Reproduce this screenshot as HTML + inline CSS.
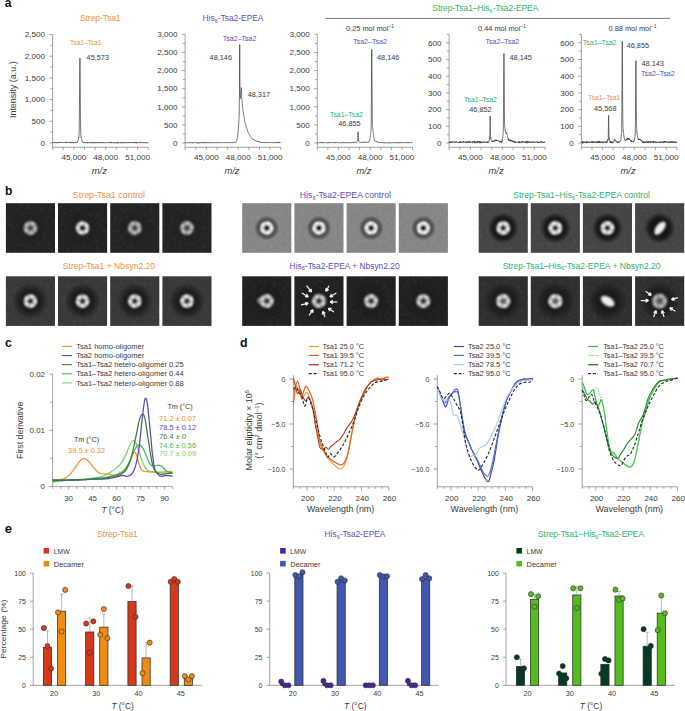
<!DOCTYPE html>
<html><head><meta charset="utf-8"><style>
html,body{margin:0;padding:0;background:#fff;}
svg{display:block;font-family:"Liberation Sans",sans-serif;}
</style></head><body>
<svg width="685" height="711" viewBox="0 0 685 711">
<rect width="685" height="711" fill="#fff"/>
<defs><filter id="bl" x="-60%" y="-60%" width="220%" height="220%"><feGaussianBlur stdDeviation="0.85"/></filter><filter id="bl2" x="-60%" y="-60%" width="220%" height="220%"><feGaussianBlur stdDeviation="1.1"/></filter><filter id="grain" x="0" y="0" width="100%" height="100%" filterUnits="objectBoundingBox"><feTurbulence type="fractalNoise" baseFrequency="0.3" numOctaves="2" seed="4"/><feColorMatrix type="matrix" values="0 0 0 0 1  0 0 0 0 1  0 0 0 0 1  2.2 0 0 0 -1.05"/></filter><filter id="grainD" x="0" y="0" width="100%" height="100%" filterUnits="objectBoundingBox"><feTurbulence type="fractalNoise" baseFrequency="0.3" numOctaves="2" seed="9"/><feColorMatrix type="matrix" values="0 0 0 0 0  0 0 0 0 0  0 0 0 0 0  2.2 0 0 0 -1.05"/></filter><radialGradient id="h1" cx="0.5" cy="0.5" r="0.5"><stop offset="0" stop-color="#141414" stop-opacity="0.45"/><stop offset="0.1" stop-color="#141414" stop-opacity="0.45"/><stop offset="0.85" stop-color="#141414" stop-opacity="0"/><stop offset="1" stop-color="#141414" stop-opacity="0"/></radialGradient><radialGradient id="h1b" cx="0.5" cy="0.5" r="0.5"><stop offset="0" stop-color="#161616" stop-opacity="0.95"/><stop offset="0.4" stop-color="#161616" stop-opacity="0.95"/><stop offset="0.6" stop-color="#161616" stop-opacity="0.6649999999999999"/><stop offset="0.9" stop-color="#161616" stop-opacity="0"/><stop offset="1" stop-color="#161616" stop-opacity="0"/></radialGradient><radialGradient id="h2t" cx="0.5" cy="0.5" r="0.5"><stop offset="0" stop-color="#1c1c1c" stop-opacity="0.92"/><stop offset="0.33999999999999997" stop-color="#1c1c1c" stop-opacity="0.92"/><stop offset="0.45" stop-color="#1c1c1c" stop-opacity="0.5060000000000001"/><stop offset="0.625" stop-color="#1c1c1c" stop-opacity="0"/><stop offset="1" stop-color="#1c1c1c" stop-opacity="0"/></radialGradient><radialGradient id="h2b" cx="0.5" cy="0.5" r="0.5"><stop offset="0" stop-color="#111111" stop-opacity="0.45"/><stop offset="0.2" stop-color="#111111" stop-opacity="0.45"/><stop offset="1.0" stop-color="#111111" stop-opacity="0"/><stop offset="1" stop-color="#111111" stop-opacity="0"/></radialGradient><radialGradient id="h3t" cx="0.5" cy="0.5" r="0.5"><stop offset="0" stop-color="#141414" stop-opacity="1"/><stop offset="0.425" stop-color="#141414" stop-opacity="1"/><stop offset="0.55" stop-color="#141414" stop-opacity="0.8"/><stop offset="0.775" stop-color="#141414" stop-opacity="0"/><stop offset="1" stop-color="#141414" stop-opacity="0"/></radialGradient><radialGradient id="h3b" cx="0.5" cy="0.5" r="0.5"><stop offset="0" stop-color="#161616" stop-opacity="0.85"/><stop offset="0.45" stop-color="#161616" stop-opacity="0.85"/><stop offset="0.7" stop-color="#161616" stop-opacity="0.51"/><stop offset="0.95" stop-color="#161616" stop-opacity="0"/><stop offset="1" stop-color="#161616" stop-opacity="0"/></radialGradient><radialGradient id="blob" cx="0.5" cy="0.5" r="0.5"><stop offset="0" stop-color="#f4f4f4" stop-opacity="1"/><stop offset="0.6" stop-color="#ececec" stop-opacity="1"/><stop offset="1" stop-color="#e8e8e8" stop-opacity="0"/></radialGradient></defs>
<text x="4.80" y="6.70" font-size="13" fill="#111" textLength="6.70" lengthAdjust="spacingAndGlyphs" font-weight="bold" >a</text>
<line x1="52.60" y1="34.50" x2="52.60" y2="147.30" stroke="#7d7d7d" stroke-width="0.7" />
<line x1="49.40" y1="143.00" x2="52.60" y2="143.00" stroke="#7d7d7d" stroke-width="0.7" />
<text x="45.10" y="145.70" font-size="7.8" fill="#3a3a3a" text-anchor="end" textLength="4.51" lengthAdjust="spacingAndGlyphs" >0</text>
<line x1="50.40" y1="132.15" x2="52.60" y2="132.15" stroke="#7d7d7d" stroke-width="0.7" />
<line x1="49.40" y1="121.30" x2="52.60" y2="121.30" stroke="#7d7d7d" stroke-width="0.7" />
<text x="45.10" y="124.00" font-size="7.8" fill="#3a3a3a" text-anchor="end" textLength="13.53" lengthAdjust="spacingAndGlyphs" >500</text>
<line x1="50.40" y1="110.45" x2="52.60" y2="110.45" stroke="#7d7d7d" stroke-width="0.7" />
<line x1="49.40" y1="99.60" x2="52.60" y2="99.60" stroke="#7d7d7d" stroke-width="0.7" />
<text x="45.10" y="102.30" font-size="7.8" fill="#3a3a3a" text-anchor="end" textLength="20.30" lengthAdjust="spacingAndGlyphs" >1,000</text>
<line x1="50.40" y1="88.75" x2="52.60" y2="88.75" stroke="#7d7d7d" stroke-width="0.7" />
<line x1="49.40" y1="77.90" x2="52.60" y2="77.90" stroke="#7d7d7d" stroke-width="0.7" />
<text x="45.10" y="80.60" font-size="7.8" fill="#3a3a3a" text-anchor="end" textLength="20.30" lengthAdjust="spacingAndGlyphs" >1,500</text>
<line x1="50.40" y1="67.05" x2="52.60" y2="67.05" stroke="#7d7d7d" stroke-width="0.7" />
<line x1="49.40" y1="56.20" x2="52.60" y2="56.20" stroke="#7d7d7d" stroke-width="0.7" />
<text x="45.10" y="58.90" font-size="7.8" fill="#3a3a3a" text-anchor="end" textLength="20.30" lengthAdjust="spacingAndGlyphs" >2,000</text>
<line x1="50.40" y1="45.35" x2="52.60" y2="45.35" stroke="#7d7d7d" stroke-width="0.7" />
<line x1="49.40" y1="34.50" x2="52.60" y2="34.50" stroke="#7d7d7d" stroke-width="0.7" />
<text x="45.10" y="37.20" font-size="7.8" fill="#3a3a3a" text-anchor="end" textLength="20.30" lengthAdjust="spacingAndGlyphs" >2,500</text>
<line x1="52.60" y1="147.30" x2="148.18" y2="147.30" stroke="#7d7d7d" stroke-width="0.7" />
<line x1="52.60" y1="147.30" x2="52.60" y2="149.90" stroke="#7d7d7d" stroke-width="0.7" />
<line x1="63.22" y1="147.30" x2="63.22" y2="149.90" stroke="#7d7d7d" stroke-width="0.7" />
<line x1="73.84" y1="147.30" x2="73.84" y2="149.90" stroke="#7d7d7d" stroke-width="0.7" />
<line x1="84.46" y1="147.30" x2="84.46" y2="149.90" stroke="#7d7d7d" stroke-width="0.7" />
<line x1="95.08" y1="147.30" x2="95.08" y2="149.90" stroke="#7d7d7d" stroke-width="0.7" />
<line x1="105.70" y1="147.30" x2="105.70" y2="149.90" stroke="#7d7d7d" stroke-width="0.7" />
<line x1="116.32" y1="147.30" x2="116.32" y2="149.90" stroke="#7d7d7d" stroke-width="0.7" />
<line x1="126.94" y1="147.30" x2="126.94" y2="149.90" stroke="#7d7d7d" stroke-width="0.7" />
<line x1="137.56" y1="147.30" x2="137.56" y2="149.90" stroke="#7d7d7d" stroke-width="0.7" />
<line x1="148.18" y1="147.30" x2="148.18" y2="149.90" stroke="#7d7d7d" stroke-width="0.7" />
<text x="73.84" y="160.40" font-size="7.8" fill="#3a3a3a" text-anchor="middle" textLength="24.81" lengthAdjust="spacingAndGlyphs" >45,000</text>
<text x="105.70" y="160.40" font-size="7.8" fill="#3a3a3a" text-anchor="middle" textLength="24.81" lengthAdjust="spacingAndGlyphs" >48,000</text>
<text x="137.56" y="160.40" font-size="7.8" fill="#3a3a3a" text-anchor="middle" textLength="24.81" lengthAdjust="spacingAndGlyphs" >51,000</text>
<text x="99.39" y="174.00" font-size="8.5" fill="#3a3a3a" text-anchor="middle" textLength="15.00" lengthAdjust="spacingAndGlyphs" font-style="italic" >m/z</text>
<path d="M52.60,143.01 L52.76,142.66 L52.92,142.52 L53.08,142.85 L53.24,143.03 L53.40,142.75 L53.56,142.64 L53.72,142.50 L53.87,143.00 L54.03,143.02 L54.19,142.59 L54.35,142.64 L54.51,142.41 L54.67,142.53 L54.83,142.76 L54.99,142.80 L55.15,142.18 L55.31,142.80 L55.47,142.91 L55.63,142.99 L55.79,142.72 L55.95,142.71 L56.10,142.81 L56.26,142.75 L56.42,142.68 L56.58,142.59 L56.74,142.50 L56.90,142.69 L57.06,143.12 L57.22,142.58 L57.38,143.04 L57.54,142.77 L57.70,143.05 L57.86,142.73 L58.02,142.90 L58.18,142.68 L58.33,142.01 L58.49,142.73 L58.65,142.54 L58.81,143.01 L58.97,142.78 L59.13,142.57 L59.29,142.73 L59.45,142.63 L59.61,142.68 L59.77,142.92 L59.93,142.57 L60.09,142.87 L60.25,142.28 L60.41,142.79 L60.56,142.53 L60.72,142.67 L60.88,142.46 L61.04,142.79 L61.20,142.43 L61.36,142.67 L61.52,142.36 L61.68,142.49 L61.84,142.58 L62.00,142.78 L62.16,142.43 L62.32,142.49 L62.48,142.22 L62.64,142.65 L62.80,142.44 L62.95,142.44 L63.11,142.47 L63.27,142.48 L63.43,142.48 L63.59,142.63 L63.75,142.71 L63.91,142.57 L64.07,142.35 L64.23,142.14 L64.39,142.24 L64.55,142.22 L64.71,142.27 L64.87,142.28 L65.03,142.38 L65.18,142.25 L65.34,142.03 L65.50,142.48 L65.66,142.55 L65.82,141.97 L65.98,142.34 L66.14,142.18 L66.30,142.20 L66.46,142.64 L66.62,141.87 L66.78,142.01 L66.94,142.36 L67.10,142.24 L67.26,142.38 L67.41,142.60 L67.57,142.44 L67.73,142.34 L67.89,142.19 L68.05,142.28 L68.21,142.43 L68.37,142.16 L68.53,142.63 L68.69,142.30 L68.85,142.24 L69.01,142.55 L69.17,142.89 L69.33,142.71 L69.49,142.47 L69.65,142.42 L69.80,142.21 L69.96,142.77 L70.12,142.56 L70.28,142.43 L70.44,142.62 L70.60,143.11 L70.76,142.43 L70.92,142.11 L71.08,142.40 L71.24,142.83 L71.40,142.73 L71.56,142.60 L71.72,142.11 L71.88,142.53 L72.03,142.64 L72.19,142.33 L72.35,142.70 L72.51,142.28 L72.67,142.84 L72.83,142.80 L72.99,142.54 L73.15,142.39 L73.31,142.56 L73.47,142.64 L73.63,143.11 L73.79,142.87 L73.95,142.85 L74.11,142.84 L74.26,142.60 L74.42,142.80 L74.58,142.56 L74.74,142.71 L74.90,142.80 L75.06,142.70 L75.22,142.64 L75.38,142.54 L75.54,142.83 L75.70,142.78 L75.86,143.02 L76.02,142.36 L76.18,142.38 L76.34,142.71 L76.50,142.74 L76.65,142.86 L76.81,142.49 L76.97,142.39 L77.13,141.84 L77.29,142.09 L77.45,142.10 L77.61,142.20 L77.77,141.03 L77.93,140.89 L78.09,140.81 L78.25,139.88 L78.41,139.66 L78.57,137.89 L78.73,137.65 L78.77,137.53 L78.81,137.44 L78.85,137.58 L78.90,136.81 L78.94,136.71 L78.98,135.74 L79.02,135.71 L79.07,134.64 L79.11,133.16 L79.15,131.76 L79.19,130.74 L79.23,128.76 L79.28,125.71 L79.32,122.66 L79.36,119.43 L79.40,115.14 L79.45,110.33 L79.49,105.09 L79.53,99.17 L79.57,92.63 L79.62,86.49 L79.66,80.00 L79.70,74.57 L79.74,69.24 L79.79,64.88 L79.83,61.15 L79.87,59.07 L79.91,58.13 L79.96,57.91 L80.00,59.41 L80.04,62.47 L80.08,66.38 L80.13,71.55 L80.17,77.37 L80.21,83.24 L80.25,89.56 L80.30,95.90 L80.34,101.98 L80.38,107.49 L80.42,112.23 L80.47,116.69 L80.51,120.72 L80.55,123.62 L80.59,126.65 L80.64,128.82 L80.68,130.50 L80.72,132.39 L80.76,133.78 L80.81,134.08 L80.85,135.09 L80.89,135.20 L80.93,135.86 L80.98,136.07 L81.02,136.43 L81.06,137.32 L81.10,136.95 L81.15,137.48 L81.19,137.71 L81.23,137.84 L81.39,138.30 L81.55,138.95 L81.71,139.55 L81.87,140.69 L82.03,140.95 L82.19,141.75 L82.35,141.61 L82.51,141.74 L82.67,142.26 L82.82,142.22 L82.98,142.36 L83.14,142.29 L83.30,142.76 L83.46,142.81 L83.62,142.83 L83.78,142.31 L83.94,142.47 L84.10,142.75 L84.26,142.68 L84.42,142.71 L84.58,142.69 L84.74,142.78 L84.90,142.81 L85.05,143.01 L85.21,142.88 L85.37,142.38 L85.53,142.62 L85.69,142.73 L85.85,142.79 L86.01,142.73 L86.17,142.66 L86.33,142.88 L86.49,142.70 L86.65,142.69 L86.81,142.90 L86.97,142.91 L87.13,142.96 L87.28,142.97 L87.44,142.55 L87.60,143.25 L87.76,142.80 L87.92,142.87 L88.08,142.87 L88.24,142.72 L88.40,142.49 L88.56,142.72 L88.72,142.77 L88.88,142.87 L89.04,142.77 L89.20,142.54 L89.36,142.83 L89.52,142.99 L89.67,143.01 L89.83,142.98 L89.99,143.04 L90.15,142.50 L90.31,142.66 L90.47,142.79 L90.63,142.42 L90.79,142.88 L90.95,142.58 L91.11,142.57 L91.27,143.08 L91.43,143.08 L91.59,142.94 L91.75,142.54 L91.90,142.46 L92.06,143.01 L92.22,142.51 L92.38,142.82 L92.54,142.82 L92.70,142.86 L92.86,142.81 L93.02,143.13 L93.18,142.96 L93.34,143.01 L93.50,142.63 L93.66,142.29 L93.82,142.15 L93.98,142.81 L94.13,143.11 L94.29,142.83 L94.45,142.94 L94.61,142.31 L94.77,142.62 L94.93,142.90 L95.09,142.54 L95.25,142.62 L95.41,143.09 L95.57,142.85 L95.73,142.79 L95.89,142.74 L96.05,142.71 L96.21,142.81 L96.37,142.70 L96.52,142.87 L96.68,142.93 L96.84,142.41 L97.00,142.66 L97.16,142.64 L97.32,143.09 L97.48,142.78 L97.64,142.56 L97.80,143.02 L97.96,142.50 L98.12,142.82 L98.28,142.65 L98.44,142.77 L98.60,142.69 L98.75,142.48 L98.91,142.83 L99.07,142.40 L99.23,142.91 L99.39,142.94 L99.55,142.59 L99.71,142.97 L99.87,142.82 L100.03,142.54 L100.19,142.48 L100.35,143.12 L100.51,142.63 L100.67,142.33 L100.83,142.48 L100.98,142.79 L101.14,142.87 L101.30,142.80 L101.46,142.99 L101.62,142.80 L101.78,142.78 L101.94,142.77 L102.10,142.48 L102.26,142.79 L102.42,143.06 L102.58,142.51 L102.74,142.97 L102.90,142.84 L103.06,142.77 L103.21,142.81 L103.37,142.96 L103.53,142.79 L103.69,142.27 L103.85,142.87 L104.01,142.77 L104.17,142.50 L104.33,142.58 L104.49,142.57 L104.65,142.55 L104.81,143.17 L104.97,142.93 L105.13,142.71 L105.29,142.63 L105.45,142.46 L105.60,142.64 L105.76,142.79 L105.92,142.73 L106.08,142.79 L106.24,142.69 L106.40,142.59 L106.56,142.81 L106.72,142.92 L106.88,142.93 L107.04,142.50 L107.20,142.46 L107.36,142.52 L107.52,142.55 L107.68,142.56 L107.83,142.74 L107.99,142.60 L108.15,142.97 L108.31,142.78 L108.47,142.90 L108.63,142.58 L108.79,142.87 L108.95,142.76 L109.11,142.65 L109.27,142.45 L109.43,142.91 L109.59,142.94 L109.75,142.56 L109.91,142.98 L110.06,142.64 L110.22,142.86 L110.38,142.76 L110.54,143.13 L110.70,142.58 L110.86,142.85 L111.02,142.93 L111.18,142.29 L111.34,142.59 L111.50,141.98 L111.66,142.65 L111.82,142.82 L111.98,142.72 L112.14,142.39 L112.30,142.75 L112.45,142.64 L112.61,142.63 L112.77,142.94 L112.93,142.71 L113.09,142.85 L113.25,143.01 L113.41,142.55 L113.57,142.60 L113.73,142.72 L113.89,142.94 L114.05,143.17 L114.21,142.63 L114.37,142.76 L114.53,143.10 L114.68,142.75 L114.84,143.07 L115.00,142.75 L115.16,142.71 L115.32,142.66 L115.48,142.69 L115.64,142.70 L115.80,142.99 L115.96,142.82 L116.12,142.85 L116.28,142.79 L116.44,142.68 L116.60,142.61 L116.76,142.38 L116.91,143.30 L117.07,142.65 L117.23,142.78 L117.39,142.25 L117.55,142.54 L117.71,143.10 L117.87,142.65 L118.03,142.85 L118.19,142.52 L118.35,142.97 L118.51,142.76 L118.67,142.77 L118.83,142.76 L118.99,142.87 L119.14,143.14 L119.30,142.64 L119.46,142.52 L119.62,142.75 L119.78,142.96 L119.94,142.70 L120.10,142.62 L120.26,142.78 L120.42,142.74 L120.58,142.43 L120.74,142.98 L120.90,142.86 L121.06,143.15 L121.22,142.89 L121.38,142.90 L121.53,142.95 L121.69,142.89 L121.85,142.35 L122.01,142.78 L122.17,142.76 L122.33,142.26 L122.49,142.75 L122.65,143.12 L122.81,142.65 L122.97,142.94 L123.13,142.38 L123.29,143.01 L123.45,142.87 L123.61,143.09 L123.76,142.72 L123.92,142.96 L124.08,142.75 L124.24,142.82 L124.40,142.87 L124.56,142.53 L124.72,142.54 L124.88,142.73 L125.04,142.93 L125.20,142.97 L125.36,142.68 L125.52,142.22 L125.68,142.84 L125.84,142.91 L125.99,142.89 L126.15,142.98 L126.31,142.95 L126.47,142.78 L126.63,142.43 L126.79,142.74 L126.95,142.85 L127.11,143.09 L127.27,142.69 L127.43,142.75 L127.59,143.01 L127.75,142.98 L127.91,142.75 L128.07,142.52 L128.23,142.60 L128.38,142.69 L128.54,142.81 L128.70,142.67 L128.86,142.74 L129.02,142.27 L129.18,142.99 L129.34,142.82 L129.50,142.46 L129.66,142.80 L129.82,142.43 L129.98,142.75 L130.14,142.71 L130.30,142.82 L130.46,143.04 L130.61,142.95 L130.77,142.26 L130.93,142.60 L131.09,142.61 L131.25,142.53 L131.41,142.62 L131.57,142.52 L131.73,142.80 L131.89,142.79 L132.05,142.53 L132.21,142.82 L132.37,143.03 L132.53,142.79 L132.69,142.86 L132.84,142.61 L133.00,142.90 L133.16,142.97 L133.32,142.81 L133.48,142.40 L133.64,142.75 L133.80,142.70 L133.96,142.74 L134.12,142.68 L134.28,142.54 L134.44,142.44 L134.60,143.10 L134.76,142.44 L134.92,142.74 L135.07,142.81 L135.23,142.22 L135.39,142.78 L135.55,142.32 L135.71,142.53 L135.87,142.96 L136.03,142.63 L136.19,142.58 L136.35,142.77 L136.51,143.24 L136.67,142.81 L136.83,142.78 L136.99,142.98 L137.15,142.34 L137.31,142.79 L137.46,142.82 L137.62,142.80 L137.78,142.91 L137.94,142.91 L138.10,142.72 L138.26,142.67 L138.42,142.85 L138.58,142.76 L138.74,143.04 L138.90,142.63 L139.06,142.90 L139.22,142.69 L139.38,142.94 L139.54,142.85 L139.69,142.69 L139.85,143.00 L140.01,142.20 L140.17,142.75 L140.33,142.76 L140.49,142.90 L140.65,142.39 L140.81,142.44 L140.97,142.67 L141.13,143.04 L141.29,142.85 L141.45,142.61 L141.61,142.85 L141.77,143.00 L141.92,143.00 L142.08,142.91 L142.24,142.74 L142.40,142.88 L142.56,142.74 L142.72,142.13 L142.88,142.35 L143.04,142.96 L143.20,142.67 L143.36,142.72 L143.52,142.77 L143.68,142.51 L143.84,142.81 L144.00,142.81 L144.16,142.82 L144.31,142.76 L144.47,142.46 L144.63,142.57 L144.79,143.03 L144.95,142.84 L145.11,142.91 L145.27,142.56 L145.43,142.69 L145.59,142.55 L145.75,142.75 L145.91,143.15 L146.07,142.64 L146.23,142.69 L146.39,142.63 L146.54,143.02 L146.70,142.72 L146.86,142.89 L147.02,142.89 L147.18,142.66 L147.34,142.66 L147.50,142.93 L147.66,143.11 L147.82,143.28 L147.98,142.86 L148.14,142.50" fill="none" stroke="#333333" stroke-width="0.68" stroke-linejoin="round" />
<line x1="185.10" y1="34.40" x2="185.10" y2="147.30" stroke="#7d7d7d" stroke-width="0.7" />
<line x1="181.90" y1="143.00" x2="185.10" y2="143.00" stroke="#7d7d7d" stroke-width="0.7" />
<text x="177.60" y="145.70" font-size="7.8" fill="#3a3a3a" text-anchor="end" textLength="4.51" lengthAdjust="spacingAndGlyphs" >0</text>
<line x1="182.90" y1="133.95" x2="185.10" y2="133.95" stroke="#7d7d7d" stroke-width="0.7" />
<line x1="181.90" y1="124.90" x2="185.10" y2="124.90" stroke="#7d7d7d" stroke-width="0.7" />
<text x="177.60" y="127.60" font-size="7.8" fill="#3a3a3a" text-anchor="end" textLength="13.53" lengthAdjust="spacingAndGlyphs" >500</text>
<line x1="182.90" y1="115.85" x2="185.10" y2="115.85" stroke="#7d7d7d" stroke-width="0.7" />
<line x1="181.90" y1="106.80" x2="185.10" y2="106.80" stroke="#7d7d7d" stroke-width="0.7" />
<text x="177.60" y="109.50" font-size="7.8" fill="#3a3a3a" text-anchor="end" textLength="20.30" lengthAdjust="spacingAndGlyphs" >1,000</text>
<line x1="182.90" y1="97.75" x2="185.10" y2="97.75" stroke="#7d7d7d" stroke-width="0.7" />
<line x1="181.90" y1="88.70" x2="185.10" y2="88.70" stroke="#7d7d7d" stroke-width="0.7" />
<text x="177.60" y="91.40" font-size="7.8" fill="#3a3a3a" text-anchor="end" textLength="20.30" lengthAdjust="spacingAndGlyphs" >1,500</text>
<line x1="182.90" y1="79.65" x2="185.10" y2="79.65" stroke="#7d7d7d" stroke-width="0.7" />
<line x1="181.90" y1="70.60" x2="185.10" y2="70.60" stroke="#7d7d7d" stroke-width="0.7" />
<text x="177.60" y="73.30" font-size="7.8" fill="#3a3a3a" text-anchor="end" textLength="20.30" lengthAdjust="spacingAndGlyphs" >2,000</text>
<line x1="182.90" y1="61.55" x2="185.10" y2="61.55" stroke="#7d7d7d" stroke-width="0.7" />
<line x1="181.90" y1="52.50" x2="185.10" y2="52.50" stroke="#7d7d7d" stroke-width="0.7" />
<text x="177.60" y="55.20" font-size="7.8" fill="#3a3a3a" text-anchor="end" textLength="20.30" lengthAdjust="spacingAndGlyphs" >2,500</text>
<line x1="182.90" y1="43.45" x2="185.10" y2="43.45" stroke="#7d7d7d" stroke-width="0.7" />
<line x1="181.90" y1="34.40" x2="185.10" y2="34.40" stroke="#7d7d7d" stroke-width="0.7" />
<text x="177.60" y="37.10" font-size="7.8" fill="#3a3a3a" text-anchor="end" textLength="20.30" lengthAdjust="spacingAndGlyphs" >3,000</text>
<line x1="185.10" y1="147.30" x2="280.77" y2="147.30" stroke="#7d7d7d" stroke-width="0.7" />
<line x1="185.10" y1="147.30" x2="185.10" y2="149.90" stroke="#7d7d7d" stroke-width="0.7" />
<line x1="195.73" y1="147.30" x2="195.73" y2="149.90" stroke="#7d7d7d" stroke-width="0.7" />
<line x1="206.36" y1="147.30" x2="206.36" y2="149.90" stroke="#7d7d7d" stroke-width="0.7" />
<line x1="216.99" y1="147.30" x2="216.99" y2="149.90" stroke="#7d7d7d" stroke-width="0.7" />
<line x1="227.62" y1="147.30" x2="227.62" y2="149.90" stroke="#7d7d7d" stroke-width="0.7" />
<line x1="238.25" y1="147.30" x2="238.25" y2="149.90" stroke="#7d7d7d" stroke-width="0.7" />
<line x1="248.88" y1="147.30" x2="248.88" y2="149.90" stroke="#7d7d7d" stroke-width="0.7" />
<line x1="259.51" y1="147.30" x2="259.51" y2="149.90" stroke="#7d7d7d" stroke-width="0.7" />
<line x1="270.14" y1="147.30" x2="270.14" y2="149.90" stroke="#7d7d7d" stroke-width="0.7" />
<line x1="280.77" y1="147.30" x2="280.77" y2="149.90" stroke="#7d7d7d" stroke-width="0.7" />
<text x="206.36" y="160.40" font-size="7.8" fill="#3a3a3a" text-anchor="middle" textLength="24.81" lengthAdjust="spacingAndGlyphs" >45,000</text>
<text x="238.25" y="160.40" font-size="7.8" fill="#3a3a3a" text-anchor="middle" textLength="24.81" lengthAdjust="spacingAndGlyphs" >48,000</text>
<text x="270.14" y="160.40" font-size="7.8" fill="#3a3a3a" text-anchor="middle" textLength="24.81" lengthAdjust="spacingAndGlyphs" >51,000</text>
<text x="231.94" y="174.00" font-size="8.5" fill="#3a3a3a" text-anchor="middle" textLength="15.00" lengthAdjust="spacingAndGlyphs" font-style="italic" >m/z</text>
<path d="M185.10,143.10 L185.26,142.86 L185.42,142.93 L185.58,142.96 L185.74,142.75 L185.90,142.88 L186.06,142.93 L186.22,142.63 L186.38,142.96 L186.54,143.07 L186.69,143.08 L186.85,142.96 L187.01,142.79 L187.17,142.76 L187.33,142.72 L187.49,142.61 L187.65,142.63 L187.81,142.78 L187.97,142.68 L188.13,142.78 L188.29,142.96 L188.45,142.75 L188.61,142.86 L188.77,142.90 L188.93,142.58 L189.09,142.76 L189.25,142.94 L189.41,142.88 L189.56,142.53 L189.72,142.90 L189.88,142.76 L190.04,142.77 L190.20,142.79 L190.36,142.78 L190.52,142.93 L190.68,142.93 L190.84,142.89 L191.00,142.91 L191.16,142.74 L191.32,142.63 L191.48,142.99 L191.64,142.78 L191.80,143.00 L191.96,142.96 L192.12,142.89 L192.28,142.84 L192.43,142.92 L192.59,143.24 L192.75,142.65 L192.91,142.89 L193.07,142.95 L193.23,142.75 L193.39,142.94 L193.55,143.06 L193.71,142.78 L193.87,142.79 L194.03,142.97 L194.19,142.73 L194.35,142.79 L194.51,143.02 L194.67,142.59 L194.83,142.81 L194.99,143.01 L195.15,142.78 L195.30,142.83 L195.46,142.70 L195.62,143.04 L195.78,142.69 L195.94,142.71 L196.10,142.74 L196.26,142.75 L196.42,142.65 L196.58,142.74 L196.74,142.82 L196.90,142.96 L197.06,142.68 L197.22,142.69 L197.38,142.79 L197.54,142.82 L197.70,142.73 L197.86,143.21 L198.02,142.79 L198.17,143.20 L198.33,142.80 L198.49,142.68 L198.65,142.56 L198.81,142.90 L198.97,142.77 L199.13,142.84 L199.29,143.16 L199.45,142.72 L199.61,142.83 L199.77,142.82 L199.93,142.97 L200.09,142.83 L200.25,142.82 L200.41,142.64 L200.57,142.78 L200.73,142.31 L200.89,142.89 L201.04,142.86 L201.20,142.83 L201.36,142.94 L201.52,142.60 L201.68,142.73 L201.84,143.01 L202.00,142.81 L202.16,142.65 L202.32,143.03 L202.48,142.80 L202.64,142.85 L202.80,142.48 L202.96,142.76 L203.12,142.88 L203.28,142.90 L203.44,142.54 L203.60,142.88 L203.76,142.48 L203.92,143.04 L204.07,142.84 L204.23,142.85 L204.39,142.92 L204.55,142.84 L204.71,142.71 L204.87,142.91 L205.03,143.02 L205.19,142.61 L205.35,142.59 L205.51,142.91 L205.67,142.76 L205.83,143.19 L205.99,142.65 L206.15,143.00 L206.31,142.89 L206.47,142.49 L206.63,142.99 L206.79,142.80 L206.94,142.96 L207.10,143.07 L207.26,142.97 L207.42,142.76 L207.58,142.99 L207.74,142.89 L207.90,142.69 L208.06,142.82 L208.22,142.99 L208.38,142.58 L208.54,142.78 L208.70,142.59 L208.86,142.95 L209.02,142.55 L209.18,142.99 L209.34,143.05 L209.50,142.86 L209.66,142.85 L209.81,142.75 L209.97,142.87 L210.13,142.70 L210.29,142.60 L210.45,142.89 L210.61,142.99 L210.77,142.85 L210.93,142.67 L211.09,142.67 L211.25,142.84 L211.41,142.93 L211.57,142.79 L211.73,142.64 L211.89,142.89 L212.05,142.59 L212.21,142.75 L212.37,142.74 L212.53,142.88 L212.68,142.58 L212.84,142.78 L213.00,143.00 L213.16,142.66 L213.32,142.84 L213.48,142.62 L213.64,142.75 L213.80,142.87 L213.96,142.75 L214.12,142.85 L214.28,142.90 L214.44,142.77 L214.60,142.65 L214.76,142.76 L214.92,142.79 L215.08,142.86 L215.24,142.69 L215.40,142.73 L215.55,142.63 L215.71,142.72 L215.87,142.46 L216.03,143.00 L216.19,142.78 L216.35,142.69 L216.51,142.64 L216.67,142.99 L216.83,142.95 L216.99,142.77 L217.15,142.61 L217.31,142.60 L217.47,142.99 L217.63,142.75 L217.79,142.59 L217.95,142.76 L218.11,142.91 L218.27,142.87 L218.43,142.96 L218.58,142.59 L218.74,142.80 L218.90,142.82 L219.06,142.89 L219.22,142.78 L219.38,142.89 L219.54,142.90 L219.70,142.76 L219.86,142.79 L220.02,142.69 L220.18,142.73 L220.34,142.58 L220.50,142.76 L220.66,142.72 L220.82,142.72 L220.98,142.87 L221.14,142.58 L221.30,142.83 L221.45,142.98 L221.61,142.57 L221.77,142.65 L221.93,142.83 L222.09,142.61 L222.25,142.61 L222.41,142.64 L222.57,142.92 L222.73,142.72 L222.89,142.90 L223.05,142.83 L223.21,142.83 L223.37,142.87 L223.53,142.67 L223.69,142.86 L223.85,142.65 L224.01,142.72 L224.17,142.83 L224.32,142.72 L224.48,142.64 L224.64,142.57 L224.80,142.78 L224.96,142.48 L225.12,142.65 L225.28,142.55 L225.44,142.93 L225.60,142.89 L225.76,142.56 L225.92,142.77 L226.08,142.67 L226.24,142.56 L226.40,142.94 L226.56,142.67 L226.72,142.45 L226.88,142.61 L227.04,142.72 L227.19,142.65 L227.35,142.73 L227.51,142.62 L227.67,142.54 L227.83,142.76 L227.99,142.64 L228.15,142.68 L228.31,142.62 L228.47,142.60 L228.63,142.88 L228.79,142.55 L228.95,142.60 L229.11,142.88 L229.27,142.76 L229.43,142.93 L229.59,142.76 L229.75,142.67 L229.91,142.89 L230.06,142.83 L230.22,142.85 L230.38,142.82 L230.54,142.83 L230.70,142.87 L230.86,142.63 L231.02,142.75 L231.18,142.84 L231.34,142.57 L231.50,142.80 L231.66,142.58 L231.82,142.89 L231.98,142.51 L232.14,142.78 L232.30,142.85 L232.46,142.65 L232.62,142.90 L232.78,142.87 L232.94,142.67 L233.09,142.78 L233.25,142.65 L233.41,142.69 L233.57,142.67 L233.73,142.69 L233.89,142.60 L234.05,142.67 L234.21,142.40 L234.37,142.31 L234.53,142.63 L234.69,142.49 L234.85,141.90 L235.01,142.08 L235.17,142.07 L235.33,142.30 L235.49,142.42 L235.65,142.32 L235.81,142.62 L235.96,142.22 L236.12,141.94 L236.28,141.81 L236.44,141.49 L236.60,141.12 L236.76,140.17 L236.92,139.21 L237.08,138.65 L237.24,137.68 L237.40,136.31 L237.56,135.67 L237.72,134.62 L237.88,133.90 L238.04,133.03 L238.20,130.82 L238.36,128.91 L238.52,126.47 L238.68,123.84 L238.83,121.54 L238.88,121.14 L238.92,120.24 L238.96,119.52 L239.00,119.21 L239.05,118.43 L239.09,117.59 L239.13,115.10 L239.17,112.82 L239.22,109.68 L239.26,106.68 L239.30,103.92 L239.34,101.03 L239.39,98.07 L239.43,93.61 L239.47,85.27 L239.51,76.42 L239.56,67.86 L239.60,59.29 L239.64,50.62 L239.69,44.50 L239.73,46.27 L239.77,53.49 L239.81,60.82 L239.86,68.24 L239.90,75.82 L239.94,83.19 L239.98,86.42 L240.03,87.99 L240.07,89.74 L240.11,91.37 L240.15,93.05 L240.20,94.56 L240.24,96.24 L240.28,97.68 L240.32,97.97 L240.37,97.94 L240.41,98.00 L240.45,98.07 L240.49,98.30 L240.54,97.90 L240.58,97.66 L240.62,97.01 L240.66,96.54 L240.71,96.24 L240.75,95.84 L240.79,95.09 L240.83,94.96 L240.88,94.26 L240.92,93.92 L240.96,93.39 L241.00,92.83 L241.05,92.32 L241.09,91.72 L241.13,90.92 L241.17,90.42 L241.22,90.11 L241.26,89.48 L241.30,88.88 L241.34,88.53 L241.39,87.66 L241.43,88.65 L241.47,89.73 L241.51,91.11 L241.56,92.30 L241.60,93.44 L241.64,94.54 L241.68,95.46 L241.73,96.81 L241.77,97.63 L241.81,98.30 L241.85,98.86 L241.90,99.17 L241.94,99.73 L241.98,100.40 L242.02,100.63 L242.07,100.95 L242.11,101.63 L242.15,102.25 L242.19,102.67 L242.24,103.21 L242.28,103.55 L242.32,104.14 L242.36,104.50 L242.41,104.93 L242.45,105.25 L242.49,106.09 L242.53,106.70 L242.58,106.64 L242.62,107.30 L242.66,107.89 L242.70,108.25 L242.75,108.94 L242.79,109.33 L242.83,109.50 L242.87,109.91 L242.92,110.11 L242.96,110.33 L243.00,110.64 L243.04,110.95 L243.09,111.10 L243.13,111.25 L243.17,111.52 L243.21,112.10 L243.26,112.12 L243.30,112.77 L243.34,112.96 L243.38,112.97 L243.43,113.21 L243.47,113.35 L243.63,114.79 L243.79,115.37 L243.95,116.59 L244.11,117.57 L244.27,118.42 L244.43,119.27 L244.59,120.60 L244.74,121.70 L244.90,122.21 L245.06,122.64 L245.22,122.96 L245.38,123.59 L245.54,124.19 L245.70,124.73 L245.86,125.23 L246.02,125.53 L246.18,126.42 L246.34,126.79 L246.50,127.32 L246.66,127.54 L246.82,128.19 L246.98,128.81 L247.14,129.11 L247.30,129.45 L247.46,130.09 L247.62,130.93 L247.77,131.28 L247.93,131.60 L248.09,132.53 L248.25,132.87 L248.41,133.01 L248.57,133.13 L248.73,133.57 L248.89,133.69 L249.05,133.99 L249.21,134.17 L249.37,134.65 L249.53,135.05 L249.69,135.30 L249.85,135.22 L250.01,135.35 L250.17,135.68 L250.33,136.24 L250.49,136.51 L250.64,136.56 L250.80,136.90 L250.96,137.29 L251.12,137.36 L251.28,137.65 L251.44,137.81 L251.60,137.99 L251.76,138.27 L251.92,138.53 L252.08,138.65 L252.24,138.82 L252.40,138.95 L252.56,139.02 L252.72,138.88 L252.88,139.17 L253.04,139.10 L253.20,139.06 L253.36,139.12 L253.51,139.77 L253.67,139.52 L253.83,139.48 L253.99,139.77 L254.15,139.89 L254.31,140.07 L254.47,140.04 L254.63,140.03 L254.79,140.38 L254.95,140.19 L255.11,140.39 L255.27,140.35 L255.43,140.59 L255.59,140.50 L255.75,140.57 L255.91,140.78 L256.07,140.86 L256.23,140.70 L256.38,140.83 L256.54,141.12 L256.70,141.02 L256.86,141.33 L257.02,141.32 L257.18,141.75 L257.34,141.49 L257.50,141.37 L257.66,141.57 L257.82,141.45 L257.98,141.67 L258.14,141.57 L258.30,141.67 L258.46,141.83 L258.62,141.42 L258.78,141.89 L258.94,142.00 L259.10,141.82 L259.25,141.81 L259.41,141.87 L259.57,141.97 L259.73,141.92 L259.89,141.89 L260.05,141.98 L260.21,142.31 L260.37,141.89 L260.53,142.18 L260.69,142.51 L260.85,142.14 L261.01,142.31 L261.17,142.29 L261.33,142.08 L261.49,142.48 L261.65,142.53 L261.81,142.62 L261.97,142.49 L262.12,142.43 L262.28,142.47 L262.44,142.51 L262.60,142.84 L262.76,142.50 L262.92,142.38 L263.08,142.61 L263.24,142.62 L263.40,142.69 L263.56,142.51 L263.72,142.77 L263.88,142.27 L264.04,142.58 L264.20,142.64 L264.36,142.73 L264.52,142.47 L264.68,142.41 L264.84,142.64 L265.00,142.53 L265.15,142.52 L265.31,142.42 L265.47,142.47 L265.63,142.38 L265.79,142.77 L265.95,142.19 L266.11,142.64 L266.27,142.73 L266.43,142.70 L266.59,142.52 L266.75,142.46 L266.91,142.22 L267.07,142.40 L267.23,142.69 L267.39,142.63 L267.55,142.65 L267.71,142.67 L267.87,142.61 L268.02,142.67 L268.18,142.42 L268.34,142.54 L268.50,142.50 L268.66,142.61 L268.82,142.76 L268.98,142.53 L269.14,142.65 L269.30,142.31 L269.46,142.42 L269.62,142.78 L269.78,142.75 L269.94,142.68 L270.10,142.64 L270.26,142.44 L270.42,142.63 L270.58,142.54 L270.74,142.66 L270.89,142.64 L271.05,142.44 L271.21,142.61 L271.37,142.33 L271.53,142.63 L271.69,142.56 L271.85,142.56 L272.01,142.53 L272.17,142.35 L272.33,142.72 L272.49,142.70 L272.65,142.77 L272.81,142.37 L272.97,142.56 L273.13,142.57 L273.29,142.57 L273.45,142.90 L273.61,142.53 L273.76,142.62 L273.92,142.60 L274.08,142.63 L274.24,142.66 L274.40,142.66 L274.56,142.73 L274.72,142.68 L274.88,142.56 L275.04,142.96 L275.20,142.53 L275.36,142.56 L275.52,142.81 L275.68,142.58 L275.84,142.62 L276.00,142.74 L276.16,142.42 L276.32,142.64 L276.48,142.69 L276.63,142.86 L276.79,142.35 L276.95,142.64 L277.11,142.63 L277.27,142.71 L277.43,142.38 L277.59,142.70 L277.75,142.45 L277.91,142.53 L278.07,142.54 L278.23,142.59 L278.39,142.52 L278.55,142.70 L278.71,142.99 L278.87,143.08 L279.03,142.53 L279.19,142.99 L279.35,142.50 L279.51,142.25 L279.66,142.97 L279.82,142.61 L279.98,142.63 L280.14,142.80 L280.30,142.99 L280.46,142.72 L280.62,142.46" fill="none" stroke="#333333" stroke-width="0.68" stroke-linejoin="round" />
<line x1="317.30" y1="34.40" x2="317.30" y2="147.30" stroke="#7d7d7d" stroke-width="0.7" />
<line x1="314.10" y1="143.00" x2="317.30" y2="143.00" stroke="#7d7d7d" stroke-width="0.7" />
<text x="309.80" y="145.70" font-size="7.8" fill="#3a3a3a" text-anchor="end" textLength="4.51" lengthAdjust="spacingAndGlyphs" >0</text>
<line x1="315.10" y1="133.95" x2="317.30" y2="133.95" stroke="#7d7d7d" stroke-width="0.7" />
<line x1="314.10" y1="124.90" x2="317.30" y2="124.90" stroke="#7d7d7d" stroke-width="0.7" />
<text x="309.80" y="127.60" font-size="7.8" fill="#3a3a3a" text-anchor="end" textLength="13.53" lengthAdjust="spacingAndGlyphs" >500</text>
<line x1="315.10" y1="115.85" x2="317.30" y2="115.85" stroke="#7d7d7d" stroke-width="0.7" />
<line x1="314.10" y1="106.80" x2="317.30" y2="106.80" stroke="#7d7d7d" stroke-width="0.7" />
<text x="309.80" y="109.50" font-size="7.8" fill="#3a3a3a" text-anchor="end" textLength="20.30" lengthAdjust="spacingAndGlyphs" >1,000</text>
<line x1="315.10" y1="97.75" x2="317.30" y2="97.75" stroke="#7d7d7d" stroke-width="0.7" />
<line x1="314.10" y1="88.70" x2="317.30" y2="88.70" stroke="#7d7d7d" stroke-width="0.7" />
<text x="309.80" y="91.40" font-size="7.8" fill="#3a3a3a" text-anchor="end" textLength="20.30" lengthAdjust="spacingAndGlyphs" >1,500</text>
<line x1="315.10" y1="79.65" x2="317.30" y2="79.65" stroke="#7d7d7d" stroke-width="0.7" />
<line x1="314.10" y1="70.60" x2="317.30" y2="70.60" stroke="#7d7d7d" stroke-width="0.7" />
<text x="309.80" y="73.30" font-size="7.8" fill="#3a3a3a" text-anchor="end" textLength="20.30" lengthAdjust="spacingAndGlyphs" >2,000</text>
<line x1="315.10" y1="61.55" x2="317.30" y2="61.55" stroke="#7d7d7d" stroke-width="0.7" />
<line x1="314.10" y1="52.50" x2="317.30" y2="52.50" stroke="#7d7d7d" stroke-width="0.7" />
<text x="309.80" y="55.20" font-size="7.8" fill="#3a3a3a" text-anchor="end" textLength="20.30" lengthAdjust="spacingAndGlyphs" >2,500</text>
<line x1="315.10" y1="43.45" x2="317.30" y2="43.45" stroke="#7d7d7d" stroke-width="0.7" />
<line x1="314.10" y1="34.40" x2="317.30" y2="34.40" stroke="#7d7d7d" stroke-width="0.7" />
<text x="309.80" y="37.10" font-size="7.8" fill="#3a3a3a" text-anchor="end" textLength="20.30" lengthAdjust="spacingAndGlyphs" >3,000</text>
<line x1="317.30" y1="147.30" x2="412.52" y2="147.30" stroke="#7d7d7d" stroke-width="0.7" />
<line x1="317.30" y1="147.30" x2="317.30" y2="149.90" stroke="#7d7d7d" stroke-width="0.7" />
<line x1="327.88" y1="147.30" x2="327.88" y2="149.90" stroke="#7d7d7d" stroke-width="0.7" />
<line x1="338.46" y1="147.30" x2="338.46" y2="149.90" stroke="#7d7d7d" stroke-width="0.7" />
<line x1="349.04" y1="147.30" x2="349.04" y2="149.90" stroke="#7d7d7d" stroke-width="0.7" />
<line x1="359.62" y1="147.30" x2="359.62" y2="149.90" stroke="#7d7d7d" stroke-width="0.7" />
<line x1="370.20" y1="147.30" x2="370.20" y2="149.90" stroke="#7d7d7d" stroke-width="0.7" />
<line x1="380.78" y1="147.30" x2="380.78" y2="149.90" stroke="#7d7d7d" stroke-width="0.7" />
<line x1="391.36" y1="147.30" x2="391.36" y2="149.90" stroke="#7d7d7d" stroke-width="0.7" />
<line x1="401.94" y1="147.30" x2="401.94" y2="149.90" stroke="#7d7d7d" stroke-width="0.7" />
<line x1="412.52" y1="147.30" x2="412.52" y2="149.90" stroke="#7d7d7d" stroke-width="0.7" />
<text x="338.46" y="160.40" font-size="7.8" fill="#3a3a3a" text-anchor="middle" textLength="24.81" lengthAdjust="spacingAndGlyphs" >45,000</text>
<text x="370.20" y="160.40" font-size="7.8" fill="#3a3a3a" text-anchor="middle" textLength="24.81" lengthAdjust="spacingAndGlyphs" >48,000</text>
<text x="401.94" y="160.40" font-size="7.8" fill="#3a3a3a" text-anchor="middle" textLength="24.81" lengthAdjust="spacingAndGlyphs" >51,000</text>
<text x="363.91" y="174.00" font-size="8.5" fill="#3a3a3a" text-anchor="middle" textLength="15.00" lengthAdjust="spacingAndGlyphs" font-style="italic" >m/z</text>
<path d="M317.30,142.80 L317.46,142.56 L317.62,142.90 L317.78,143.04 L317.93,142.74 L318.09,142.69 L318.25,142.72 L318.41,142.70 L318.57,142.79 L318.73,142.86 L318.89,142.88 L319.05,142.80 L319.20,142.83 L319.36,142.63 L319.52,142.68 L319.68,142.95 L319.84,142.67 L320.00,142.77 L320.16,142.61 L320.32,142.55 L320.47,142.69 L320.63,143.03 L320.79,142.67 L320.95,143.00 L321.11,142.54 L321.27,142.86 L321.43,142.79 L321.58,142.50 L321.74,143.02 L321.90,142.76 L322.06,142.92 L322.22,142.84 L322.38,142.88 L322.54,142.67 L322.70,142.81 L322.85,142.72 L323.01,142.67 L323.17,143.02 L323.33,142.56 L323.49,142.80 L323.65,143.01 L323.81,142.86 L323.97,142.64 L324.12,142.62 L324.28,142.87 L324.44,142.75 L324.60,142.73 L324.76,142.61 L324.92,142.79 L325.08,142.62 L325.24,142.90 L325.39,142.87 L325.55,142.67 L325.71,142.66 L325.87,142.77 L326.03,142.68 L326.19,142.74 L326.35,142.65 L326.50,142.59 L326.66,142.69 L326.82,142.64 L326.98,142.82 L327.14,142.85 L327.30,143.11 L327.46,142.71 L327.62,142.76 L327.77,142.69 L327.93,143.04 L328.09,142.84 L328.25,142.85 L328.41,143.03 L328.57,142.63 L328.73,142.59 L328.89,142.95 L329.04,142.70 L329.20,142.51 L329.36,142.95 L329.52,142.62 L329.68,142.53 L329.84,142.49 L330.00,142.97 L330.15,142.92 L330.31,142.73 L330.47,142.59 L330.63,142.95 L330.79,142.88 L330.95,142.93 L331.11,142.60 L331.27,142.85 L331.42,142.68 L331.58,142.67 L331.74,142.59 L331.90,142.70 L332.06,142.72 L332.22,142.59 L332.38,142.70 L332.54,142.95 L332.69,142.85 L332.85,142.63 L333.01,142.75 L333.17,142.82 L333.33,142.73 L333.49,142.27 L333.65,142.77 L333.80,142.69 L333.96,142.70 L334.12,142.81 L334.28,142.59 L334.44,142.64 L334.60,142.71 L334.76,142.97 L334.92,142.58 L335.07,142.65 L335.23,142.76 L335.39,143.12 L335.55,142.68 L335.71,142.77 L335.87,142.51 L336.03,142.43 L336.19,142.38 L336.34,142.07 L336.50,142.24 L336.66,142.17 L336.82,142.62 L336.98,142.62 L337.14,142.47 L337.30,142.67 L337.45,142.86 L337.61,142.89 L337.77,142.85 L337.93,142.78 L338.09,142.66 L338.25,142.74 L338.41,142.65 L338.57,142.64 L338.72,142.75 L338.88,142.57 L339.04,142.66 L339.20,142.79 L339.36,142.79 L339.52,142.77 L339.68,142.88 L339.84,142.97 L339.99,142.76 L340.15,142.84 L340.31,142.68 L340.47,142.85 L340.63,142.75 L340.79,142.74 L340.95,142.84 L341.11,142.74 L341.26,142.87 L341.42,142.83 L341.58,142.65 L341.74,142.71 L341.90,142.77 L342.06,142.88 L342.22,142.66 L342.37,142.47 L342.53,143.09 L342.69,142.61 L342.85,142.73 L343.01,142.60 L343.17,142.59 L343.33,142.92 L343.49,142.51 L343.64,142.85 L343.80,142.80 L343.96,142.67 L344.12,142.78 L344.28,142.73 L344.44,142.84 L344.60,142.92 L344.76,142.76 L344.91,142.93 L345.07,142.57 L345.23,142.73 L345.39,142.56 L345.55,142.95 L345.71,143.08 L345.87,143.11 L346.02,142.82 L346.18,142.96 L346.34,142.71 L346.50,142.98 L346.66,142.97 L346.82,142.73 L346.98,142.83 L347.14,142.67 L347.29,142.65 L347.45,142.71 L347.61,142.95 L347.77,142.90 L347.93,142.43 L348.09,142.80 L348.25,142.72 L348.41,142.75 L348.56,142.77 L348.72,142.79 L348.88,142.85 L349.04,142.84 L349.20,143.07 L349.36,142.52 L349.52,142.78 L349.67,142.96 L349.83,142.69 L349.99,142.67 L350.15,142.98 L350.31,142.84 L350.47,142.54 L350.63,142.68 L350.79,142.70 L350.94,142.61 L351.10,142.78 L351.26,142.80 L351.42,142.52 L351.58,142.79 L351.74,142.77 L351.90,142.66 L352.06,142.75 L352.21,142.94 L352.37,142.47 L352.53,142.76 L352.69,142.48 L352.85,142.67 L353.01,142.88 L353.17,142.52 L353.32,142.77 L353.48,142.87 L353.64,142.74 L353.80,143.04 L353.96,142.63 L354.12,142.74 L354.28,142.57 L354.44,142.52 L354.59,142.12 L354.75,142.02 L354.91,141.83 L355.07,141.76 L355.23,142.06 L355.39,142.24 L355.55,142.36 L355.71,142.63 L355.86,142.66 L356.02,142.48 L356.18,142.70 L356.34,142.81 L356.50,142.48 L356.66,142.26 L356.82,141.90 L356.98,141.99 L357.13,141.74 L357.29,141.27 L357.45,140.94 L357.49,140.76 L357.54,140.72 L357.58,140.42 L357.62,140.27 L357.66,139.67 L357.71,139.28 L357.75,138.57 L357.79,137.89 L357.83,137.03 L357.87,135.70 L357.92,134.54 L357.96,133.27 L358.00,132.38 L358.04,131.93 L358.09,131.71 L358.13,132.04 L358.17,132.48 L358.21,133.33 L358.26,134.49 L358.30,135.73 L358.34,136.48 L358.38,137.79 L358.42,138.22 L358.47,138.93 L358.51,139.35 L358.55,140.06 L358.59,140.09 L358.64,140.57 L358.68,140.56 L358.72,140.84 L358.76,140.82 L358.81,140.88 L358.85,140.75 L359.01,141.05 L359.17,141.56 L359.32,141.80 L359.48,142.10 L359.64,142.28 L359.80,142.48 L359.96,142.32 L360.12,142.24 L360.28,142.46 L360.43,142.30 L360.59,142.52 L360.75,142.50 L360.91,142.42 L361.07,142.20 L361.23,142.40 L361.39,142.20 L361.55,142.35 L361.70,142.45 L361.86,142.58 L362.02,142.34 L362.18,142.41 L362.34,142.13 L362.50,142.19 L362.66,142.49 L362.82,142.12 L362.97,142.16 L363.13,142.66 L363.29,142.38 L363.45,142.19 L363.61,142.46 L363.77,142.33 L363.93,142.15 L364.08,142.18 L364.24,142.16 L364.40,142.13 L364.56,142.35 L364.72,141.88 L364.88,142.15 L365.04,141.92 L365.20,142.27 L365.35,142.15 L365.51,142.19 L365.67,142.27 L365.83,142.20 L365.99,142.21 L366.15,142.14 L366.31,142.21 L366.47,142.25 L366.62,142.19 L366.78,142.05 L366.94,142.25 L367.10,142.18 L367.26,142.24 L367.42,142.55 L367.58,142.38 L367.73,142.38 L367.89,142.43 L368.05,142.30 L368.21,142.43 L368.37,142.09 L368.53,142.14 L368.69,141.80 L368.85,141.80 L369.00,141.87 L369.16,141.49 L369.32,141.16 L369.48,140.89 L369.64,140.37 L369.80,139.90 L369.96,139.14 L370.12,138.17 L370.27,137.30 L370.43,136.00 L370.59,135.31 L370.75,133.83 L370.79,133.40 L370.83,132.73 L370.88,132.34 L370.92,131.87 L370.96,131.22 L371.00,130.36 L371.05,129.48 L371.09,128.28 L371.13,126.46 L371.17,124.27 L371.22,121.19 L371.26,117.27 L371.30,112.66 L371.34,106.89 L371.38,100.37 L371.43,93.13 L371.47,85.24 L371.51,76.83 L371.55,69.08 L371.60,61.84 L371.64,56.07 L371.68,51.79 L371.72,49.46 L371.77,49.40 L371.81,51.14 L371.85,55.16 L371.89,60.86 L371.94,67.90 L371.98,75.39 L372.02,83.10 L372.06,90.59 L372.10,97.87 L372.15,104.21 L372.19,109.56 L372.23,114.12 L372.27,117.76 L372.32,120.70 L372.36,122.48 L372.40,124.23 L372.44,125.45 L372.49,126.23 L372.53,127.04 L372.57,127.57 L372.61,127.98 L372.65,128.00 L372.70,128.56 L372.74,128.64 L372.78,129.12 L372.94,130.33 L373.10,131.35 L373.26,132.60 L373.42,133.82 L373.58,134.64 L373.73,135.95 L373.89,137.05 L374.05,137.71 L374.21,138.63 L374.37,139.04 L374.53,139.95 L374.69,139.99 L374.84,140.63 L375.00,140.83 L375.16,140.90 L375.32,141.24 L375.48,141.44 L375.64,141.35 L375.80,141.41 L375.96,141.66 L376.11,141.34 L376.27,141.65 L376.43,141.66 L376.59,141.65 L376.75,141.66 L376.91,141.55 L377.07,142.06 L377.23,141.79 L377.38,141.71 L377.54,141.85 L377.70,141.94 L377.86,142.13 L378.02,141.97 L378.18,142.13 L378.34,142.08 L378.49,142.30 L378.65,142.23 L378.81,142.24 L378.97,142.47 L379.13,142.15 L379.29,142.35 L379.45,142.55 L379.61,142.43 L379.76,142.41 L379.92,142.51 L380.08,142.63 L380.24,142.54 L380.40,142.73 L380.56,142.80 L380.72,142.41 L380.88,142.35 L381.03,142.35 L381.19,142.31 L381.35,142.45 L381.51,142.80 L381.67,142.76 L381.83,142.53 L381.99,142.77 L382.14,142.76 L382.30,142.72 L382.46,142.66 L382.62,142.93 L382.78,142.73 L382.94,142.67 L383.10,143.04 L383.26,142.59 L383.41,142.65 L383.57,142.88 L383.73,142.50 L383.89,142.71 L384.05,142.70 L384.21,142.55 L384.37,143.14 L384.53,142.77 L384.68,142.62 L384.84,142.57 L385.00,142.78 L385.16,142.80 L385.32,142.89 L385.48,142.83 L385.64,142.90 L385.79,143.13 L385.95,142.87 L386.11,142.93 L386.27,142.87 L386.43,142.85 L386.59,142.85 L386.75,142.77 L386.91,142.79 L387.06,142.83 L387.22,142.87 L387.38,142.80 L387.54,142.83 L387.70,142.80 L387.86,142.58 L388.02,142.75 L388.18,142.84 L388.33,143.08 L388.49,142.99 L388.65,143.21 L388.81,142.66 L388.97,142.62 L389.13,142.84 L389.29,142.85 L389.45,142.71 L389.60,142.70 L389.76,143.03 L389.92,142.82 L390.08,142.83 L390.24,142.97 L390.40,142.58 L390.56,142.67 L390.71,142.87 L390.87,142.79 L391.03,142.86 L391.19,142.86 L391.35,142.84 L391.51,142.63 L391.67,142.78 L391.83,142.85 L391.98,142.88 L392.14,142.75 L392.30,142.91 L392.46,143.02 L392.62,142.80 L392.78,142.55 L392.94,142.88 L393.10,142.76 L393.25,142.81 L393.41,142.61 L393.57,142.71 L393.73,142.97 L393.89,142.53 L394.05,142.78 L394.21,142.92 L394.36,142.86 L394.52,142.77 L394.68,142.63 L394.84,142.82 L395.00,142.89 L395.16,142.59 L395.32,142.56 L395.48,142.83 L395.63,142.76 L395.79,142.73 L395.95,142.83 L396.11,142.92 L396.27,142.63 L396.43,142.94 L396.59,143.05 L396.75,142.70 L396.90,142.61 L397.06,142.66 L397.22,142.89 L397.38,142.82 L397.54,142.94 L397.70,142.86 L397.86,143.14 L398.01,142.91 L398.17,142.58 L398.33,142.95 L398.49,142.53 L398.65,142.76 L398.81,143.07 L398.97,142.65 L399.13,142.92 L399.28,142.70 L399.44,142.81 L399.60,142.83 L399.76,142.81 L399.92,142.97 L400.08,142.89 L400.24,142.84 L400.40,142.52 L400.55,142.87 L400.71,142.74 L400.87,142.72 L401.03,142.60 L401.19,142.82 L401.35,142.75 L401.51,142.92 L401.66,142.41 L401.82,143.00 L401.98,142.74 L402.14,142.83 L402.30,142.76 L402.46,142.86 L402.62,142.85 L402.78,142.64 L402.93,142.64 L403.09,142.79 L403.25,142.80 L403.41,142.75 L403.57,142.79 L403.73,142.72 L403.89,142.67 L404.05,142.71 L404.20,143.01 L404.36,142.79 L404.52,142.94 L404.68,142.72 L404.84,142.82 L405.00,142.74 L405.16,142.79 L405.32,142.65 L405.47,142.58 L405.63,142.76 L405.79,143.00 L405.95,142.78 L406.11,142.49 L406.27,142.88 L406.43,142.79 L406.58,142.43 L406.74,142.54 L406.90,142.69 L407.06,142.75 L407.22,142.97 L407.38,142.54 L407.54,142.65 L407.70,143.03 L407.85,142.80 L408.01,142.80 L408.17,142.79 L408.33,142.88 L408.49,142.42 L408.65,142.91 L408.81,142.57 L408.97,142.69 L409.12,142.78 L409.28,142.71 L409.44,142.67 L409.60,142.89 L409.76,142.83 L409.92,142.60 L410.08,142.64 L410.23,142.72 L410.39,142.95 L410.55,143.02 L410.71,142.56 L410.87,142.57 L411.03,142.71 L411.19,142.72 L411.35,142.83 L411.50,142.71 L411.66,142.61 L411.82,142.67 L411.98,142.86 L412.14,142.73 L412.30,142.86 L412.46,142.79" fill="none" stroke="#333333" stroke-width="0.68" stroke-linejoin="round" />
<line x1="449.10" y1="34.45" x2="449.10" y2="147.30" stroke="#7d7d7d" stroke-width="0.7" />
<line x1="445.90" y1="143.00" x2="449.10" y2="143.00" stroke="#7d7d7d" stroke-width="0.7" />
<text x="441.60" y="145.70" font-size="7.8" fill="#3a3a3a" text-anchor="end" textLength="4.51" lengthAdjust="spacingAndGlyphs" >0</text>
<line x1="446.90" y1="134.65" x2="449.10" y2="134.65" stroke="#7d7d7d" stroke-width="0.7" />
<line x1="445.90" y1="126.30" x2="449.10" y2="126.30" stroke="#7d7d7d" stroke-width="0.7" />
<text x="441.60" y="129.00" font-size="7.8" fill="#3a3a3a" text-anchor="end" textLength="13.53" lengthAdjust="spacingAndGlyphs" >100</text>
<line x1="446.90" y1="117.95" x2="449.10" y2="117.95" stroke="#7d7d7d" stroke-width="0.7" />
<line x1="445.90" y1="109.60" x2="449.10" y2="109.60" stroke="#7d7d7d" stroke-width="0.7" />
<text x="441.60" y="112.30" font-size="7.8" fill="#3a3a3a" text-anchor="end" textLength="13.53" lengthAdjust="spacingAndGlyphs" >200</text>
<line x1="446.90" y1="101.25" x2="449.10" y2="101.25" stroke="#7d7d7d" stroke-width="0.7" />
<line x1="445.90" y1="92.90" x2="449.10" y2="92.90" stroke="#7d7d7d" stroke-width="0.7" />
<text x="441.60" y="95.60" font-size="7.8" fill="#3a3a3a" text-anchor="end" textLength="13.53" lengthAdjust="spacingAndGlyphs" >300</text>
<line x1="446.90" y1="84.55" x2="449.10" y2="84.55" stroke="#7d7d7d" stroke-width="0.7" />
<line x1="445.90" y1="76.20" x2="449.10" y2="76.20" stroke="#7d7d7d" stroke-width="0.7" />
<text x="441.60" y="78.90" font-size="7.8" fill="#3a3a3a" text-anchor="end" textLength="13.53" lengthAdjust="spacingAndGlyphs" >400</text>
<line x1="446.90" y1="67.85" x2="449.10" y2="67.85" stroke="#7d7d7d" stroke-width="0.7" />
<line x1="445.90" y1="59.50" x2="449.10" y2="59.50" stroke="#7d7d7d" stroke-width="0.7" />
<text x="441.60" y="62.20" font-size="7.8" fill="#3a3a3a" text-anchor="end" textLength="13.53" lengthAdjust="spacingAndGlyphs" >500</text>
<line x1="446.90" y1="51.15" x2="449.10" y2="51.15" stroke="#7d7d7d" stroke-width="0.7" />
<line x1="445.90" y1="42.80" x2="449.10" y2="42.80" stroke="#7d7d7d" stroke-width="0.7" />
<text x="441.60" y="45.50" font-size="7.8" fill="#3a3a3a" text-anchor="end" textLength="13.53" lengthAdjust="spacingAndGlyphs" >600</text>
<line x1="446.90" y1="34.45" x2="449.10" y2="34.45" stroke="#7d7d7d" stroke-width="0.7" />
<line x1="449.10" y1="147.30" x2="545.04" y2="147.30" stroke="#7d7d7d" stroke-width="0.7" />
<line x1="449.10" y1="147.30" x2="449.10" y2="149.90" stroke="#7d7d7d" stroke-width="0.7" />
<line x1="459.76" y1="147.30" x2="459.76" y2="149.90" stroke="#7d7d7d" stroke-width="0.7" />
<line x1="470.42" y1="147.30" x2="470.42" y2="149.90" stroke="#7d7d7d" stroke-width="0.7" />
<line x1="481.08" y1="147.30" x2="481.08" y2="149.90" stroke="#7d7d7d" stroke-width="0.7" />
<line x1="491.74" y1="147.30" x2="491.74" y2="149.90" stroke="#7d7d7d" stroke-width="0.7" />
<line x1="502.40" y1="147.30" x2="502.40" y2="149.90" stroke="#7d7d7d" stroke-width="0.7" />
<line x1="513.06" y1="147.30" x2="513.06" y2="149.90" stroke="#7d7d7d" stroke-width="0.7" />
<line x1="523.72" y1="147.30" x2="523.72" y2="149.90" stroke="#7d7d7d" stroke-width="0.7" />
<line x1="534.38" y1="147.30" x2="534.38" y2="149.90" stroke="#7d7d7d" stroke-width="0.7" />
<line x1="545.04" y1="147.30" x2="545.04" y2="149.90" stroke="#7d7d7d" stroke-width="0.7" />
<text x="470.42" y="160.40" font-size="7.8" fill="#3a3a3a" text-anchor="middle" textLength="24.81" lengthAdjust="spacingAndGlyphs" >45,000</text>
<text x="502.40" y="160.40" font-size="7.8" fill="#3a3a3a" text-anchor="middle" textLength="24.81" lengthAdjust="spacingAndGlyphs" >48,000</text>
<text x="534.38" y="160.40" font-size="7.8" fill="#3a3a3a" text-anchor="middle" textLength="24.81" lengthAdjust="spacingAndGlyphs" >51,000</text>
<text x="496.07" y="174.00" font-size="8.5" fill="#3a3a3a" text-anchor="middle" textLength="15.00" lengthAdjust="spacingAndGlyphs" font-style="italic" >m/z</text>
<path d="M449.10,141.66 L449.26,141.76 L449.42,142.74 L449.58,142.97 L449.74,142.21 L449.90,141.85 L450.06,142.23 L450.22,142.77 L450.38,142.37 L450.54,141.57 L450.70,142.74 L450.86,141.73 L451.02,141.95 L451.18,141.96 L451.34,141.84 L451.50,142.39 L451.66,142.21 L451.82,141.41 L451.98,142.33 L452.14,142.34 L452.30,142.75 L452.46,142.36 L452.62,141.86 L452.78,141.64 L452.94,141.89 L453.10,141.90 L453.26,141.92 L453.42,142.02 L453.58,141.74 L453.74,142.22 L453.90,141.72 L454.06,142.19 L454.22,142.83 L454.38,142.70 L454.54,142.24 L454.70,142.35 L454.86,142.67 L455.02,142.48 L455.18,142.09 L455.34,142.00 L455.50,141.81 L455.66,142.52 L455.82,142.01 L455.98,141.73 L456.14,142.02 L456.30,141.43 L456.46,142.36 L456.62,142.17 L456.78,142.09 L456.94,142.33 L457.10,142.18 L457.25,142.07 L457.41,142.18 L457.57,142.37 L457.73,142.35 L457.89,142.19 L458.05,142.80 L458.21,142.09 L458.37,142.61 L458.53,142.26 L458.69,142.61 L458.85,142.12 L459.01,142.32 L459.17,142.27 L459.33,142.47 L459.49,142.12 L459.65,141.51 L459.81,142.90 L459.97,141.95 L460.13,142.07 L460.29,142.32 L460.45,142.69 L460.61,141.52 L460.77,142.09 L460.93,141.75 L461.09,142.32 L461.25,142.48 L461.41,141.72 L461.57,141.86 L461.73,142.29 L461.89,142.25 L462.05,141.91 L462.21,142.49 L462.37,142.50 L462.53,142.18 L462.69,141.75 L462.85,141.81 L463.01,142.09 L463.17,141.61 L463.33,142.22 L463.49,142.36 L463.65,141.21 L463.81,142.36 L463.97,141.92 L464.13,141.94 L464.29,142.11 L464.45,142.07 L464.61,141.88 L464.77,141.94 L464.93,142.40 L465.09,142.16 L465.25,141.60 L465.41,141.86 L465.57,142.34 L465.73,142.14 L465.89,142.56 L466.05,142.69 L466.21,142.38 L466.37,141.51 L466.53,142.41 L466.69,142.97 L466.85,142.21 L467.01,142.44 L467.17,141.86 L467.33,141.66 L467.49,142.30 L467.65,142.11 L467.81,142.52 L467.97,141.67 L468.13,142.46 L468.29,142.15 L468.45,141.19 L468.61,142.54 L468.77,142.09 L468.93,142.18 L469.09,141.97 L469.25,141.97 L469.41,141.55 L469.57,141.96 L469.73,141.92 L469.89,142.66 L470.05,141.99 L470.21,142.70 L470.37,141.67 L470.53,142.18 L470.69,141.76 L470.85,142.36 L471.01,142.07 L471.17,142.12 L471.33,141.93 L471.49,142.20 L471.65,142.40 L471.81,142.31 L471.97,142.42 L472.13,142.53 L472.29,142.65 L472.45,142.75 L472.61,141.39 L472.77,142.46 L472.93,142.61 L473.09,141.76 L473.24,142.04 L473.40,142.21 L473.56,141.70 L473.72,141.40 L473.88,142.50 L474.04,141.58 L474.20,141.93 L474.36,141.69 L474.52,142.37 L474.68,141.48 L474.84,141.69 L475.00,143.21 L475.16,141.64 L475.32,141.61 L475.48,142.72 L475.64,142.02 L475.80,142.23 L475.96,142.07 L476.12,142.51 L476.28,141.90 L476.44,141.86 L476.60,142.20 L476.76,142.19 L476.92,142.86 L477.08,141.94 L477.24,142.68 L477.40,142.15 L477.56,142.48 L477.72,141.10 L477.88,142.16 L478.04,141.53 L478.20,142.17 L478.36,142.18 L478.52,141.86 L478.68,142.17 L478.84,141.21 L479.00,142.23 L479.16,141.50 L479.32,142.64 L479.48,142.53 L479.64,141.89 L479.80,142.72 L479.96,141.36 L480.12,141.94 L480.28,142.12 L480.44,141.44 L480.60,142.37 L480.76,142.46 L480.92,143.22 L481.08,142.95 L481.24,142.28 L481.40,143.01 L481.56,141.85 L481.72,141.76 L481.88,141.97 L482.04,142.82 L482.20,142.51 L482.36,142.72 L482.52,141.87 L482.68,141.74 L482.84,142.25 L483.00,142.13 L483.16,142.07 L483.32,141.86 L483.48,142.53 L483.64,142.55 L483.80,141.84 L483.96,141.95 L484.12,141.96 L484.28,142.14 L484.44,141.85 L484.60,141.97 L484.76,142.41 L484.92,141.46 L485.08,141.71 L485.24,142.26 L485.40,142.20 L485.56,142.45 L485.72,142.73 L485.88,142.59 L486.04,142.75 L486.20,142.43 L486.36,142.03 L486.52,142.18 L486.68,142.75 L486.84,142.24 L487.00,142.41 L487.16,142.60 L487.32,141.70 L487.48,142.58 L487.64,141.78 L487.80,142.84 L487.96,142.02 L488.12,142.41 L488.28,141.70 L488.44,141.87 L488.60,142.27 L488.76,141.53 L488.92,141.01 L489.08,140.62 L489.23,140.06 L489.39,140.17 L489.55,138.36 L489.60,139.23 L489.64,138.74 L489.68,138.90 L489.73,137.77 L489.77,137.43 L489.81,135.55 L489.85,134.59 L489.90,130.80 L489.94,128.42 L489.98,124.91 L490.02,121.82 L490.07,119.32 L490.11,117.04 L490.15,116.14 L490.19,117.27 L490.24,118.50 L490.28,120.67 L490.32,123.17 L490.36,127.31 L490.41,129.61 L490.45,132.41 L490.49,133.80 L490.54,135.20 L490.58,136.92 L490.62,137.62 L490.66,136.99 L490.71,137.48 L490.75,138.19 L490.79,138.05 L490.83,138.58 L490.88,138.60 L491.04,139.68 L491.20,139.93 L491.36,139.98 L491.52,140.45 L491.68,140.77 L491.84,141.38 L492.00,141.10 L492.16,141.69 L492.32,141.61 L492.48,141.39 L492.64,141.85 L492.80,141.26 L492.96,142.00 L493.12,140.55 L493.28,140.82 L493.43,140.98 L493.59,141.34 L493.75,141.23 L493.91,141.09 L494.07,141.56 L494.23,140.99 L494.39,141.14 L494.55,140.36 L494.71,140.12 L494.87,140.03 L495.03,141.15 L495.19,141.13 L495.35,139.94 L495.51,140.19 L495.67,140.06 L495.83,140.21 L495.99,140.39 L496.15,139.61 L496.31,140.14 L496.47,140.23 L496.63,140.95 L496.79,140.49 L496.95,140.03 L497.11,140.39 L497.27,140.28 L497.43,140.79 L497.59,140.46 L497.75,141.04 L497.91,140.94 L498.07,140.47 L498.23,140.27 L498.39,141.17 L498.55,141.19 L498.71,141.26 L498.87,141.30 L499.03,141.27 L499.19,140.97 L499.35,141.25 L499.51,141.46 L499.67,141.32 L499.83,142.30 L499.99,141.67 L500.15,140.84 L500.31,142.13 L500.47,141.98 L500.63,141.67 L500.79,141.38 L500.95,141.92 L501.11,142.26 L501.27,141.16 L501.43,142.71 L501.59,142.02 L501.75,141.79 L501.91,142.20 L502.07,140.31 L502.23,139.56 L502.39,140.34 L502.55,139.03 L502.71,137.92 L502.87,136.28 L503.03,135.13 L503.07,134.31 L503.11,133.79 L503.16,133.37 L503.20,132.46 L503.24,130.84 L503.28,129.98 L503.33,128.01 L503.37,125.98 L503.41,122.70 L503.46,118.58 L503.50,114.62 L503.54,109.36 L503.58,103.12 L503.63,95.29 L503.67,88.44 L503.71,80.16 L503.75,71.76 L503.80,65.89 L503.84,59.54 L503.88,56.15 L503.92,53.93 L503.97,53.42 L504.01,55.83 L504.05,60.14 L504.09,64.38 L504.14,71.06 L504.18,77.76 L504.22,84.37 L504.27,92.12 L504.31,99.71 L504.35,104.87 L504.39,110.92 L504.44,115.34 L504.48,116.95 L504.52,120.90 L504.56,123.47 L504.61,124.09 L504.65,125.27 L504.69,125.83 L504.73,126.73 L504.78,127.24 L504.82,127.21 L504.86,128.00 L504.91,128.57 L504.95,128.41 L504.99,129.10 L505.15,129.48 L505.31,130.90 L505.47,131.81 L505.63,132.52 L505.79,132.46 L505.95,132.47 L506.11,133.05 L506.27,133.83 L506.43,132.55 L506.59,133.27 L506.75,132.90 L506.91,133.79 L507.07,133.91 L507.23,134.86 L507.39,135.85 L507.55,136.86 L507.71,137.12 L507.87,137.72 L508.03,139.09 L508.19,139.92 L508.35,139.17 L508.51,138.65 L508.67,140.11 L508.83,140.02 L508.99,140.45 L509.15,140.59 L509.31,139.46 L509.47,140.82 L509.63,140.05 L509.79,140.50 L509.95,139.98 L510.11,139.62 L510.27,140.27 L510.43,140.53 L510.59,140.01 L510.75,140.68 L510.91,141.42 L511.07,140.15 L511.23,141.03 L511.39,140.80 L511.55,140.04 L511.71,140.68 L511.87,141.03 L512.03,140.55 L512.19,141.71 L512.35,142.13 L512.51,141.98 L512.67,141.52 L512.83,141.54 L512.99,141.98 L513.15,140.84 L513.31,141.45 L513.47,141.77 L513.62,142.18 L513.78,141.95 L513.94,141.84 L514.10,142.15 L514.26,140.79 L514.42,141.31 L514.58,141.77 L514.74,142.06 L514.90,142.82 L515.06,141.64 L515.22,142.40 L515.38,141.66 L515.54,141.94 L515.70,142.69 L515.86,142.11 L516.02,142.22 L516.18,142.24 L516.34,142.18 L516.50,142.10 L516.66,142.24 L516.82,141.79 L516.98,141.91 L517.14,142.21 L517.30,142.21 L517.46,142.29 L517.62,142.31 L517.78,142.22 L517.94,142.05 L518.10,142.28 L518.26,142.94 L518.42,142.12 L518.58,142.53 L518.74,142.16 L518.90,141.10 L519.06,141.72 L519.22,143.17 L519.38,142.90 L519.54,141.73 L519.70,142.49 L519.86,142.82 L520.02,142.89 L520.18,142.22 L520.34,142.50 L520.50,142.16 L520.66,142.28 L520.82,142.15 L520.98,142.34 L521.14,142.50 L521.30,141.85 L521.46,141.49 L521.62,142.52 L521.78,142.22 L521.94,141.29 L522.10,142.62 L522.26,142.63 L522.42,141.93 L522.58,141.77 L522.74,142.16 L522.90,141.67 L523.06,142.20 L523.22,142.06 L523.38,142.17 L523.54,142.02 L523.70,142.15 L523.86,141.54 L524.02,141.85 L524.18,141.46 L524.34,142.22 L524.50,142.49 L524.66,142.42 L524.82,142.33 L524.98,142.02 L525.14,142.33 L525.30,142.04 L525.46,141.97 L525.62,142.65 L525.78,142.75 L525.94,141.60 L526.10,142.43 L526.26,141.36 L526.42,142.28 L526.58,142.74 L526.74,142.65 L526.90,142.50 L527.06,141.04 L527.22,142.95 L527.38,143.16 L527.54,142.55 L527.70,142.13 L527.86,141.21 L528.02,141.72 L528.18,142.56 L528.34,141.49 L528.50,141.61 L528.66,142.44 L528.82,141.91 L528.98,141.99 L529.14,142.22 L529.30,142.35 L529.46,142.40 L529.61,141.97 L529.77,142.38 L529.93,141.79 L530.09,141.87 L530.25,142.84 L530.41,141.98 L530.57,142.23 L530.73,141.82 L530.89,142.31 L531.05,141.66 L531.21,141.80 L531.37,141.77 L531.53,141.89 L531.69,142.74 L531.85,142.18 L532.01,141.69 L532.17,141.77 L532.33,141.90 L532.49,142.16 L532.65,142.18 L532.81,142.73 L532.97,142.92 L533.13,142.23 L533.29,141.81 L533.45,142.27 L533.61,142.39 L533.77,142.23 L533.93,141.59 L534.09,142.42 L534.25,142.19 L534.41,142.01 L534.57,141.71 L534.73,141.98 L534.89,142.37 L535.05,142.37 L535.21,142.64 L535.37,142.24 L535.53,141.74 L535.69,142.08 L535.85,142.34 L536.01,142.62 L536.17,142.30 L536.33,141.83 L536.49,141.89 L536.65,141.96 L536.81,141.79 L536.97,141.63 L537.13,142.06 L537.29,141.88 L537.45,142.97 L537.61,141.87 L537.77,142.30 L537.93,142.04 L538.09,142.54 L538.25,142.27 L538.41,142.62 L538.57,142.18 L538.73,142.59 L538.89,141.71 L539.05,142.28 L539.21,142.09 L539.37,142.42 L539.53,142.20 L539.69,142.45 L539.85,142.51 L540.01,141.94 L540.17,142.44 L540.33,142.64 L540.49,142.32 L540.65,141.21 L540.81,141.70 L540.97,142.05 L541.13,142.03 L541.29,142.02 L541.45,141.97 L541.61,141.18 L541.77,141.51 L541.93,142.07 L542.09,142.87 L542.25,142.54 L542.41,142.04 L542.57,142.34 L542.73,141.96 L542.89,142.27 L543.05,141.94 L543.21,141.95 L543.37,142.34 L543.53,142.68 L543.69,142.27 L543.85,142.44 L544.01,142.53 L544.17,142.11 L544.33,141.64 L544.49,142.29 L544.65,142.31 L544.81,142.60 L544.97,142.02" fill="none" stroke="#333333" stroke-width="0.68" stroke-linejoin="round" />
<line x1="581.40" y1="34.45" x2="581.40" y2="147.30" stroke="#7d7d7d" stroke-width="0.7" />
<line x1="578.20" y1="143.00" x2="581.40" y2="143.00" stroke="#7d7d7d" stroke-width="0.7" />
<text x="573.90" y="145.70" font-size="7.8" fill="#3a3a3a" text-anchor="end" textLength="4.51" lengthAdjust="spacingAndGlyphs" >0</text>
<line x1="579.20" y1="134.65" x2="581.40" y2="134.65" stroke="#7d7d7d" stroke-width="0.7" />
<line x1="578.20" y1="126.30" x2="581.40" y2="126.30" stroke="#7d7d7d" stroke-width="0.7" />
<text x="573.90" y="129.00" font-size="7.8" fill="#3a3a3a" text-anchor="end" textLength="13.53" lengthAdjust="spacingAndGlyphs" >100</text>
<line x1="579.20" y1="117.95" x2="581.40" y2="117.95" stroke="#7d7d7d" stroke-width="0.7" />
<line x1="578.20" y1="109.60" x2="581.40" y2="109.60" stroke="#7d7d7d" stroke-width="0.7" />
<text x="573.90" y="112.30" font-size="7.8" fill="#3a3a3a" text-anchor="end" textLength="13.53" lengthAdjust="spacingAndGlyphs" >200</text>
<line x1="579.20" y1="101.25" x2="581.40" y2="101.25" stroke="#7d7d7d" stroke-width="0.7" />
<line x1="578.20" y1="92.90" x2="581.40" y2="92.90" stroke="#7d7d7d" stroke-width="0.7" />
<text x="573.90" y="95.60" font-size="7.8" fill="#3a3a3a" text-anchor="end" textLength="13.53" lengthAdjust="spacingAndGlyphs" >300</text>
<line x1="579.20" y1="84.55" x2="581.40" y2="84.55" stroke="#7d7d7d" stroke-width="0.7" />
<line x1="578.20" y1="76.20" x2="581.40" y2="76.20" stroke="#7d7d7d" stroke-width="0.7" />
<text x="573.90" y="78.90" font-size="7.8" fill="#3a3a3a" text-anchor="end" textLength="13.53" lengthAdjust="spacingAndGlyphs" >400</text>
<line x1="579.20" y1="67.85" x2="581.40" y2="67.85" stroke="#7d7d7d" stroke-width="0.7" />
<line x1="578.20" y1="59.50" x2="581.40" y2="59.50" stroke="#7d7d7d" stroke-width="0.7" />
<text x="573.90" y="62.20" font-size="7.8" fill="#3a3a3a" text-anchor="end" textLength="13.53" lengthAdjust="spacingAndGlyphs" >500</text>
<line x1="579.20" y1="51.15" x2="581.40" y2="51.15" stroke="#7d7d7d" stroke-width="0.7" />
<line x1="578.20" y1="42.80" x2="581.40" y2="42.80" stroke="#7d7d7d" stroke-width="0.7" />
<text x="573.90" y="45.50" font-size="7.8" fill="#3a3a3a" text-anchor="end" textLength="13.53" lengthAdjust="spacingAndGlyphs" >600</text>
<line x1="579.20" y1="34.45" x2="581.40" y2="34.45" stroke="#7d7d7d" stroke-width="0.7" />
<line x1="581.40" y1="147.30" x2="676.80" y2="147.30" stroke="#7d7d7d" stroke-width="0.7" />
<line x1="581.40" y1="147.30" x2="581.40" y2="149.90" stroke="#7d7d7d" stroke-width="0.7" />
<line x1="592.00" y1="147.30" x2="592.00" y2="149.90" stroke="#7d7d7d" stroke-width="0.7" />
<line x1="602.60" y1="147.30" x2="602.60" y2="149.90" stroke="#7d7d7d" stroke-width="0.7" />
<line x1="613.20" y1="147.30" x2="613.20" y2="149.90" stroke="#7d7d7d" stroke-width="0.7" />
<line x1="623.80" y1="147.30" x2="623.80" y2="149.90" stroke="#7d7d7d" stroke-width="0.7" />
<line x1="634.40" y1="147.30" x2="634.40" y2="149.90" stroke="#7d7d7d" stroke-width="0.7" />
<line x1="645.00" y1="147.30" x2="645.00" y2="149.90" stroke="#7d7d7d" stroke-width="0.7" />
<line x1="655.60" y1="147.30" x2="655.60" y2="149.90" stroke="#7d7d7d" stroke-width="0.7" />
<line x1="666.20" y1="147.30" x2="666.20" y2="149.90" stroke="#7d7d7d" stroke-width="0.7" />
<line x1="676.80" y1="147.30" x2="676.80" y2="149.90" stroke="#7d7d7d" stroke-width="0.7" />
<text x="602.60" y="160.40" font-size="7.8" fill="#3a3a3a" text-anchor="middle" textLength="24.81" lengthAdjust="spacingAndGlyphs" >45,000</text>
<text x="634.40" y="160.40" font-size="7.8" fill="#3a3a3a" text-anchor="middle" textLength="24.81" lengthAdjust="spacingAndGlyphs" >48,000</text>
<text x="666.20" y="160.40" font-size="7.8" fill="#3a3a3a" text-anchor="middle" textLength="24.81" lengthAdjust="spacingAndGlyphs" >51,000</text>
<text x="628.10" y="174.00" font-size="8.5" fill="#3a3a3a" text-anchor="middle" textLength="15.00" lengthAdjust="spacingAndGlyphs" font-style="italic" >m/z</text>
<path d="M581.40,142.10 L581.56,142.18 L581.72,142.19 L581.88,142.41 L582.04,142.09 L582.19,142.17 L582.35,141.71 L582.51,142.60 L582.67,141.08 L582.83,143.52 L582.99,142.14 L583.15,141.79 L583.31,142.25 L583.47,142.49 L583.63,142.19 L583.78,141.87 L583.94,141.63 L584.10,142.83 L584.26,142.08 L584.42,142.45 L584.58,141.72 L584.74,142.39 L584.90,142.11 L585.06,141.71 L585.22,142.31 L585.38,142.08 L585.53,142.53 L585.69,142.32 L585.85,143.04 L586.01,142.57 L586.17,142.42 L586.33,142.50 L586.49,141.27 L586.65,143.20 L586.81,143.17 L586.97,142.10 L587.12,141.94 L587.28,142.14 L587.44,141.70 L587.60,141.30 L587.76,142.41 L587.92,142.78 L588.08,142.28 L588.24,141.69 L588.40,142.02 L588.55,142.29 L588.71,142.07 L588.87,142.08 L589.03,142.95 L589.19,142.01 L589.35,142.56 L589.51,142.31 L589.67,142.43 L589.83,142.17 L589.99,141.80 L590.14,142.29 L590.30,142.13 L590.46,141.81 L590.62,142.00 L590.78,142.49 L590.94,141.85 L591.10,142.38 L591.26,142.32 L591.42,142.11 L591.58,141.54 L591.74,142.57 L591.89,142.37 L592.05,142.13 L592.21,142.57 L592.37,142.15 L592.53,141.65 L592.69,142.97 L592.85,142.18 L593.01,142.51 L593.17,141.31 L593.32,141.94 L593.48,141.93 L593.64,142.25 L593.80,142.64 L593.96,142.16 L594.12,142.04 L594.28,142.18 L594.44,141.42 L594.60,141.86 L594.76,142.59 L594.91,142.36 L595.07,142.07 L595.23,142.72 L595.39,142.28 L595.55,142.47 L595.71,142.12 L595.87,142.14 L596.03,142.47 L596.19,141.64 L596.35,142.45 L596.50,141.90 L596.66,142.64 L596.82,142.61 L596.98,142.46 L597.14,142.37 L597.30,141.84 L597.46,142.84 L597.62,141.47 L597.78,142.71 L597.94,141.55 L598.10,142.11 L598.25,142.40 L598.41,141.83 L598.57,142.40 L598.73,142.19 L598.89,142.16 L599.05,140.94 L599.21,142.61 L599.37,141.36 L599.53,142.31 L599.68,142.50 L599.84,142.40 L600.00,141.65 L600.16,142.28 L600.32,142.53 L600.48,141.93 L600.64,142.07 L600.80,141.73 L600.96,142.68 L601.12,141.55 L601.27,141.67 L601.43,142.50 L601.59,142.34 L601.75,141.99 L601.91,142.30 L602.07,141.85 L602.23,141.94 L602.39,142.21 L602.55,142.69 L602.71,143.07 L602.87,142.07 L603.02,142.74 L603.18,141.71 L603.34,141.44 L603.50,142.14 L603.66,141.82 L603.82,141.66 L603.98,141.84 L604.14,142.68 L604.30,142.63 L604.45,142.42 L604.61,142.16 L604.77,142.57 L604.93,142.11 L605.09,141.64 L605.25,142.37 L605.41,142.19 L605.57,142.62 L605.73,142.25 L605.89,141.80 L606.04,141.62 L606.20,142.10 L606.36,142.53 L606.52,141.33 L606.68,143.06 L606.84,142.33 L607.00,142.41 L607.16,141.97 L607.32,141.55 L607.48,141.72 L607.63,139.61 L607.79,139.77 L607.95,139.70 L608.00,140.10 L608.04,140.35 L608.08,138.92 L608.12,138.73 L608.16,138.43 L608.21,137.29 L608.25,136.65 L608.29,135.94 L608.33,134.03 L608.38,130.65 L608.42,127.19 L608.46,123.49 L608.50,120.28 L608.55,117.72 L608.59,116.27 L608.63,115.30 L608.67,116.23 L608.72,119.03 L608.76,122.25 L608.80,125.43 L608.84,129.04 L608.89,131.46 L608.93,134.45 L608.97,135.57 L609.01,137.32 L609.06,137.58 L609.10,137.30 L609.14,139.21 L609.18,138.94 L609.23,138.16 L609.27,138.99 L609.31,139.49 L609.47,139.97 L609.63,140.89 L609.79,141.86 L609.95,142.73 L610.10,142.16 L610.26,142.27 L610.42,141.61 L610.58,142.03 L610.74,142.86 L610.90,141.99 L611.06,142.74 L611.22,141.68 L611.38,142.66 L611.54,141.83 L611.69,142.15 L611.85,142.42 L612.01,141.73 L612.17,142.30 L612.33,143.27 L612.49,142.02 L612.65,142.61 L612.81,142.36 L612.97,142.06 L613.13,141.80 L613.28,141.98 L613.44,142.39 L613.60,142.08 L613.76,142.03 L613.92,141.33 L614.08,141.16 L614.24,140.15 L614.40,140.44 L614.56,139.45 L614.72,138.93 L614.87,139.51 L615.03,139.96 L615.19,139.64 L615.35,140.89 L615.51,140.92 L615.67,140.66 L615.83,141.29 L615.99,141.85 L616.15,142.07 L616.31,142.28 L616.46,141.48 L616.62,141.30 L616.78,141.54 L616.94,142.18 L617.10,142.05 L617.26,142.57 L617.42,142.68 L617.58,141.91 L617.74,141.91 L617.90,142.76 L618.05,142.74 L618.21,142.05 L618.37,142.79 L618.53,141.72 L618.69,141.67 L618.85,142.68 L619.01,142.32 L619.17,141.76 L619.33,141.70 L619.49,142.12 L619.64,142.10 L619.80,142.07 L619.96,141.55 L620.12,141.31 L620.28,141.35 L620.44,141.04 L620.60,140.29 L620.76,139.59 L620.92,138.76 L621.08,138.01 L621.23,136.11 L621.39,134.13 L621.44,133.86 L621.48,132.66 L621.52,132.13 L621.56,130.82 L621.61,129.26 L621.65,128.50 L621.69,124.68 L621.73,121.12 L621.78,117.78 L621.82,112.75 L621.86,105.99 L621.90,98.29 L621.94,89.73 L621.99,81.69 L622.03,72.02 L622.07,63.65 L622.11,55.05 L622.16,48.58 L622.20,43.65 L622.24,41.40 L622.28,41.17 L622.33,42.80 L622.37,48.10 L622.41,53.88 L622.45,61.75 L622.50,70.08 L622.54,79.03 L622.58,86.72 L622.62,94.78 L622.67,102.43 L622.71,107.56 L622.75,113.41 L622.79,116.92 L622.84,121.23 L622.88,123.43 L622.92,125.29 L622.96,125.46 L623.00,126.97 L623.05,128.32 L623.09,128.65 L623.13,129.34 L623.17,129.79 L623.22,130.55 L623.26,130.15 L623.30,130.78 L623.46,132.73 L623.62,133.68 L623.78,134.81 L623.94,136.33 L624.10,137.64 L624.26,138.11 L624.41,138.75 L624.57,138.72 L624.73,140.16 L624.89,140.00 L625.05,140.27 L625.21,140.51 L625.37,140.26 L625.53,140.83 L625.69,140.47 L625.85,140.62 L626.00,139.79 L626.16,139.95 L626.32,140.06 L626.48,139.73 L626.64,139.18 L626.80,139.48 L626.96,140.32 L627.12,138.15 L627.28,139.19 L627.44,138.58 L627.59,139.38 L627.75,139.06 L627.91,138.82 L628.07,138.75 L628.23,139.09 L628.39,138.12 L628.55,139.25 L628.71,139.15 L628.87,138.14 L629.03,139.08 L629.18,139.97 L629.34,139.05 L629.50,139.21 L629.66,138.98 L629.82,138.85 L629.98,139.78 L630.14,139.49 L630.30,140.07 L630.46,140.63 L630.62,140.75 L630.77,140.92 L630.93,141.31 L631.09,140.09 L631.25,141.21 L631.41,141.59 L631.57,141.17 L631.73,141.79 L631.89,140.86 L632.05,140.59 L632.21,141.30 L632.36,141.63 L632.52,141.81 L632.68,141.49 L632.84,141.37 L633.00,141.36 L633.16,141.99 L633.32,141.68 L633.48,142.36 L633.64,141.54 L633.80,141.06 L633.95,140.74 L634.11,141.26 L634.27,141.01 L634.43,138.84 L634.59,138.90 L634.75,138.04 L634.91,136.64 L634.95,136.54 L634.99,135.82 L635.04,135.38 L635.08,135.46 L635.12,135.20 L635.16,134.13 L635.21,134.42 L635.25,131.48 L635.29,130.64 L635.33,128.83 L635.38,125.64 L635.42,122.27 L635.46,118.67 L635.50,114.05 L635.54,108.70 L635.59,101.96 L635.63,94.96 L635.67,88.14 L635.71,80.46 L635.76,73.71 L635.80,68.41 L635.84,63.17 L635.88,61.53 L635.93,60.68 L635.97,60.59 L636.01,64.48 L636.05,69.74 L636.10,75.39 L636.14,82.15 L636.18,88.84 L636.22,95.81 L636.27,102.78 L636.31,108.52 L636.35,112.64 L636.39,116.42 L636.44,120.48 L636.48,123.68 L636.52,125.85 L636.56,126.23 L636.60,127.23 L636.65,128.44 L636.69,129.63 L636.73,130.33 L636.77,130.10 L636.82,131.07 L636.86,131.75 L636.90,132.64 L636.94,132.26 L637.10,133.34 L637.26,134.88 L637.42,135.03 L637.58,137.10 L637.74,137.12 L637.90,138.25 L638.06,138.95 L638.22,138.87 L638.38,139.96 L638.53,138.94 L638.69,139.77 L638.85,139.68 L639.01,139.18 L639.17,139.21 L639.33,139.59 L639.49,138.80 L639.65,139.58 L639.81,139.15 L639.97,139.57 L640.12,139.38 L640.28,139.18 L640.44,139.72 L640.60,140.24 L640.76,139.59 L640.92,140.04 L641.08,140.85 L641.24,140.93 L641.40,141.17 L641.55,140.03 L641.71,141.23 L641.87,140.82 L642.03,141.31 L642.19,141.38 L642.35,141.75 L642.51,142.79 L642.67,142.05 L642.83,141.90 L642.99,142.39 L643.14,141.39 L643.30,142.08 L643.46,142.15 L643.62,143.11 L643.78,141.73 L643.94,141.69 L644.10,142.79 L644.26,142.74 L644.42,141.75 L644.58,142.75 L644.74,142.06 L644.89,142.30 L645.05,141.60 L645.21,142.21 L645.37,141.98 L645.53,142.31 L645.69,143.03 L645.85,142.25 L646.01,141.60 L646.17,142.29 L646.32,142.09 L646.48,142.22 L646.64,141.91 L646.80,141.97 L646.96,141.70 L647.12,142.63 L647.28,143.00 L647.44,141.75 L647.60,142.40 L647.76,142.19 L647.91,141.53 L648.07,142.41 L648.23,141.44 L648.39,142.19 L648.55,143.05 L648.71,142.19 L648.87,142.13 L649.03,142.13 L649.19,142.25 L649.35,141.14 L649.50,141.57 L649.66,141.80 L649.82,142.38 L649.98,142.22 L650.14,141.99 L650.30,141.52 L650.46,142.82 L650.62,141.61 L650.78,141.65 L650.94,141.99 L651.10,141.98 L651.25,142.41 L651.41,142.26 L651.57,141.62 L651.73,141.89 L651.89,141.63 L652.05,141.84 L652.21,142.34 L652.37,141.75 L652.53,141.41 L652.68,141.39 L652.84,141.90 L653.00,142.82 L653.16,141.81 L653.32,142.91 L653.48,141.42 L653.64,142.48 L653.80,142.63 L653.96,141.67 L654.12,141.92 L654.27,142.11 L654.43,141.51 L654.59,142.29 L654.75,141.89 L654.91,141.96 L655.07,141.92 L655.23,141.93 L655.39,141.93 L655.55,142.97 L655.71,142.35 L655.87,142.10 L656.02,142.56 L656.18,141.82 L656.34,142.34 L656.50,142.63 L656.66,141.93 L656.82,142.56 L656.98,142.45 L657.14,142.31 L657.30,142.40 L657.45,142.08 L657.61,141.80 L657.77,142.46 L657.93,142.05 L658.09,142.31 L658.25,142.23 L658.41,142.57 L658.57,141.95 L658.73,142.35 L658.89,142.31 L659.04,142.42 L659.20,142.55 L659.36,141.96 L659.52,142.27 L659.68,142.76 L659.84,141.74 L660.00,141.47 L660.16,142.47 L660.32,141.82 L660.48,142.45 L660.63,142.12 L660.79,141.85 L660.95,142.57 L661.11,142.63 L661.27,142.41 L661.43,142.04 L661.59,141.90 L661.75,142.43 L661.91,142.12 L662.07,141.38 L662.23,142.06 L662.38,142.78 L662.54,142.00 L662.70,142.72 L662.86,142.47 L663.02,142.45 L663.18,141.72 L663.34,141.31 L663.50,141.60 L663.66,141.72 L663.81,142.45 L663.97,141.53 L664.13,141.58 L664.29,142.60 L664.45,141.33 L664.61,142.04 L664.77,142.13 L664.93,141.84 L665.09,141.37 L665.25,142.24 L665.40,141.73 L665.56,141.48 L665.72,142.20 L665.88,141.58 L666.04,142.10 L666.20,142.31 L666.36,142.08 L666.52,141.97 L666.68,141.60 L666.84,141.46 L667.00,141.81 L667.15,142.09 L667.31,142.11 L667.47,142.24 L667.63,142.93 L667.79,141.96 L667.95,141.50 L668.11,142.56 L668.27,142.05 L668.43,142.13 L668.58,142.19 L668.74,142.63 L668.90,142.79 L669.06,142.12 L669.22,142.05 L669.38,142.48 L669.54,141.82 L669.70,142.25 L669.86,142.05 L670.02,142.29 L670.17,141.62 L670.33,142.03 L670.49,142.17 L670.65,142.76 L670.81,141.28 L670.97,141.78 L671.13,141.36 L671.29,142.58 L671.45,142.18 L671.61,142.21 L671.76,142.42 L671.92,142.07 L672.08,142.10 L672.24,141.69 L672.40,141.80 L672.56,142.64 L672.72,141.78 L672.88,142.22 L673.04,141.54 L673.20,141.75 L673.36,141.80 L673.51,142.50 L673.67,142.10 L673.83,141.57 L673.99,142.18 L674.15,141.74 L674.31,142.73 L674.47,142.52 L674.63,142.18 L674.79,142.36 L674.94,142.57 L675.10,141.87 L675.26,142.22 L675.42,142.02 L675.58,142.20 L675.74,141.72 L675.90,142.95 L676.06,143.03 L676.22,142.01 L676.38,141.65 L676.53,142.11 L676.69,141.95" fill="none" stroke="#333333" stroke-width="0.68" stroke-linejoin="round" />
<text x="15.80" y="89.70" font-size="8.4" fill="#3a3a3a" text-anchor="middle" textLength="56.80" lengthAdjust="spacingAndGlyphs" transform="rotate(-90 15.8 89.7)">Intensity (a.u.)</text>
<text x="100.30" y="20.80" font-size="8.4" fill="#f0913a" text-anchor="middle" textLength="40.80" lengthAdjust="spacingAndGlyphs" >Strep-Tsa1</text>
<text x="233.00" y="20.80" font-size="8.4" fill="#5a4fc0" text-anchor="middle" >His<tspan font-size="5.6" dy="1.8">6</tspan><tspan dy="-1.8">-Tsa2-EPEA</tspan></text>
<text x="485.30" y="11.20" font-size="8.4" fill="#2fb36a" text-anchor="middle" >Strep-Tsa1–His<tspan font-size="5.6" dy="1.8">6</tspan><tspan dy="-1.8">-Tsa2-EPEA</tspan></text>
<line x1="325.40" y1="18.40" x2="670.10" y2="18.40" stroke="#555" stroke-width="0.8" />
<text x="370.00" y="30.80" font-size="7.4" fill="#3a3a3a" text-anchor="middle" >0.25 mol mol<tspan font-size="5" dy="-3">−1</tspan></text>
<text x="502.00" y="30.80" font-size="7.4" fill="#3a3a3a" text-anchor="middle" >0.44 mol mol<tspan font-size="5" dy="-3">−1</tspan></text>
<text x="632.50" y="30.80" font-size="7.4" fill="#3a3a3a" text-anchor="middle" >0.88 mol mol<tspan font-size="5" dy="-3">−1</tspan></text>
<text x="85.70" y="45.30" font-size="7.6" fill="#f0913a" text-anchor="middle" textLength="31.60" lengthAdjust="spacingAndGlyphs" >Tsa1–Tsa1</text>
<text x="86.60" y="59.90" font-size="7.6" fill="#3a3a3a" textLength="22.40" lengthAdjust="spacingAndGlyphs" >45,573</text>
<text x="239.60" y="40.50" font-size="7.6" fill="#5a4fc0" text-anchor="middle" textLength="33.70" lengthAdjust="spacingAndGlyphs" >Tsa2–Tsa2</text>
<text x="232.00" y="60.20" font-size="7.6" fill="#3a3a3a" text-anchor="end" textLength="22.40" lengthAdjust="spacingAndGlyphs" >48,146</text>
<text x="247.70" y="96.80" font-size="7.6" fill="#3a3a3a" textLength="22.40" lengthAdjust="spacingAndGlyphs" >48,317</text>
<text x="370.00" y="43.90" font-size="7.6" fill="#5a4fc0" text-anchor="middle" textLength="33.70" lengthAdjust="spacingAndGlyphs" >Tsa2–Tsa2</text>
<text x="377.00" y="59.90" font-size="7.6" fill="#3a3a3a" textLength="22.40" lengthAdjust="spacingAndGlyphs" >48,146</text>
<text x="346.40" y="116.80" font-size="7.6" fill="#2fb36a" text-anchor="middle" textLength="32.80" lengthAdjust="spacingAndGlyphs" >Tsa1–Tsa2</text>
<text x="349.50" y="126.40" font-size="7.6" fill="#3a3a3a" text-anchor="middle" textLength="22.40" lengthAdjust="spacingAndGlyphs" >46,855</text>
<text x="502.40" y="44.30" font-size="7.6" fill="#5a4fc0" text-anchor="middle" textLength="33.70" lengthAdjust="spacingAndGlyphs" >Tsa2–Tsa2</text>
<text x="509.50" y="60.30" font-size="7.6" fill="#3a3a3a" textLength="22.40" lengthAdjust="spacingAndGlyphs" >48,145</text>
<text x="480.50" y="101.50" font-size="7.6" fill="#2fb36a" text-anchor="middle" textLength="32.80" lengthAdjust="spacingAndGlyphs" >Tsa1–Tsa2</text>
<text x="480.50" y="111.70" font-size="7.6" fill="#3a3a3a" text-anchor="middle" textLength="22.40" lengthAdjust="spacingAndGlyphs" >46,852</text>
<text x="582.80" y="44.60" font-size="7.6" fill="#2fb36a" textLength="33.70" lengthAdjust="spacingAndGlyphs" >Tsa1–Tsa2</text>
<text x="626.70" y="48.40" font-size="7.6" fill="#3a3a3a" textLength="22.40" lengthAdjust="spacingAndGlyphs" >46,855</text>
<text x="641.50" y="66.40" font-size="7.6" fill="#3a3a3a" textLength="22.40" lengthAdjust="spacingAndGlyphs" >48,143</text>
<text x="641.00" y="75.60" font-size="7.6" fill="#5a4fc0" textLength="33.70" lengthAdjust="spacingAndGlyphs" >Tsa2–Tsa2</text>
<text x="604.30" y="99.80" font-size="7.6" fill="#f0913a" text-anchor="middle" textLength="31.90" lengthAdjust="spacingAndGlyphs" >Tsa1–Tsa1</text>
<text x="605.30" y="111.30" font-size="7.6" fill="#3a3a3a" text-anchor="middle" textLength="22.40" lengthAdjust="spacingAndGlyphs" >45,568</text>
<text x="4.90" y="195.10" font-size="13" fill="#111" textLength="7.40" lengthAdjust="spacingAndGlyphs" font-weight="bold" >b</text>
<rect x="5.90" y="203.20" width="49.1" height="49.6" fill="#232323"/>
<rect x="5.90" y="203.20" width="49.1" height="49.6" fill="#fff" filter="url(#grain)" opacity="0.06"/>
<rect x="5.90" y="203.20" width="49.1" height="49.6" fill="#000" filter="url(#grainD)" opacity="0.06"/>
<circle cx="30.45" cy="228.00" r="20" fill="url(#h1)"/>
<g filter="url(#bl)"><circle cx="30.45" cy="228.00" r="6.90" fill="#989898"/><circle cx="35.28" cy="228.85" r="1.84" fill="#c8c8c8"/><circle cx="31.13" cy="232.85" r="1.84" fill="#c8c8c8"/><circle cx="26.05" cy="230.15" r="1.84" fill="#c8c8c8"/><circle cx="27.05" cy="224.48" r="1.84" fill="#c8c8c8"/><circle cx="32.75" cy="223.67" r="1.84" fill="#c8c8c8"/><circle cx="30.45" cy="228.00" r="2.90" fill="#444444"/></g>
<rect x="58.00" y="203.20" width="49.1" height="49.6" fill="#222222"/>
<rect x="58.00" y="203.20" width="49.1" height="49.6" fill="#fff" filter="url(#grain)" opacity="0.06"/>
<rect x="58.00" y="203.20" width="49.1" height="49.6" fill="#000" filter="url(#grainD)" opacity="0.06"/>
<circle cx="82.55" cy="228.00" r="20" fill="url(#h1)"/>
<g filter="url(#bl)"><circle cx="82.55" cy="228.00" r="6.80" fill="#c4c4c4"/><circle cx="86.30" cy="231.15" r="1.75" fill="#fafafa"/><circle cx="80.71" cy="232.54" r="1.75" fill="#fafafa"/><circle cx="77.66" cy="227.66" r="1.75" fill="#fafafa"/><circle cx="81.36" cy="223.25" r="1.75" fill="#fafafa"/><circle cx="86.71" cy="225.40" r="1.75" fill="#fafafa"/><circle cx="82.55" cy="228.00" r="3.00" fill="#141414"/></g>
<rect x="110.20" y="203.20" width="49.1" height="49.6" fill="#242424"/>
<rect x="110.20" y="203.20" width="49.1" height="49.6" fill="#fff" filter="url(#grain)" opacity="0.06"/>
<rect x="110.20" y="203.20" width="49.1" height="49.6" fill="#000" filter="url(#grainD)" opacity="0.06"/>
<circle cx="134.75" cy="228.00" r="20" fill="url(#h1)"/>
<g filter="url(#bl)"><circle cx="134.75" cy="228.00" r="6.90" fill="#989898"/><circle cx="139.19" cy="230.07" r="1.84" fill="#c8c8c8"/><circle cx="134.15" cy="232.86" r="1.84" fill="#c8c8c8"/><circle cx="129.94" cy="228.93" r="1.84" fill="#c8c8c8"/><circle cx="132.37" cy="223.71" r="1.84" fill="#c8c8c8"/><circle cx="138.09" cy="224.42" r="1.84" fill="#c8c8c8"/><circle cx="134.75" cy="228.00" r="2.90" fill="#444444"/></g>
<rect x="162.40" y="203.20" width="49.1" height="49.6" fill="#242424"/>
<rect x="162.40" y="203.20" width="49.1" height="49.6" fill="#fff" filter="url(#grain)" opacity="0.06"/>
<rect x="162.40" y="203.20" width="49.1" height="49.6" fill="#000" filter="url(#grainD)" opacity="0.06"/>
<circle cx="186.95" cy="228.00" r="20" fill="url(#h1)"/>
<g filter="url(#bl)"><circle cx="186.95" cy="228.00" r="6.90" fill="#989898"/><circle cx="189.40" cy="232.24" r="1.84" fill="#c8c8c8"/><circle cx="183.67" cy="231.64" r="1.84" fill="#c8c8c8"/><circle cx="182.47" cy="226.01" r="1.84" fill="#c8c8c8"/><circle cx="187.46" cy="223.13" r="1.84" fill="#c8c8c8"/><circle cx="191.74" cy="226.98" r="1.84" fill="#c8c8c8"/><circle cx="186.95" cy="228.00" r="2.90" fill="#444444"/></g>
<rect x="5.90" y="276.30" width="49.1" height="49.6" fill="#393939"/>
<rect x="5.90" y="276.30" width="49.1" height="49.6" fill="#fff" filter="url(#grain)" opacity="0.06"/>
<rect x="5.90" y="276.30" width="49.1" height="49.6" fill="#000" filter="url(#grainD)" opacity="0.06"/>
<circle cx="30.45" cy="301.10" r="20" fill="url(#h1b)"/>
<g filter="url(#bl)"><circle cx="30.45" cy="301.10" r="6.90" fill="#bcbcbc"/><circle cx="35.35" cy="301.10" r="1.84" fill="#f2f2f2"/><circle cx="31.96" cy="305.76" r="1.84" fill="#f2f2f2"/><circle cx="26.49" cy="303.98" r="1.84" fill="#f2f2f2"/><circle cx="26.49" cy="298.22" r="1.84" fill="#f2f2f2"/><circle cx="31.96" cy="296.44" r="1.84" fill="#f2f2f2"/><circle cx="30.45" cy="301.10" r="2.90" fill="#262626"/></g>
<rect x="58.00" y="276.30" width="49.1" height="49.6" fill="#393939"/>
<rect x="58.00" y="276.30" width="49.1" height="49.6" fill="#fff" filter="url(#grain)" opacity="0.06"/>
<rect x="58.00" y="276.30" width="49.1" height="49.6" fill="#000" filter="url(#grainD)" opacity="0.06"/>
<circle cx="82.55" cy="301.10" r="20" fill="url(#h1b)"/>
<g filter="url(#bl)"><circle cx="82.55" cy="301.10" r="6.90" fill="#bcbcbc"/><circle cx="87.28" cy="302.37" r="1.84" fill="#f2f2f2"/><circle cx="82.81" cy="305.99" r="1.84" fill="#f2f2f2"/><circle cx="77.98" cy="302.86" r="1.84" fill="#f2f2f2"/><circle cx="79.47" cy="297.29" r="1.84" fill="#f2f2f2"/><circle cx="85.22" cy="296.99" r="1.84" fill="#f2f2f2"/><circle cx="82.55" cy="301.10" r="2.90" fill="#262626"/></g>
<rect x="110.20" y="276.30" width="49.1" height="49.6" fill="#393939"/>
<rect x="110.20" y="276.30" width="49.1" height="49.6" fill="#fff" filter="url(#grain)" opacity="0.06"/>
<rect x="110.20" y="276.30" width="49.1" height="49.6" fill="#000" filter="url(#grainD)" opacity="0.06"/>
<circle cx="134.75" cy="301.10" r="20" fill="url(#h1b)"/>
<g filter="url(#bl)"><circle cx="134.75" cy="301.10" r="6.90" fill="#bcbcbc"/><circle cx="138.99" cy="303.55" r="1.84" fill="#f2f2f2"/><circle cx="133.73" cy="305.89" r="1.84" fill="#f2f2f2"/><circle cx="129.88" cy="301.61" r="1.84" fill="#f2f2f2"/><circle cx="132.76" cy="296.62" r="1.84" fill="#f2f2f2"/><circle cx="138.39" cy="297.82" r="1.84" fill="#f2f2f2"/><circle cx="134.75" cy="301.10" r="2.90" fill="#262626"/></g>
<rect x="162.40" y="276.30" width="49.1" height="49.6" fill="#393939"/>
<rect x="162.40" y="276.30" width="49.1" height="49.6" fill="#fff" filter="url(#grain)" opacity="0.06"/>
<rect x="162.40" y="276.30" width="49.1" height="49.6" fill="#000" filter="url(#grainD)" opacity="0.06"/>
<circle cx="186.95" cy="301.10" r="20" fill="url(#h1b)"/>
<g filter="url(#bl)"><circle cx="186.95" cy="301.10" r="6.90" fill="#bcbcbc"/><circle cx="190.41" cy="304.56" r="1.84" fill="#f2f2f2"/><circle cx="184.73" cy="305.47" r="1.84" fill="#f2f2f2"/><circle cx="182.11" cy="300.33" r="1.84" fill="#f2f2f2"/><circle cx="186.18" cy="296.26" r="1.84" fill="#f2f2f2"/><circle cx="191.32" cy="298.88" r="1.84" fill="#f2f2f2"/><circle cx="186.95" cy="301.10" r="2.90" fill="#262626"/></g>
<rect x="242.20" y="203.20" width="49.1" height="49.6" fill="#878787"/>
<rect x="242.20" y="203.20" width="49.1" height="49.6" fill="#fff" filter="url(#grain)" opacity="0.06"/>
<rect x="242.20" y="203.20" width="49.1" height="49.6" fill="#000" filter="url(#grainD)" opacity="0.06"/>
<circle cx="266.75" cy="228.00" r="20" fill="url(#h2t)"/>
<g filter="url(#bl)"><circle cx="266.75" cy="228.00" r="7.00" fill="#dcdcdc"/><circle cx="271.73" cy="228.44" r="1.84" fill="#ffffff"/><circle cx="267.87" cy="232.87" r="1.84" fill="#ffffff"/><circle cx="262.46" cy="230.58" r="1.84" fill="#ffffff"/><circle cx="262.98" cy="224.72" r="1.84" fill="#ffffff"/><circle cx="268.70" cy="223.40" r="1.84" fill="#ffffff"/><circle cx="266.75" cy="228.00" r="3.00" fill="#0e0e0e"/></g>
<rect x="294.40" y="203.20" width="49.1" height="49.6" fill="#878787"/>
<rect x="294.40" y="203.20" width="49.1" height="49.6" fill="#fff" filter="url(#grain)" opacity="0.06"/>
<rect x="294.40" y="203.20" width="49.1" height="49.6" fill="#000" filter="url(#grainD)" opacity="0.06"/>
<circle cx="318.95" cy="228.00" r="20" fill="url(#h2t)"/>
<g filter="url(#bl)"><circle cx="318.95" cy="228.00" r="7.00" fill="#dcdcdc"/><circle cx="323.48" cy="230.11" r="1.84" fill="#ffffff"/><circle cx="318.34" cy="232.96" r="1.84" fill="#ffffff"/><circle cx="314.04" cy="228.95" r="1.84" fill="#ffffff"/><circle cx="316.53" cy="223.63" r="1.84" fill="#ffffff"/><circle cx="322.36" cy="224.34" r="1.84" fill="#ffffff"/><circle cx="318.95" cy="228.00" r="3.00" fill="#0e0e0e"/></g>
<rect x="346.60" y="203.20" width="49.1" height="49.6" fill="#878787"/>
<rect x="346.60" y="203.20" width="49.1" height="49.6" fill="#fff" filter="url(#grain)" opacity="0.06"/>
<rect x="346.60" y="203.20" width="49.1" height="49.6" fill="#000" filter="url(#grainD)" opacity="0.06"/>
<circle cx="371.15" cy="228.00" r="20" fill="url(#h2t)"/>
<g filter="url(#bl)"><circle cx="371.15" cy="228.00" r="7.00" fill="#dcdcdc"/><circle cx="374.69" cy="231.54" r="1.84" fill="#ffffff"/><circle cx="368.88" cy="232.46" r="1.84" fill="#ffffff"/><circle cx="366.21" cy="227.22" r="1.84" fill="#ffffff"/><circle cx="370.37" cy="223.06" r="1.84" fill="#ffffff"/><circle cx="375.61" cy="225.73" r="1.84" fill="#ffffff"/><circle cx="371.15" cy="228.00" r="3.00" fill="#0e0e0e"/></g>
<rect x="398.80" y="203.20" width="49.1" height="49.6" fill="#878787"/>
<rect x="398.80" y="203.20" width="49.1" height="49.6" fill="#fff" filter="url(#grain)" opacity="0.06"/>
<rect x="398.80" y="203.20" width="49.1" height="49.6" fill="#000" filter="url(#grainD)" opacity="0.06"/>
<circle cx="423.35" cy="228.00" r="20" fill="url(#h2t)"/>
<g filter="url(#bl)"><circle cx="423.35" cy="228.00" r="7.00" fill="#dcdcdc"/><circle cx="425.46" cy="232.53" r="1.84" fill="#ffffff"/><circle cx="419.69" cy="231.41" r="1.84" fill="#ffffff"/><circle cx="418.98" cy="225.58" r="1.84" fill="#ffffff"/><circle cx="424.30" cy="223.09" r="1.84" fill="#ffffff"/><circle cx="428.31" cy="227.39" r="1.84" fill="#ffffff"/><circle cx="423.35" cy="228.00" r="3.00" fill="#0e0e0e"/></g>
<circle cx="260.25" cy="300.60" r="3" fill="#8a8a8a" filter="url(#bl2)"/>
<rect x="242.20" y="276.30" width="49.1" height="49.6" fill="#212121"/>
<rect x="242.20" y="276.30" width="49.1" height="49.6" fill="#fff" filter="url(#grain)" opacity="0.06"/>
<rect x="242.20" y="276.30" width="49.1" height="49.6" fill="#000" filter="url(#grainD)" opacity="0.06"/>
<circle cx="266.75" cy="301.10" r="20" fill="url(#h2b)"/>
<rect x="294.40" y="276.30" width="49.1" height="49.6" fill="#212121"/>
<rect x="294.40" y="276.30" width="49.1" height="49.6" fill="#fff" filter="url(#grain)" opacity="0.06"/>
<rect x="294.40" y="276.30" width="49.1" height="49.6" fill="#000" filter="url(#grainD)" opacity="0.06"/>
<circle cx="318.95" cy="301.10" r="20" fill="url(#h2b)"/>
<rect x="346.60" y="276.30" width="49.1" height="49.6" fill="#212121"/>
<rect x="346.60" y="276.30" width="49.1" height="49.6" fill="#fff" filter="url(#grain)" opacity="0.06"/>
<rect x="346.60" y="276.30" width="49.1" height="49.6" fill="#000" filter="url(#grainD)" opacity="0.06"/>
<circle cx="371.15" cy="301.10" r="20" fill="url(#h2b)"/>
<rect x="398.80" y="276.30" width="49.1" height="49.6" fill="#212121"/>
<rect x="398.80" y="276.30" width="49.1" height="49.6" fill="#fff" filter="url(#grain)" opacity="0.06"/>
<rect x="398.80" y="276.30" width="49.1" height="49.6" fill="#000" filter="url(#grainD)" opacity="0.06"/>
<circle cx="423.35" cy="301.10" r="20" fill="url(#h2b)"/>
<circle cx="260.25" cy="300.60" r="3" fill="#8a8a8a" filter="url(#bl2)"/>
<g filter="url(#bl)"><circle cx="266.75" cy="301.10" r="7.00" fill="#ababab"/><circle cx="271.75" cy="301.10" r="1.84" fill="#e2e2e2"/><circle cx="268.30" cy="305.86" r="1.84" fill="#e2e2e2"/><circle cx="262.70" cy="304.04" r="1.84" fill="#e2e2e2"/><circle cx="262.70" cy="298.16" r="1.84" fill="#e2e2e2"/><circle cx="268.30" cy="296.34" r="1.84" fill="#e2e2e2"/><circle cx="266.75" cy="301.10" r="3.00" fill="#363636"/></g>
<g filter="url(#bl)"><circle cx="318.95" cy="301.10" r="7.00" fill="#ababab"/><circle cx="323.28" cy="303.60" r="1.84" fill="#e2e2e2"/><circle cx="317.91" cy="305.99" r="1.84" fill="#e2e2e2"/><circle cx="313.98" cy="301.62" r="1.84" fill="#e2e2e2"/><circle cx="316.92" cy="296.53" r="1.84" fill="#e2e2e2"/><circle cx="322.67" cy="297.75" r="1.84" fill="#e2e2e2"/><circle cx="318.95" cy="301.10" r="3.00" fill="#363636"/></g>
<g filter="url(#bl)"><circle cx="371.15" cy="301.10" r="7.00" fill="#ababab"/><circle cx="373.65" cy="305.43" r="1.84" fill="#e2e2e2"/><circle cx="367.80" cy="304.82" r="1.84" fill="#e2e2e2"/><circle cx="366.58" cy="299.07" r="1.84" fill="#e2e2e2"/><circle cx="371.67" cy="296.13" r="1.84" fill="#e2e2e2"/><circle cx="376.04" cy="300.06" r="1.84" fill="#e2e2e2"/><circle cx="371.15" cy="301.10" r="3.00" fill="#363636"/></g>
<g filter="url(#bl)"><circle cx="423.35" cy="301.10" r="7.00" fill="#ababab"/><circle cx="423.35" cy="306.10" r="1.84" fill="#e2e2e2"/><circle cx="418.59" cy="302.65" r="1.84" fill="#e2e2e2"/><circle cx="420.41" cy="297.05" r="1.84" fill="#e2e2e2"/><circle cx="426.29" cy="297.05" r="1.84" fill="#e2e2e2"/><circle cx="428.11" cy="302.65" r="1.84" fill="#e2e2e2"/><circle cx="423.35" cy="301.10" r="3.00" fill="#363636"/></g>
<line x1="306.60" y1="285.70" x2="309.86" y2="289.96" stroke="#f4f4f4" stroke-width="1.2"/>
<polygon points="311.50,292.10 308.35,291.11 311.37,288.80" fill="#f4f4f4" stroke="#f4f4f4" stroke-width="0.5" stroke-linejoin="round"/>
<circle cx="310.68" cy="291.03" r="1.25" fill="#f4f4f4"/>
<line x1="329.10" y1="285.70" x2="327.24" y2="288.96" stroke="#f4f4f4" stroke-width="1.2"/>
<polygon points="325.90,291.30 325.59,288.01 328.89,289.90" fill="#f4f4f4" stroke="#f4f4f4" stroke-width="0.5" stroke-linejoin="round"/>
<circle cx="326.57" cy="290.13" r="1.25" fill="#f4f4f4"/>
<line x1="301.80" y1="292.90" x2="306.00" y2="295.48" stroke="#f4f4f4" stroke-width="1.2"/>
<polygon points="308.30,296.90 305.00,297.10 307.00,293.87" fill="#f4f4f4" stroke="#f4f4f4" stroke-width="0.5" stroke-linejoin="round"/>
<circle cx="307.15" cy="296.19" r="1.25" fill="#f4f4f4"/>
<line x1="336.40" y1="292.90" x2="332.20" y2="295.48" stroke="#f4f4f4" stroke-width="1.2"/>
<polygon points="329.90,296.90 331.20,293.87 333.20,297.10" fill="#f4f4f4" stroke="#f4f4f4" stroke-width="0.5" stroke-linejoin="round"/>
<circle cx="331.05" cy="296.19" r="1.25" fill="#f4f4f4"/>
<line x1="301.00" y1="304.90" x2="305.66" y2="303.88" stroke="#f4f4f4" stroke-width="1.2"/>
<polygon points="308.30,303.30 306.07,305.73 305.26,302.02" fill="#f4f4f4" stroke="#f4f4f4" stroke-width="0.5" stroke-linejoin="round"/>
<circle cx="306.98" cy="303.59" r="1.25" fill="#f4f4f4"/>
<line x1="337.20" y1="302.00" x2="332.60" y2="302.00" stroke="#f4f4f4" stroke-width="1.2"/>
<polygon points="329.90,302.00 332.60,300.10 332.60,303.90" fill="#f4f4f4" stroke="#f4f4f4" stroke-width="0.5" stroke-linejoin="round"/>
<circle cx="331.25" cy="302.00" r="1.25" fill="#f4f4f4"/>
<line x1="309.10" y1="315.40" x2="311.55" y2="311.91" stroke="#f4f4f4" stroke-width="1.2"/>
<polygon points="313.10,309.70 313.10,313.00 309.99,310.82" fill="#f4f4f4" stroke="#f4f4f4" stroke-width="0.5" stroke-linejoin="round"/>
<circle cx="312.32" cy="310.81" r="1.25" fill="#f4f4f4"/>
<line x1="325.10" y1="317.00" x2="323.75" y2="313.79" stroke="#f4f4f4" stroke-width="1.2"/>
<polygon points="322.70,311.30 325.50,313.05 322.00,314.53" fill="#f4f4f4" stroke="#f4f4f4" stroke-width="0.5" stroke-linejoin="round"/>
<circle cx="323.22" cy="312.54" r="1.25" fill="#f4f4f4"/>
<line x1="333.90" y1="312.10" x2="330.50" y2="309.67" stroke="#f4f4f4" stroke-width="1.2"/>
<polygon points="328.30,308.10 331.60,308.12 329.39,311.22" fill="#f4f4f4" stroke="#f4f4f4" stroke-width="0.5" stroke-linejoin="round"/>
<circle cx="329.40" cy="308.88" r="1.25" fill="#f4f4f4"/>
<rect x="478.70" y="203.20" width="49.1" height="49.6" fill="#454545"/>
<rect x="478.70" y="203.20" width="49.1" height="49.6" fill="#fff" filter="url(#grain)" opacity="0.06"/>
<rect x="478.70" y="203.20" width="49.1" height="49.6" fill="#000" filter="url(#grainD)" opacity="0.06"/>
<circle cx="503.25" cy="228.00" r="20" fill="url(#h3t)"/>
<g filter="url(#bl)"><circle cx="503.25" cy="228.00" r="7.00" fill="#c2c2c2"/><circle cx="508.04" cy="229.02" r="1.93" fill="#f6f6f6"/><circle cx="503.76" cy="232.87" r="1.93" fill="#f6f6f6"/><circle cx="498.77" cy="229.99" r="1.93" fill="#f6f6f6"/><circle cx="499.97" cy="224.36" r="1.93" fill="#f6f6f6"/><circle cx="505.70" cy="223.76" r="1.93" fill="#f6f6f6"/><circle cx="503.25" cy="228.00" r="2.80" fill="#1a1a1a"/></g>
<rect x="530.80" y="203.20" width="49.1" height="49.6" fill="#454545"/>
<rect x="530.80" y="203.20" width="49.1" height="49.6" fill="#fff" filter="url(#grain)" opacity="0.06"/>
<rect x="530.80" y="203.20" width="49.1" height="49.6" fill="#000" filter="url(#grainD)" opacity="0.06"/>
<circle cx="555.35" cy="228.00" r="20" fill="url(#h3t)"/>
<g filter="url(#bl)"><circle cx="555.35" cy="228.00" r="7.00" fill="#c2c2c2"/><circle cx="559.26" cy="230.95" r="1.93" fill="#f6f6f6"/><circle cx="553.75" cy="232.63" r="1.93" fill="#f6f6f6"/><circle cx="550.45" cy="227.91" r="1.93" fill="#f6f6f6"/><circle cx="553.92" cy="223.31" r="1.93" fill="#f6f6f6"/><circle cx="559.36" cy="225.19" r="1.93" fill="#f6f6f6"/><circle cx="555.35" cy="228.00" r="2.80" fill="#1a1a1a"/></g>
<rect x="582.90" y="203.20" width="49.1" height="49.6" fill="#454545"/>
<rect x="582.90" y="203.20" width="49.1" height="49.6" fill="#fff" filter="url(#grain)" opacity="0.06"/>
<rect x="582.90" y="203.20" width="49.1" height="49.6" fill="#000" filter="url(#grainD)" opacity="0.06"/>
<circle cx="607.45" cy="228.00" r="20" fill="url(#h3t)"/>
<g filter="url(#bl)"><circle cx="607.45" cy="228.00" r="7.00" fill="#c2c2c2"/><circle cx="609.75" cy="232.33" r="1.93" fill="#f6f6f6"/><circle cx="604.05" cy="231.52" r="1.93" fill="#f6f6f6"/><circle cx="603.05" cy="225.85" r="1.93" fill="#f6f6f6"/><circle cx="608.13" cy="223.15" r="1.93" fill="#f6f6f6"/><circle cx="612.28" cy="227.15" r="1.93" fill="#f6f6f6"/><circle cx="607.45" cy="228.00" r="2.80" fill="#1a1a1a"/></g>
<rect x="635.10" y="203.20" width="49.1" height="49.6" fill="#454545"/>
<rect x="635.10" y="203.20" width="49.1" height="49.6" fill="#fff" filter="url(#grain)" opacity="0.06"/>
<rect x="635.10" y="203.20" width="49.1" height="49.6" fill="#000" filter="url(#grainD)" opacity="0.06"/>
<circle cx="659.65" cy="228.00" r="20" fill="url(#h3t)"/>
<ellipse cx="660.0" cy="228.2" rx="7.8" ry="3.9" transform="rotate(-52 660.0 228.2)" fill="#ededed" filter="url(#bl)"/>
<rect x="478.70" y="276.30" width="49.1" height="49.6" fill="#2f2f2f"/>
<rect x="478.70" y="276.30" width="49.1" height="49.6" fill="#fff" filter="url(#grain)" opacity="0.06"/>
<rect x="478.70" y="276.30" width="49.1" height="49.6" fill="#000" filter="url(#grainD)" opacity="0.06"/>
<circle cx="503.25" cy="301.10" r="20" fill="url(#h3b)"/>
<g filter="url(#bl)"><circle cx="503.25" cy="301.10" r="7.20" fill="#b4b4b4"/><circle cx="508.40" cy="301.10" r="1.89" fill="#e8e8e8"/><circle cx="504.84" cy="306.00" r="1.89" fill="#e8e8e8"/><circle cx="499.08" cy="304.13" r="1.89" fill="#e8e8e8"/><circle cx="499.08" cy="298.07" r="1.89" fill="#e8e8e8"/><circle cx="504.84" cy="296.20" r="1.89" fill="#e8e8e8"/><circle cx="503.25" cy="301.10" r="3.10" fill="#606060"/></g>
<rect x="530.80" y="276.30" width="49.1" height="49.6" fill="#2f2f2f"/>
<rect x="530.80" y="276.30" width="49.1" height="49.6" fill="#fff" filter="url(#grain)" opacity="0.06"/>
<rect x="530.80" y="276.30" width="49.1" height="49.6" fill="#000" filter="url(#grainD)" opacity="0.06"/>
<circle cx="555.35" cy="301.10" r="20" fill="url(#h3b)"/>
<g filter="url(#bl)"><circle cx="555.35" cy="301.10" r="7.20" fill="#b4b4b4"/><circle cx="559.81" cy="303.68" r="1.89" fill="#e8e8e8"/><circle cx="554.28" cy="306.14" r="1.89" fill="#e8e8e8"/><circle cx="550.23" cy="301.64" r="1.89" fill="#e8e8e8"/><circle cx="553.26" cy="296.40" r="1.89" fill="#e8e8e8"/><circle cx="559.18" cy="297.65" r="1.89" fill="#e8e8e8"/><circle cx="555.35" cy="301.10" r="3.10" fill="#606060"/></g>
<rect x="582.90" y="276.30" width="49.1" height="49.6" fill="#2f2f2f"/>
<rect x="582.90" y="276.30" width="49.1" height="49.6" fill="#fff" filter="url(#grain)" opacity="0.06"/>
<rect x="582.90" y="276.30" width="49.1" height="49.6" fill="#000" filter="url(#grainD)" opacity="0.06"/>
<circle cx="607.45" cy="301.10" r="20" fill="url(#h3b)"/>
<ellipse cx="607.6" cy="301.3" rx="7.6" ry="4.2" transform="rotate(33 607.6 301.3)" fill="#eeeeee" filter="url(#bl)"/>
<rect x="635.10" y="276.30" width="49.1" height="49.6" fill="#2f2f2f"/>
<rect x="635.10" y="276.30" width="49.1" height="49.6" fill="#fff" filter="url(#grain)" opacity="0.06"/>
<rect x="635.10" y="276.30" width="49.1" height="49.6" fill="#000" filter="url(#grainD)" opacity="0.06"/>
<circle cx="659.65" cy="301.10" r="20" fill="url(#h3b)"/>
<g filter="url(#bl)"><circle cx="659.65" cy="301.10" r="7.60" fill="#989898"/><circle cx="665.10" cy="301.10" r="1.98" fill="#b8b8b8"/><circle cx="661.33" cy="306.28" r="1.98" fill="#b8b8b8"/><circle cx="655.24" cy="304.30" r="1.98" fill="#b8b8b8"/><circle cx="655.24" cy="297.90" r="1.98" fill="#b8b8b8"/><circle cx="661.33" cy="295.92" r="1.98" fill="#b8b8b8"/><circle cx="659.65" cy="301.10" r="3.30" fill="#585858"/></g>
<line x1="645.70" y1="291.30" x2="649.10" y2="293.73" stroke="#f4f4f4" stroke-width="1.2"/>
<polygon points="651.30,295.30 648.00,295.28 650.21,292.18" fill="#f4f4f4" stroke="#f4f4f4" stroke-width="0.5" stroke-linejoin="round"/>
<circle cx="650.20" cy="294.52" r="1.25" fill="#f4f4f4"/>
<line x1="640.80" y1="300.60" x2="645.90" y2="300.60" stroke="#f4f4f4" stroke-width="1.2"/>
<polygon points="648.60,300.60 645.90,302.50 645.90,298.70" fill="#f4f4f4" stroke="#f4f4f4" stroke-width="0.5" stroke-linejoin="round"/>
<circle cx="647.25" cy="300.60" r="1.25" fill="#f4f4f4"/>
<line x1="677.80" y1="297.70" x2="673.99" y2="298.83" stroke="#f4f4f4" stroke-width="1.2"/>
<polygon points="671.40,299.60 673.45,297.01 674.53,300.65" fill="#f4f4f4" stroke="#f4f4f4" stroke-width="0.5" stroke-linejoin="round"/>
<circle cx="672.69" cy="299.22" r="1.25" fill="#f4f4f4"/>
<line x1="675.40" y1="311.30" x2="671.98" y2="309.14" stroke="#f4f4f4" stroke-width="1.2"/>
<polygon points="669.70,307.70 673.00,307.54 670.97,310.75" fill="#f4f4f4" stroke="#f4f4f4" stroke-width="0.5" stroke-linejoin="round"/>
<circle cx="670.84" cy="308.42" r="1.25" fill="#f4f4f4"/>
<line x1="653.70" y1="317.00" x2="655.16" y2="313.03" stroke="#f4f4f4" stroke-width="1.2"/>
<polygon points="656.10,310.50 656.95,313.69 653.38,312.37" fill="#f4f4f4" stroke="#f4f4f4" stroke-width="0.5" stroke-linejoin="round"/>
<circle cx="655.63" cy="311.77" r="1.25" fill="#f4f4f4"/>
<line x1="664.10" y1="317.00" x2="662.83" y2="313.07" stroke="#f4f4f4" stroke-width="1.2"/>
<polygon points="662.00,310.50 664.64,312.49 661.02,313.65" fill="#f4f4f4" stroke="#f4f4f4" stroke-width="0.5" stroke-linejoin="round"/>
<circle cx="662.42" cy="311.78" r="1.25" fill="#f4f4f4"/>
<text x="108.90" y="198.10" font-size="8.4" fill="#f0913a" text-anchor="middle" textLength="72.20" lengthAdjust="spacingAndGlyphs" >Strep-Tsa1 control</text>
<text x="109.00" y="268.60" font-size="8.4" fill="#f0913a" text-anchor="middle" textLength="92.30" lengthAdjust="spacingAndGlyphs" >Strep-Tsa1 + Nbsyn2.20</text>
<text x="345.40" y="197.90" font-size="8.4" fill="#5a4fc0" text-anchor="middle" textLength="91.10" lengthAdjust="spacingAndGlyphs" >His<tspan font-size="5.6" dy="1.8">6</tspan><tspan dy="-1.8">-Tsa2-EPEA control</tspan></text>
<text x="344.60" y="268.60" font-size="8.4" fill="#5a4fc0" text-anchor="middle" >His<tspan font-size="5.6" dy="1.8">6</tspan><tspan dy="-1.8">-Tsa2-EPEA + Nbsyn2.20</tspan></text>
<text x="581.50" y="197.80" font-size="8.4" fill="#2fb36a" text-anchor="middle" textLength="136.70" lengthAdjust="spacingAndGlyphs" >Strep-Tsa1–His<tspan font-size="5.6" dy="1.8">6</tspan><tspan dy="-1.8">-Tsa2-EPEA control</tspan></text>
<text x="581.60" y="268.60" font-size="8.4" fill="#2fb36a" text-anchor="middle" textLength="157.80" lengthAdjust="spacingAndGlyphs" >Strep-Tsa1–His<tspan font-size="5.6" dy="1.8">6</tspan><tspan dy="-1.8">-Tsa2-EPEA + Nbsyn2.20</tspan></text>
<text x="5.10" y="346.60" font-size="13" fill="#111" textLength="6.90" lengthAdjust="spacingAndGlyphs" font-weight="bold" >c</text>
<line x1="52.60" y1="374.20" x2="52.60" y2="486.60" stroke="#7d7d7d" stroke-width="0.7" />
<line x1="49.40" y1="486.40" x2="52.60" y2="486.40" stroke="#7d7d7d" stroke-width="0.7" />
<text x="45.00" y="489.10" font-size="7.6" fill="#3a3a3a" text-anchor="end" textLength="4.40" lengthAdjust="spacingAndGlyphs" >0</text>
<line x1="50.40" y1="458.35" x2="52.60" y2="458.35" stroke="#7d7d7d" stroke-width="0.7" />
<line x1="49.40" y1="430.30" x2="52.60" y2="430.30" stroke="#7d7d7d" stroke-width="0.7" />
<text x="45.00" y="433.00" font-size="7.6" fill="#3a3a3a" text-anchor="end" textLength="15.38" lengthAdjust="spacingAndGlyphs" >0.01</text>
<line x1="50.40" y1="402.25" x2="52.60" y2="402.25" stroke="#7d7d7d" stroke-width="0.7" />
<line x1="49.40" y1="374.20" x2="52.60" y2="374.20" stroke="#7d7d7d" stroke-width="0.7" />
<text x="45.00" y="376.90" font-size="7.6" fill="#3a3a3a" text-anchor="end" textLength="15.38" lengthAdjust="spacingAndGlyphs" >0.02</text>
<line x1="52.60" y1="486.60" x2="172.60" y2="486.60" stroke="#7d7d7d" stroke-width="0.7" />
<line x1="52.60" y1="486.60" x2="52.60" y2="489.00" stroke="#7d7d7d" stroke-width="0.7" />
<line x1="60.60" y1="486.60" x2="60.60" y2="489.00" stroke="#7d7d7d" stroke-width="0.7" />
<line x1="68.60" y1="486.60" x2="68.60" y2="489.60" stroke="#7d7d7d" stroke-width="0.7" />
<line x1="76.60" y1="486.60" x2="76.60" y2="489.00" stroke="#7d7d7d" stroke-width="0.7" />
<line x1="84.60" y1="486.60" x2="84.60" y2="489.00" stroke="#7d7d7d" stroke-width="0.7" />
<line x1="92.60" y1="486.60" x2="92.60" y2="489.60" stroke="#7d7d7d" stroke-width="0.7" />
<line x1="100.60" y1="486.60" x2="100.60" y2="489.00" stroke="#7d7d7d" stroke-width="0.7" />
<line x1="108.60" y1="486.60" x2="108.60" y2="489.00" stroke="#7d7d7d" stroke-width="0.7" />
<line x1="116.60" y1="486.60" x2="116.60" y2="489.60" stroke="#7d7d7d" stroke-width="0.7" />
<line x1="124.60" y1="486.60" x2="124.60" y2="489.00" stroke="#7d7d7d" stroke-width="0.7" />
<line x1="132.60" y1="486.60" x2="132.60" y2="489.00" stroke="#7d7d7d" stroke-width="0.7" />
<line x1="140.60" y1="486.60" x2="140.60" y2="489.60" stroke="#7d7d7d" stroke-width="0.7" />
<line x1="148.60" y1="486.60" x2="148.60" y2="489.00" stroke="#7d7d7d" stroke-width="0.7" />
<line x1="156.60" y1="486.60" x2="156.60" y2="489.00" stroke="#7d7d7d" stroke-width="0.7" />
<line x1="164.60" y1="486.60" x2="164.60" y2="489.60" stroke="#7d7d7d" stroke-width="0.7" />
<line x1="172.60" y1="486.60" x2="172.60" y2="489.00" stroke="#7d7d7d" stroke-width="0.7" />
<text x="68.60" y="500.80" font-size="7.6" fill="#3a3a3a" text-anchor="middle" textLength="8.79" lengthAdjust="spacingAndGlyphs" >30</text>
<text x="92.60" y="500.80" font-size="7.6" fill="#3a3a3a" text-anchor="middle" textLength="8.79" lengthAdjust="spacingAndGlyphs" >45</text>
<text x="116.60" y="500.80" font-size="7.6" fill="#3a3a3a" text-anchor="middle" textLength="8.79" lengthAdjust="spacingAndGlyphs" >60</text>
<text x="140.60" y="500.80" font-size="7.6" fill="#3a3a3a" text-anchor="middle" textLength="8.79" lengthAdjust="spacingAndGlyphs" >75</text>
<text x="164.60" y="500.80" font-size="7.6" fill="#3a3a3a" text-anchor="middle" textLength="8.79" lengthAdjust="spacingAndGlyphs" >90</text>
<text x="112.60" y="513.20" font-size="8.4" fill="#3a3a3a" text-anchor="middle" ><tspan font-style="italic">T</tspan> (°C)</text>
<text x="23.20" y="430.30" font-size="8.4" fill="#3a3a3a" text-anchor="middle" textLength="57.40" lengthAdjust="spacingAndGlyphs" transform="rotate(-90 23.2 430.3)">First derivative</text>
<path d="M52.60,480.23 C53.93,480.14 58.47,480.04 60.60,479.67 C62.73,479.29 63.80,478.92 65.40,477.98 C67.00,477.05 68.60,475.74 70.20,474.06 C71.80,472.38 73.40,470.04 75.00,467.89 C76.60,465.74 78.33,462.74 79.80,461.15 C81.27,459.57 82.47,458.44 83.80,458.35 C85.13,458.26 86.33,459.28 87.80,460.59 C89.27,461.90 91.00,464.33 92.60,466.20 C94.20,468.07 96.07,470.60 97.40,471.81 C98.73,473.03 99.27,473.12 100.60,473.50 C101.93,473.87 103.80,473.87 105.40,474.06 C107.00,474.25 108.33,474.43 110.20,474.62 C112.07,474.81 114.73,475.27 116.60,475.18 C118.47,475.09 119.80,474.99 121.40,474.06 C123.00,473.12 124.87,471.44 126.20,469.57 C127.53,467.70 128.33,465.27 129.40,462.84 C130.47,460.41 131.75,456.76 132.60,454.98 C133.45,453.21 133.85,452.18 134.52,452.18 C135.19,452.18 135.85,453.02 136.60,454.98 C137.35,456.95 138.20,461.53 139.00,463.96 C139.80,466.39 140.60,468.35 141.40,469.57 C142.20,470.79 142.60,470.88 143.80,471.25 C145.00,471.63 146.47,471.63 148.60,471.81 C150.73,472.00 153.93,472.38 156.60,472.38 C159.27,472.38 161.93,472.00 164.60,471.81 C167.27,471.63 171.27,471.35 172.60,471.25" fill="none" stroke="#f0912e" stroke-width="1.25" stroke-linejoin="round" />
<path d="M52.60,481.91 C55.27,481.63 63.27,480.70 68.60,480.23 C73.93,479.76 79.80,479.57 84.60,479.11 C89.40,478.64 94.20,477.98 97.40,477.42 C100.60,476.86 101.67,476.58 103.80,475.74 C105.93,474.90 108.07,473.68 110.20,472.38 C112.33,471.07 114.73,469.48 116.60,467.89 C118.47,466.30 119.80,465.18 121.40,462.84 C123.00,460.50 124.73,456.95 126.20,453.86 C127.67,450.78 129.00,446.57 130.20,444.32 C131.40,442.08 132.47,440.68 133.40,440.40 C134.33,440.12 134.87,440.77 135.80,442.64 C136.73,444.51 137.93,448.53 139.00,451.62 C140.07,454.70 141.13,458.44 142.20,461.15 C143.27,463.87 144.33,466.30 145.40,467.89 C146.47,469.48 147.27,470.04 148.60,470.69 C149.93,471.35 151.80,471.53 153.40,471.81 C155.00,472.09 156.33,472.19 158.20,472.38 C160.07,472.56 162.20,472.75 164.60,472.94 C167.00,473.12 171.27,473.40 172.60,473.50" fill="none" stroke="#72d46f" stroke-width="1.25" stroke-linejoin="round" />
<path d="M52.60,481.35 C55.27,481.16 63.27,480.51 68.60,480.23 C73.93,479.95 79.27,480.04 84.60,479.67 C89.93,479.29 96.60,478.45 100.60,477.98 C104.60,477.52 105.93,477.42 108.60,476.86 C111.27,476.30 114.20,475.55 116.60,474.62 C119.00,473.68 121.13,472.84 123.00,471.25 C124.87,469.66 126.20,467.98 127.80,465.08 C129.40,462.18 131.13,456.95 132.60,453.86 C134.07,450.78 135.37,448.06 136.60,446.57 C137.83,445.07 138.89,444.61 139.96,444.89 C141.03,445.17 141.96,446.48 143.00,448.25 C144.04,450.03 145.13,453.11 146.20,455.54 C147.27,457.98 148.33,461.06 149.40,462.84 C150.47,464.61 151.53,465.74 152.60,466.20 C153.67,466.67 154.73,465.83 155.80,465.64 C156.87,465.46 157.93,464.89 159.00,465.08 C160.07,465.27 161.00,465.83 162.20,466.76 C163.40,467.70 165.00,469.76 166.20,470.69 C167.40,471.63 168.33,472.00 169.40,472.38 C170.47,472.75 172.07,472.84 172.60,472.94" fill="none" stroke="#45b957" stroke-width="1.25" stroke-linejoin="round" />
<path d="M52.60,480.23 C55.27,480.23 63.27,480.32 68.60,480.23 C73.93,480.14 79.27,479.86 84.60,479.67 C89.93,479.48 96.60,479.29 100.60,479.11 C104.60,478.92 105.93,478.92 108.60,478.55 C111.27,478.17 114.47,477.33 116.60,476.86 C118.73,476.40 120.07,475.93 121.40,475.74 C122.73,475.55 123.67,475.65 124.60,475.74 C125.53,475.83 126.20,476.30 127.00,476.30 C127.80,476.30 128.47,476.30 129.40,475.74 C130.33,475.18 131.53,474.71 132.60,472.94 C133.67,471.16 134.73,469.20 135.80,465.08 C136.87,460.97 137.99,455.45 139.00,448.25 C140.01,441.05 141.00,429.55 141.88,421.88 C142.76,414.22 143.64,406.18 144.28,402.25 C144.92,398.32 145.21,398.14 145.72,398.32 C146.23,398.51 146.63,398.51 147.32,403.37 C148.01,408.23 149.00,418.80 149.88,427.50 C150.76,436.19 151.75,448.53 152.60,455.54 C153.45,462.56 154.07,466.39 155.00,469.57 C155.93,472.75 157.13,473.50 158.20,474.62 C159.27,475.74 160.33,476.11 161.40,476.30 C162.47,476.49 163.27,475.83 164.60,475.74 C165.93,475.65 168.07,475.65 169.40,475.74 C170.73,475.83 172.07,476.21 172.60,476.30" fill="none" stroke="#5548c0" stroke-width="1.25" stroke-linejoin="round" />
<path d="M52.60,480.23 C57.93,480.14 76.60,479.95 84.60,479.67 C92.60,479.39 96.60,478.92 100.60,478.55 C104.60,478.17 105.93,477.89 108.60,477.42 C111.27,476.96 114.47,476.30 116.60,475.74 C118.73,475.18 119.80,475.09 121.40,474.06 C123.00,473.03 124.60,472.19 126.20,469.57 C127.80,466.95 129.45,463.49 131.00,458.35 C132.55,453.21 134.09,445.07 135.48,438.71 C136.87,432.36 138.20,424.32 139.32,420.20 C140.44,416.09 141.29,414.40 142.20,414.03 C143.11,413.66 143.77,413.84 144.76,417.96 C145.75,422.07 146.95,431.52 148.12,438.71 C149.29,445.91 150.65,455.83 151.80,461.15 C152.95,466.48 153.67,468.54 155.00,470.69 C156.33,472.84 158.20,473.50 159.80,474.06 C161.40,474.62 162.47,474.25 164.60,474.06 C166.73,473.87 171.27,473.12 172.60,472.94" fill="none" stroke="#3b7f37" stroke-width="1.25" stroke-linejoin="round" />
<line x1="61.90" y1="346.40" x2="72.00" y2="346.40" stroke="#f0912e" stroke-width="1.1" />
<text x="76.20" y="349.00" font-size="7.3" fill="#3a3a3a" textLength="68.00" lengthAdjust="spacingAndGlyphs" >Tsa1 homo-oligomer</text>
<line x1="61.90" y1="355.53" x2="72.00" y2="355.53" stroke="#5548c0" stroke-width="1.1" />
<text x="76.20" y="358.13" font-size="7.3" fill="#3a3a3a" textLength="68.00" lengthAdjust="spacingAndGlyphs" >Tsa2 homo-oligomer</text>
<line x1="61.90" y1="364.66" x2="72.00" y2="364.66" stroke="#3b7f37" stroke-width="1.1" />
<text x="76.20" y="367.26" font-size="7.3" fill="#3a3a3a" textLength="107.50" lengthAdjust="spacingAndGlyphs" >Tsa1–Tsa2 hetero-oligomer 0.25</text>
<line x1="61.90" y1="373.79" x2="72.00" y2="373.79" stroke="#45b957" stroke-width="1.1" />
<text x="76.20" y="376.39" font-size="7.3" fill="#3a3a3a" textLength="107.50" lengthAdjust="spacingAndGlyphs" >Tsa1–Tsa2 hetero-oligomer 0.44</text>
<line x1="61.90" y1="382.92" x2="72.00" y2="382.92" stroke="#72d46f" stroke-width="1.1" />
<text x="76.20" y="385.52" font-size="7.3" fill="#3a3a3a" textLength="107.50" lengthAdjust="spacingAndGlyphs" >Tsa1–Tsa2 hetero-oligomer 0.88</text>
<text x="86.60" y="442.00" font-size="7.4" fill="#3a3a3a" text-anchor="middle" textLength="25.30" lengthAdjust="spacingAndGlyphs" >Tm (°C)</text>
<text x="86.60" y="452.70" font-size="7.4" fill="#f0912e" text-anchor="middle" textLength="37.00" lengthAdjust="spacingAndGlyphs" >39.5 ± 0.32</text>
<text x="167.40" y="408.70" font-size="7.4" fill="#3a3a3a" textLength="25.30" lengthAdjust="spacingAndGlyphs" >Tm (°C)</text>
<text x="159.10" y="420.90" font-size="7.4" fill="#f0912e" textLength="37.00" lengthAdjust="spacingAndGlyphs" >71.2 ± 0.07</text>
<text x="159.10" y="429.78" font-size="7.4" fill="#5548c0" textLength="37.00" lengthAdjust="spacingAndGlyphs" >78.5 ± 0.12</text>
<text x="159.10" y="438.66" font-size="7.4" fill="#3b7f37" textLength="27.00" lengthAdjust="spacingAndGlyphs" >76.4 ± 0</text>
<text x="159.10" y="447.54" font-size="7.4" fill="#45b957" textLength="37.00" lengthAdjust="spacingAndGlyphs" >74.6 ± 0.56</text>
<text x="159.10" y="456.42" font-size="7.4" fill="#72d46f" textLength="37.00" lengthAdjust="spacingAndGlyphs" >70.7 ± 0.09</text>
<text x="239.90" y="347.00" font-size="13" fill="#111" textLength="7.60" lengthAdjust="spacingAndGlyphs" font-weight="bold" >d</text>
<line x1="293.40" y1="375.20" x2="293.40" y2="486.80" stroke="#7d7d7d" stroke-width="0.7" />
<line x1="289.50" y1="379.00" x2="293.40" y2="379.00" stroke="#7d7d7d" stroke-width="0.7" />
<text x="285.40" y="381.70" font-size="6.8" fill="#3a3a3a" text-anchor="end" textLength="3.89" lengthAdjust="spacingAndGlyphs" >0</text>
<line x1="291.10" y1="401.50" x2="293.40" y2="401.50" stroke="#7d7d7d" stroke-width="0.7" />
<line x1="289.50" y1="424.00" x2="293.40" y2="424.00" stroke="#7d7d7d" stroke-width="0.7" />
<text x="285.40" y="426.70" font-size="6.8" fill="#3a3a3a" text-anchor="end" textLength="13.83" lengthAdjust="spacingAndGlyphs" >−5.0</text>
<line x1="291.10" y1="446.50" x2="293.40" y2="446.50" stroke="#7d7d7d" stroke-width="0.7" />
<line x1="289.50" y1="469.00" x2="293.40" y2="469.00" stroke="#7d7d7d" stroke-width="0.7" />
<text x="285.40" y="471.70" font-size="6.8" fill="#3a3a3a" text-anchor="end" textLength="17.72" lengthAdjust="spacingAndGlyphs" >−10.0</text>
<line x1="293.40" y1="486.80" x2="388.74" y2="486.80" stroke="#7d7d7d" stroke-width="0.7" />
<line x1="293.40" y1="486.80" x2="293.40" y2="488.80" stroke="#7d7d7d" stroke-width="0.7" />
<line x1="300.21" y1="486.80" x2="300.21" y2="488.80" stroke="#7d7d7d" stroke-width="0.7" />
<line x1="307.02" y1="486.80" x2="307.02" y2="490.60" stroke="#7d7d7d" stroke-width="0.7" />
<line x1="313.83" y1="486.80" x2="313.83" y2="488.80" stroke="#7d7d7d" stroke-width="0.7" />
<line x1="320.64" y1="486.80" x2="320.64" y2="488.80" stroke="#7d7d7d" stroke-width="0.7" />
<line x1="327.45" y1="486.80" x2="327.45" y2="488.80" stroke="#7d7d7d" stroke-width="0.7" />
<line x1="334.26" y1="486.80" x2="334.26" y2="490.60" stroke="#7d7d7d" stroke-width="0.7" />
<line x1="341.07" y1="486.80" x2="341.07" y2="488.80" stroke="#7d7d7d" stroke-width="0.7" />
<line x1="347.88" y1="486.80" x2="347.88" y2="488.80" stroke="#7d7d7d" stroke-width="0.7" />
<line x1="354.69" y1="486.80" x2="354.69" y2="488.80" stroke="#7d7d7d" stroke-width="0.7" />
<line x1="361.50" y1="486.80" x2="361.50" y2="490.60" stroke="#7d7d7d" stroke-width="0.7" />
<line x1="368.31" y1="486.80" x2="368.31" y2="488.80" stroke="#7d7d7d" stroke-width="0.7" />
<line x1="375.12" y1="486.80" x2="375.12" y2="488.80" stroke="#7d7d7d" stroke-width="0.7" />
<line x1="381.93" y1="486.80" x2="381.93" y2="488.80" stroke="#7d7d7d" stroke-width="0.7" />
<line x1="388.74" y1="486.80" x2="388.74" y2="490.60" stroke="#7d7d7d" stroke-width="0.7" />
<text x="307.82" y="500.70" font-size="7.5" fill="#3a3a3a" text-anchor="middle" textLength="13.40" lengthAdjust="spacingAndGlyphs" >200</text>
<text x="335.06" y="500.70" font-size="7.5" fill="#3a3a3a" text-anchor="middle" textLength="13.40" lengthAdjust="spacingAndGlyphs" >220</text>
<text x="362.30" y="500.70" font-size="7.5" fill="#3a3a3a" text-anchor="middle" textLength="13.40" lengthAdjust="spacingAndGlyphs" >240</text>
<text x="389.54" y="500.70" font-size="7.5" fill="#3a3a3a" text-anchor="middle" textLength="13.40" lengthAdjust="spacingAndGlyphs" >260</text>
<text x="340.47" y="512.20" font-size="8.4" fill="#3a3a3a" text-anchor="middle" textLength="67.60" lengthAdjust="spacingAndGlyphs" >Wavelength (nm)</text>
<path d="M293.40,393.40 C293.85,392.20 295.22,386.80 296.12,386.20 C297.03,385.60 297.94,387.70 298.85,389.80 C299.76,391.90 300.66,397.90 301.57,398.80 C302.48,399.70 303.39,396.25 304.30,395.20 C305.20,394.15 306.11,391.90 307.02,392.50 C307.93,393.10 308.84,396.25 309.74,398.80 C310.65,401.35 311.56,403.90 312.47,407.80 C313.38,411.70 314.28,417.55 315.19,422.20 C316.10,426.85 317.01,431.80 317.92,435.70 C318.82,439.60 319.50,442.60 320.64,445.60 C321.77,448.60 323.36,451.45 324.73,453.70 C326.09,455.95 327.45,457.45 328.81,459.10 C330.17,460.75 331.54,462.25 332.90,463.60 C334.26,464.95 335.71,466.30 336.98,467.20 C338.26,468.10 339.39,469.15 340.53,469.00 C341.66,468.85 342.80,467.95 343.79,466.30 C344.79,464.65 345.61,462.25 346.52,459.10 C347.43,455.95 348.33,451.90 349.24,447.40 C350.15,442.90 351.06,437.05 351.97,432.10 C352.87,427.15 353.56,422.35 354.69,417.70 C355.82,413.05 357.41,408.10 358.78,404.20 C360.14,400.30 361.50,397.15 362.86,394.30 C364.22,391.45 365.59,389.05 366.95,387.10 C368.31,385.15 369.67,383.80 371.03,382.60 C372.40,381.40 373.76,380.50 375.12,379.90 C376.48,379.30 377.84,379.30 379.21,379.00 C380.57,378.70 381.70,378.33 383.29,378.10 C384.88,377.88 387.83,377.72 388.74,377.65" fill="none" stroke="#f5a123" stroke-width="1.15" stroke-linejoin="round" />
<path d="M293.40,404.65 C293.74,401.88 294.76,391.90 295.44,388.00 C296.12,384.10 296.81,381.40 297.49,381.25 C298.17,381.10 298.85,384.48 299.53,387.10 C300.21,389.73 300.89,396.25 301.57,397.00 C302.25,397.75 302.93,393.40 303.61,391.60 C304.30,389.80 304.98,386.80 305.66,386.20 C306.34,385.60 307.02,386.95 307.70,388.00 C308.38,389.05 309.06,391.00 309.74,392.50 C310.42,394.00 311.11,394.90 311.79,397.00 C312.47,399.10 312.92,400.75 313.83,405.10 C314.74,409.45 316.33,417.55 317.23,423.10 C318.14,428.65 318.26,433.90 319.28,438.40 C320.30,442.90 322.00,447.10 323.36,450.10 C324.73,453.10 326.09,454.75 327.45,456.40 C328.81,458.05 330.17,458.95 331.54,460.00 C332.90,461.05 334.26,461.95 335.62,462.70 C336.98,463.45 338.57,464.20 339.71,464.50 C340.84,464.80 341.52,465.10 342.43,464.50 C343.34,463.90 344.25,462.70 345.16,460.90 C346.06,459.10 346.97,457.30 347.88,453.70 C348.79,450.10 349.58,444.40 350.60,439.30 C351.63,434.20 352.99,427.75 354.01,423.10 C355.03,418.45 355.94,414.40 356.73,411.40 C357.53,408.40 357.87,407.50 358.78,405.10 C359.68,402.70 361.09,399.32 362.18,397.00 C363.27,394.68 364.29,393.10 365.31,391.15 C366.34,389.20 367.27,386.92 368.31,385.30 C369.35,383.68 370.44,382.48 371.58,381.43 C372.71,380.38 374.08,379.56 375.12,379.00 C376.16,378.44 376.71,377.88 377.84,378.10 C378.98,378.33 380.57,380.50 381.93,380.35 C383.29,380.20 384.88,377.73 386.02,377.20 C387.15,376.67 388.29,377.20 388.74,377.20" fill="none" stroke="#e85a26" stroke-width="1.15" stroke-linejoin="round" />
<path d="M293.40,378.10 C293.74,379.45 294.76,383.65 295.44,386.20 C296.12,388.75 296.69,392.80 297.49,393.40 C298.28,394.00 299.30,389.20 300.21,389.80 C301.12,390.40 302.03,395.20 302.93,397.00 C303.84,398.80 304.75,400.60 305.66,400.60 C306.57,400.60 307.47,396.70 308.38,397.00 C309.29,397.30 310.27,400.15 311.11,402.40 C311.95,404.65 312.74,406.90 313.42,410.50 C314.10,414.10 314.53,419.95 315.19,424.00 C315.85,428.05 316.60,430.90 317.37,434.80 C318.14,438.70 318.82,445.00 319.82,447.40 C320.82,449.80 322.32,449.20 323.36,449.20 C324.41,449.20 325.23,447.40 326.09,447.40 C326.95,447.40 327.75,449.35 328.54,449.20 C329.33,449.05 330.06,447.25 330.85,446.50 C331.65,445.75 332.40,445.45 333.31,444.70 C334.21,443.95 335.24,442.90 336.30,442.00 C337.37,441.10 338.57,440.50 339.71,439.30 C340.84,438.10 342.05,436.45 343.11,434.80 C344.18,433.15 345.09,431.05 346.11,429.40 C347.13,427.75 348.18,426.47 349.24,424.90 C350.31,423.32 351.42,422.05 352.51,419.95 C353.60,417.85 354.74,414.93 355.78,412.30 C356.82,409.68 357.73,406.90 358.78,404.20 C359.82,401.50 360.91,398.65 362.04,396.10 C363.18,393.55 364.25,391.07 365.59,388.90 C366.93,386.72 368.72,384.40 370.08,383.05 C371.44,381.70 372.24,381.40 373.76,380.80 C375.28,380.20 377.62,379.75 379.21,379.45 C380.80,379.15 382.16,378.93 383.29,379.00 C384.43,379.07 385.11,379.90 386.02,379.90 C386.92,379.90 388.29,379.15 388.74,379.00" fill="none" stroke="#b2402e" stroke-width="1.15" stroke-linejoin="round" />
<path d="M293.40,389.35 C293.85,388.98 295.22,386.58 296.12,387.10 C297.03,387.62 297.94,391.00 298.85,392.50 C299.76,394.00 300.62,393.85 301.57,396.10 C302.53,398.35 303.77,405.10 304.57,406.00 C305.36,406.90 305.66,402.85 306.34,401.50 C307.02,400.15 307.86,397.45 308.65,397.90 C309.45,398.35 310.31,401.95 311.11,404.20 C311.90,406.45 312.51,408.25 313.42,411.40 C314.33,414.55 315.58,419.35 316.55,423.10 C317.53,426.85 318.32,430.45 319.28,433.90 C320.23,437.35 321.25,440.80 322.27,443.80 C323.30,446.80 324.48,449.65 325.41,451.90 C326.34,454.15 327.06,457.00 327.86,457.30 C328.65,457.60 329.45,454.00 330.17,453.70 C330.90,453.40 331.54,454.98 332.22,455.50 C332.90,456.02 333.47,457.15 334.26,456.85 C335.05,456.55 336.08,454.82 336.98,453.70 C337.89,452.57 338.69,451.60 339.71,450.10 C340.73,448.60 342.05,446.50 343.11,444.70 C344.18,442.90 345.09,441.40 346.11,439.30 C347.13,437.20 348.18,434.50 349.24,432.10 C350.31,429.70 351.42,427.60 352.51,424.90 C353.60,422.20 354.74,418.90 355.78,415.90 C356.82,412.90 357.60,409.90 358.78,406.90 C359.96,403.90 361.50,400.52 362.86,397.90 C364.22,395.27 365.59,393.10 366.95,391.15 C368.31,389.20 369.67,387.62 371.03,386.20 C372.40,384.77 373.76,383.35 375.12,382.60 C376.48,381.85 377.84,382.00 379.21,381.70 C380.57,381.40 381.70,381.25 383.29,380.80 C384.88,380.35 387.83,379.30 388.74,379.00" fill="none" stroke="#2a2a2a" stroke-width="1.15" stroke-linejoin="round" stroke-dasharray="3,1.8"/>
<line x1="308.80" y1="346.50" x2="318.80" y2="346.50" stroke="#f5a123" stroke-width="1.2" />
<text x="322.60" y="349.10" font-size="7.3" fill="#3a3a3a" textLength="41.40" lengthAdjust="spacingAndGlyphs" >Tsa1 25.0 °C</text>
<line x1="308.80" y1="355.40" x2="318.80" y2="355.40" stroke="#e85a26" stroke-width="1.2" />
<text x="322.60" y="358.00" font-size="7.3" fill="#3a3a3a" textLength="41.40" lengthAdjust="spacingAndGlyphs" >Tsa1 39.5 °C</text>
<line x1="308.80" y1="364.70" x2="318.80" y2="364.70" stroke="#b2402e" stroke-width="1.3" />
<text x="322.60" y="367.30" font-size="7.3" fill="#3a3a3a" textLength="41.40" lengthAdjust="spacingAndGlyphs" >Tsa1 71.2 °C</text>
<line x1="308.80" y1="373.70" x2="318.80" y2="373.70" stroke="#2a2a2a" stroke-width="1.2" stroke-dasharray="3,1.8"/>
<text x="322.60" y="376.30" font-size="7.3" fill="#3a3a3a" textLength="41.40" lengthAdjust="spacingAndGlyphs" >Tsa1 95.0 °C</text>
<text x="251.60" y="430.20" font-size="8.4" fill="#3a3a3a" text-anchor="middle" textLength="80.80" lengthAdjust="spacingAndGlyphs" transform="rotate(-90 251.6 430.2)">Molar elipticity × 10<tspan font-size="5.6" dy="-3">5</tspan></text>
<text x="261.70" y="430.60" font-size="8.4" fill="#3a3a3a" text-anchor="middle" textLength="56.20" lengthAdjust="spacingAndGlyphs" transform="rotate(-90 261.7 430.6)">(° cm<tspan font-size="5.6" dy="-3">2</tspan><tspan dy="3"> dmol</tspan><tspan font-size="5.6" dy="-3">−1</tspan><tspan dy="3">)</tspan></text>
<line x1="437.30" y1="375.20" x2="437.30" y2="486.80" stroke="#7d7d7d" stroke-width="0.7" />
<line x1="433.40" y1="379.00" x2="437.30" y2="379.00" stroke="#7d7d7d" stroke-width="0.7" />
<text x="429.30" y="381.70" font-size="6.8" fill="#3a3a3a" text-anchor="end" textLength="3.89" lengthAdjust="spacingAndGlyphs" >0</text>
<line x1="435.00" y1="401.50" x2="437.30" y2="401.50" stroke="#7d7d7d" stroke-width="0.7" />
<line x1="433.40" y1="424.00" x2="437.30" y2="424.00" stroke="#7d7d7d" stroke-width="0.7" />
<text x="429.30" y="426.70" font-size="6.8" fill="#3a3a3a" text-anchor="end" textLength="13.83" lengthAdjust="spacingAndGlyphs" >−5.0</text>
<line x1="435.00" y1="446.50" x2="437.30" y2="446.50" stroke="#7d7d7d" stroke-width="0.7" />
<line x1="433.40" y1="469.00" x2="437.30" y2="469.00" stroke="#7d7d7d" stroke-width="0.7" />
<text x="429.30" y="471.70" font-size="6.8" fill="#3a3a3a" text-anchor="end" textLength="17.72" lengthAdjust="spacingAndGlyphs" >−10.0</text>
<line x1="437.30" y1="486.80" x2="532.64" y2="486.80" stroke="#7d7d7d" stroke-width="0.7" />
<line x1="437.30" y1="486.80" x2="437.30" y2="488.80" stroke="#7d7d7d" stroke-width="0.7" />
<line x1="444.11" y1="486.80" x2="444.11" y2="488.80" stroke="#7d7d7d" stroke-width="0.7" />
<line x1="450.92" y1="486.80" x2="450.92" y2="490.60" stroke="#7d7d7d" stroke-width="0.7" />
<line x1="457.73" y1="486.80" x2="457.73" y2="488.80" stroke="#7d7d7d" stroke-width="0.7" />
<line x1="464.54" y1="486.80" x2="464.54" y2="488.80" stroke="#7d7d7d" stroke-width="0.7" />
<line x1="471.35" y1="486.80" x2="471.35" y2="488.80" stroke="#7d7d7d" stroke-width="0.7" />
<line x1="478.16" y1="486.80" x2="478.16" y2="490.60" stroke="#7d7d7d" stroke-width="0.7" />
<line x1="484.97" y1="486.80" x2="484.97" y2="488.80" stroke="#7d7d7d" stroke-width="0.7" />
<line x1="491.78" y1="486.80" x2="491.78" y2="488.80" stroke="#7d7d7d" stroke-width="0.7" />
<line x1="498.59" y1="486.80" x2="498.59" y2="488.80" stroke="#7d7d7d" stroke-width="0.7" />
<line x1="505.40" y1="486.80" x2="505.40" y2="490.60" stroke="#7d7d7d" stroke-width="0.7" />
<line x1="512.21" y1="486.80" x2="512.21" y2="488.80" stroke="#7d7d7d" stroke-width="0.7" />
<line x1="519.02" y1="486.80" x2="519.02" y2="488.80" stroke="#7d7d7d" stroke-width="0.7" />
<line x1="525.83" y1="486.80" x2="525.83" y2="488.80" stroke="#7d7d7d" stroke-width="0.7" />
<line x1="532.64" y1="486.80" x2="532.64" y2="490.60" stroke="#7d7d7d" stroke-width="0.7" />
<text x="451.72" y="500.70" font-size="7.5" fill="#3a3a3a" text-anchor="middle" textLength="13.40" lengthAdjust="spacingAndGlyphs" >200</text>
<text x="478.96" y="500.70" font-size="7.5" fill="#3a3a3a" text-anchor="middle" textLength="13.40" lengthAdjust="spacingAndGlyphs" >220</text>
<text x="506.20" y="500.70" font-size="7.5" fill="#3a3a3a" text-anchor="middle" textLength="13.40" lengthAdjust="spacingAndGlyphs" >240</text>
<text x="533.44" y="500.70" font-size="7.5" fill="#3a3a3a" text-anchor="middle" textLength="13.40" lengthAdjust="spacingAndGlyphs" >260</text>
<text x="484.37" y="512.20" font-size="8.4" fill="#3a3a3a" text-anchor="middle" textLength="67.60" lengthAdjust="spacingAndGlyphs" >Wavelength (nm)</text>
<path d="M437.30,386.65 C437.71,387.62 438.96,390.48 439.75,392.50 C440.55,394.52 441.14,396.40 442.07,398.80 C443.00,401.20 444.43,406.30 445.34,406.90 C446.24,407.50 446.81,404.05 447.51,402.40 C448.22,400.75 448.76,398.50 449.56,397.00 C450.35,395.50 451.31,394.67 452.28,393.40 C453.26,392.12 454.48,389.80 455.41,389.35 C456.35,388.90 457.05,388.07 457.87,390.70 C458.68,393.32 459.50,399.93 460.32,405.10 C461.14,410.28 461.95,416.80 462.77,421.75 C463.59,426.70 464.24,431.43 465.22,434.80 C466.20,438.18 467.51,439.45 468.63,442.00 C469.74,444.55 470.67,447.40 471.89,450.10 C473.12,452.80 474.89,455.95 475.98,458.20 C477.07,460.45 477.59,461.65 478.43,463.60 C479.27,465.55 479.91,467.50 481.02,469.90 C482.13,472.30 483.88,476.05 485.11,478.00 C486.33,479.95 487.42,482.20 488.38,481.60 C489.33,481.00 489.85,478.00 490.83,474.40 C491.80,470.80 492.98,466.60 494.23,460.00 C495.48,453.40 496.93,442.30 498.32,434.80 C499.70,427.30 501.16,420.77 502.54,415.00 C503.92,409.23 505.13,404.27 506.63,400.15 C508.12,396.02 509.89,393.28 511.53,390.25 C513.16,387.22 514.50,383.85 516.43,381.97 C518.36,380.10 521.31,379.50 523.11,379.00 C524.90,378.50 525.60,379.07 527.19,379.00 C528.78,378.93 531.73,378.62 532.64,378.55" fill="none" stroke="#4f3fb3" stroke-width="1.15" stroke-linejoin="round" />
<path d="M437.30,386.65 C437.75,387.92 438.98,391.68 440.02,394.30 C441.07,396.93 442.54,401.20 443.57,402.40 C444.59,403.60 445.15,402.55 446.15,401.50 C447.15,400.45 448.42,397.60 449.56,396.10 C450.69,394.60 451.85,393.25 452.96,392.50 C454.08,391.75 455.37,391.45 456.23,391.60 C457.09,391.75 457.46,391.15 458.14,393.40 C458.82,395.65 459.55,400.60 460.32,405.10 C461.09,409.60 461.95,415.75 462.77,420.40 C463.59,425.05 464.24,429.40 465.22,433.00 C466.20,436.60 467.51,439.15 468.63,442.00 C469.74,444.85 470.67,447.55 471.89,450.10 C473.12,452.65 474.82,455.20 475.98,457.30 C477.14,459.40 477.91,460.75 478.84,462.70 C479.77,464.65 480.59,467.05 481.56,469.00 C482.54,470.95 483.70,473.20 484.70,474.40 C485.70,475.60 486.70,476.50 487.56,476.20 C488.42,475.90 489.06,474.85 489.87,472.60 C490.69,470.35 491.58,466.60 492.46,462.70 C493.35,458.80 494.21,454.15 495.19,449.20 C496.16,444.25 497.09,438.85 498.32,433.00 C499.54,427.15 501.16,419.65 502.54,414.10 C503.92,408.55 505.13,403.75 506.63,399.70 C508.12,395.65 509.89,392.73 511.53,389.80 C513.16,386.88 514.50,383.88 516.43,382.15 C518.36,380.42 521.31,379.90 523.11,379.45 C524.90,379.00 525.60,379.67 527.19,379.45 C528.78,379.23 531.73,378.33 532.64,378.10" fill="none" stroke="#4a6fcc" stroke-width="1.15" stroke-linejoin="round" />
<path d="M437.30,386.65 C438.14,388.67 440.71,396.55 442.34,398.80 C443.97,401.05 445.79,399.70 447.11,400.15 C448.42,400.60 449.15,399.02 450.24,401.50 C451.33,403.98 452.53,412.75 453.64,415.00 C454.76,417.25 455.94,413.88 456.91,415.00 C457.89,416.12 458.52,418.75 459.50,421.75 C460.48,424.75 461.68,429.18 462.77,433.00 C463.86,436.82 465.06,440.80 466.04,444.70 C467.01,448.60 467.51,454.60 468.63,456.40 C469.74,458.20 471.49,455.80 472.71,455.50 C473.94,455.20 474.89,455.80 475.98,454.60 C477.07,453.40 478.14,449.65 479.25,448.30 C480.36,446.95 481.54,447.10 482.65,446.50 C483.77,445.90 484.70,446.05 485.92,444.70 C487.15,443.35 488.62,440.88 490.01,438.40 C491.39,435.92 492.85,432.85 494.23,429.85 C495.62,426.85 496.93,424.07 498.32,420.40 C499.70,416.72 501.02,411.85 502.54,407.80 C504.06,403.75 505.79,399.25 507.44,396.10 C509.10,392.95 510.83,391.00 512.48,388.90 C514.14,386.80 515.62,384.85 517.39,383.50 C519.16,382.15 521.47,381.32 523.11,380.80 C524.74,380.28 525.60,380.50 527.19,380.35 C528.78,380.20 531.73,379.97 532.64,379.90" fill="none" stroke="#a9cdf0" stroke-width="1.15" stroke-linejoin="round" />
<path d="M437.30,386.65 C437.87,387.77 439.66,391.38 440.70,393.40 C441.75,395.42 442.50,398.50 443.57,398.80 C444.63,399.10 446.11,396.10 447.11,395.20 C448.11,394.30 448.47,392.80 449.56,393.40 C450.65,394.00 452.42,396.85 453.64,398.80 C454.87,400.75 455.80,403.00 456.91,405.10 C458.03,407.20 459.34,408.10 460.32,411.40 C461.29,414.70 461.82,419.35 462.77,424.90 C463.72,430.45 464.79,439.15 466.04,444.70 C467.29,450.25 468.88,454.60 470.26,458.20 C471.65,461.80 473.12,464.35 474.35,466.30 C475.57,468.25 476.66,469.45 477.62,469.90 C478.57,470.35 478.95,470.35 480.07,469.00 C481.18,467.65 482.77,464.65 484.29,461.80 C485.81,458.95 487.54,455.80 489.19,451.90 C490.85,448.00 492.57,442.90 494.23,438.40 C495.89,433.90 497.48,429.40 499.13,424.90 C500.79,420.40 502.52,415.52 504.17,411.40 C505.83,407.27 507.42,403.67 509.08,400.15 C510.73,396.62 512.46,392.88 514.12,390.25 C515.77,387.62 517.09,385.75 519.02,384.40 C520.95,383.05 523.88,382.52 525.69,382.15 C527.51,381.77 528.76,382.60 529.92,382.15 C531.07,381.70 532.19,379.90 532.64,379.45" fill="none" stroke="#2a2a2a" stroke-width="1.15" stroke-linejoin="round" stroke-dasharray="3,1.8"/>
<line x1="453.80" y1="346.50" x2="464.00" y2="346.50" stroke="#4f3fb3" stroke-width="1.2" />
<text x="468.00" y="349.10" font-size="7.3" fill="#3a3a3a" textLength="42.60" lengthAdjust="spacingAndGlyphs" >Tsa2 25.0 °C</text>
<line x1="453.80" y1="355.40" x2="464.00" y2="355.40" stroke="#4a6fcc" stroke-width="1.2" />
<text x="468.00" y="358.00" font-size="7.3" fill="#3a3a3a" textLength="42.60" lengthAdjust="spacingAndGlyphs" >Tsa2 39.5 °C</text>
<line x1="453.80" y1="364.70" x2="464.00" y2="364.70" stroke="#a9cdf0" stroke-width="1.2" />
<text x="468.00" y="367.30" font-size="7.3" fill="#3a3a3a" textLength="42.60" lengthAdjust="spacingAndGlyphs" >Tsa2 78.5 °C</text>
<line x1="453.80" y1="373.70" x2="464.00" y2="373.70" stroke="#2a2a2a" stroke-width="1.2" stroke-dasharray="3,1.8"/>
<text x="468.00" y="376.30" font-size="7.3" fill="#3a3a3a" textLength="42.60" lengthAdjust="spacingAndGlyphs" >Tsa2 95.0 °C</text>
<line x1="582.20" y1="375.20" x2="582.20" y2="486.80" stroke="#7d7d7d" stroke-width="0.7" />
<line x1="578.30" y1="379.00" x2="582.20" y2="379.00" stroke="#7d7d7d" stroke-width="0.7" />
<text x="574.20" y="381.70" font-size="6.8" fill="#3a3a3a" text-anchor="end" textLength="3.89" lengthAdjust="spacingAndGlyphs" >0</text>
<line x1="579.90" y1="401.50" x2="582.20" y2="401.50" stroke="#7d7d7d" stroke-width="0.7" />
<line x1="578.30" y1="424.00" x2="582.20" y2="424.00" stroke="#7d7d7d" stroke-width="0.7" />
<text x="574.20" y="426.70" font-size="6.8" fill="#3a3a3a" text-anchor="end" textLength="13.83" lengthAdjust="spacingAndGlyphs" >−5.0</text>
<line x1="579.90" y1="446.50" x2="582.20" y2="446.50" stroke="#7d7d7d" stroke-width="0.7" />
<line x1="578.30" y1="469.00" x2="582.20" y2="469.00" stroke="#7d7d7d" stroke-width="0.7" />
<text x="574.20" y="471.70" font-size="6.8" fill="#3a3a3a" text-anchor="end" textLength="17.72" lengthAdjust="spacingAndGlyphs" >−10.0</text>
<line x1="582.20" y1="486.80" x2="677.54" y2="486.80" stroke="#7d7d7d" stroke-width="0.7" />
<line x1="582.20" y1="486.80" x2="582.20" y2="488.80" stroke="#7d7d7d" stroke-width="0.7" />
<line x1="589.01" y1="486.80" x2="589.01" y2="488.80" stroke="#7d7d7d" stroke-width="0.7" />
<line x1="595.82" y1="486.80" x2="595.82" y2="490.60" stroke="#7d7d7d" stroke-width="0.7" />
<line x1="602.63" y1="486.80" x2="602.63" y2="488.80" stroke="#7d7d7d" stroke-width="0.7" />
<line x1="609.44" y1="486.80" x2="609.44" y2="488.80" stroke="#7d7d7d" stroke-width="0.7" />
<line x1="616.25" y1="486.80" x2="616.25" y2="488.80" stroke="#7d7d7d" stroke-width="0.7" />
<line x1="623.06" y1="486.80" x2="623.06" y2="490.60" stroke="#7d7d7d" stroke-width="0.7" />
<line x1="629.87" y1="486.80" x2="629.87" y2="488.80" stroke="#7d7d7d" stroke-width="0.7" />
<line x1="636.68" y1="486.80" x2="636.68" y2="488.80" stroke="#7d7d7d" stroke-width="0.7" />
<line x1="643.49" y1="486.80" x2="643.49" y2="488.80" stroke="#7d7d7d" stroke-width="0.7" />
<line x1="650.30" y1="486.80" x2="650.30" y2="490.60" stroke="#7d7d7d" stroke-width="0.7" />
<line x1="657.11" y1="486.80" x2="657.11" y2="488.80" stroke="#7d7d7d" stroke-width="0.7" />
<line x1="663.92" y1="486.80" x2="663.92" y2="488.80" stroke="#7d7d7d" stroke-width="0.7" />
<line x1="670.73" y1="486.80" x2="670.73" y2="488.80" stroke="#7d7d7d" stroke-width="0.7" />
<line x1="677.54" y1="486.80" x2="677.54" y2="490.60" stroke="#7d7d7d" stroke-width="0.7" />
<text x="596.62" y="500.70" font-size="7.5" fill="#3a3a3a" text-anchor="middle" textLength="13.40" lengthAdjust="spacingAndGlyphs" >200</text>
<text x="623.86" y="500.70" font-size="7.5" fill="#3a3a3a" text-anchor="middle" textLength="13.40" lengthAdjust="spacingAndGlyphs" >220</text>
<text x="651.10" y="500.70" font-size="7.5" fill="#3a3a3a" text-anchor="middle" textLength="13.40" lengthAdjust="spacingAndGlyphs" >240</text>
<text x="678.34" y="500.70" font-size="7.5" fill="#3a3a3a" text-anchor="middle" textLength="13.40" lengthAdjust="spacingAndGlyphs" >260</text>
<text x="629.27" y="512.20" font-size="8.4" fill="#3a3a3a" text-anchor="middle" textLength="67.60" lengthAdjust="spacingAndGlyphs" >Wavelength (nm)</text>
<path d="M582.20,381.70 C582.61,382.75 583.86,385.90 584.65,388.00 C585.45,390.10 586.13,393.40 586.97,394.30 C587.81,395.20 588.69,394.15 589.69,393.40 C590.69,392.65 592.05,389.20 592.96,389.80 C593.87,390.40 594.39,394.30 595.14,397.00 C595.89,399.70 596.71,404.95 597.45,406.00 C598.20,407.05 598.95,404.35 599.63,403.30 C600.31,402.25 600.79,398.50 601.54,399.70 C602.29,400.90 603.33,406.00 604.13,410.50 C604.92,415.00 605.58,421.45 606.31,426.70 C607.03,431.95 607.74,437.95 608.49,442.00 C609.24,446.05 609.92,449.20 610.80,451.00 C611.69,452.80 612.69,451.60 613.80,452.80 C614.91,454.00 616.00,456.55 617.48,458.20 C618.95,459.85 621.15,461.50 622.65,462.70 C624.15,463.90 625.33,464.65 626.47,465.40 C627.60,466.15 628.35,467.35 629.46,467.20 C630.57,467.05 632.16,466.15 633.14,464.50 C634.11,462.85 634.57,460.30 635.32,457.30 C636.07,454.30 636.52,452.05 637.63,446.50 C638.75,440.95 640.77,429.40 641.99,424.00 C643.22,418.60 643.74,418.30 644.99,414.10 C646.24,409.90 648.01,402.85 649.48,398.80 C650.96,394.75 652.34,392.50 653.84,389.80 C655.34,387.10 657.02,384.10 658.47,382.60 C659.92,381.10 661.08,381.25 662.56,380.80 C664.03,380.35 665.74,380.20 667.33,379.90 C668.91,379.60 670.39,379.30 672.09,379.00 C673.79,378.70 676.63,378.25 677.54,378.10" fill="none" stroke="#2fb64a" stroke-width="1.15" stroke-linejoin="round" />
<path d="M582.20,383.50 C582.65,385.00 584.02,390.25 584.92,392.50 C585.83,394.75 586.74,396.40 587.65,397.00 C588.56,397.60 589.46,396.70 590.37,396.10 C591.28,395.50 592.23,394.60 593.10,393.40 C593.96,392.20 594.87,389.95 595.55,388.90 C596.23,387.85 596.64,386.65 597.18,387.10 C597.73,387.55 598.27,389.95 598.82,391.60 C599.36,393.25 599.91,395.20 600.45,397.00 C601.00,398.80 601.47,400.00 602.09,402.40 C602.70,404.80 603.42,407.35 604.13,411.40 C604.83,415.45 605.58,421.60 606.31,426.70 C607.03,431.80 607.74,437.95 608.49,442.00 C609.24,446.05 609.92,449.05 610.80,451.00 C611.69,452.95 612.69,452.50 613.80,453.70 C614.91,454.90 616.00,456.70 617.48,458.20 C618.95,459.70 621.15,461.65 622.65,462.70 C624.15,463.75 625.33,463.90 626.47,464.50 C627.60,465.10 628.35,466.45 629.46,466.30 C630.57,466.15 632.16,465.25 633.14,463.60 C634.11,461.95 634.57,459.40 635.32,456.40 C636.07,453.40 636.52,451.15 637.63,445.60 C638.75,440.05 640.77,428.50 641.99,423.10 C643.22,417.70 643.74,417.40 644.99,413.20 C646.24,409.00 648.01,401.95 649.48,397.90 C650.96,393.85 652.34,391.52 653.84,388.90 C655.34,386.27 657.02,383.57 658.47,382.15 C659.92,380.72 661.08,380.80 662.56,380.35 C664.03,379.90 665.74,379.68 667.33,379.45 C668.91,379.22 670.39,379.23 672.09,379.00 C673.79,378.77 676.63,378.25 677.54,378.10" fill="none" stroke="#5fd65c" stroke-width="1.15" stroke-linejoin="round" stroke-dasharray="1,1.2"/>
<path d="M582.20,389.80 C582.61,390.55 583.86,392.80 584.65,394.30 C585.45,395.80 586.06,397.60 586.97,398.80 C587.88,400.00 589.10,400.60 590.10,401.50 C591.10,402.40 592.12,404.20 592.96,404.20 C593.80,404.20 594.44,401.35 595.14,401.50 C595.84,401.65 596.43,403.45 597.18,405.10 C597.93,406.75 598.86,409.00 599.63,411.40 C600.41,413.80 601.09,416.80 601.81,419.50 C602.54,422.20 603.24,424.60 603.99,427.60 C604.74,430.60 605.56,434.50 606.31,437.50 C607.06,440.50 607.74,443.05 608.49,445.60 C609.24,448.15 609.80,450.85 610.80,452.80 C611.80,454.75 613.25,456.40 614.48,457.30 C615.71,458.20 617.18,458.65 618.16,458.20 C619.13,457.75 619.59,455.80 620.34,454.60 C621.09,453.40 621.86,452.20 622.65,451.00 C623.45,449.80 624.35,448.60 625.10,447.40 C625.85,446.20 626.31,445.00 627.15,443.80 C627.99,442.60 628.89,441.70 630.14,440.20 C631.39,438.70 633.55,436.60 634.64,434.80 C635.73,433.00 635.95,431.50 636.68,429.40 C637.41,427.30 637.86,424.75 639.00,422.20 C640.13,419.65 641.99,418.00 643.49,414.10 C644.99,410.20 646.49,402.85 647.98,398.80 C649.48,394.75 650.73,392.65 652.48,389.80 C654.23,386.95 656.57,383.27 658.47,381.70 C660.38,380.12 662.10,380.80 663.92,380.35 C665.74,379.90 667.10,379.38 669.37,379.00 C671.64,378.62 676.18,378.25 677.54,378.10" fill="none" stroke="#2e8a2a" stroke-width="1.15" stroke-linejoin="round" />
<path d="M582.20,389.80 C582.54,390.85 583.56,394.30 584.24,396.10 C584.92,397.90 585.49,400.45 586.29,400.60 C587.08,400.75 588.15,398.05 589.01,397.00 C589.87,395.95 590.78,394.15 591.46,394.30 C592.14,394.45 592.60,396.70 593.10,397.90 C593.60,399.10 593.73,399.85 594.46,401.50 C595.18,403.15 596.46,405.55 597.45,407.80 C598.45,410.05 599.59,412.60 600.45,415.00 C601.31,417.40 601.88,419.50 602.63,422.20 C603.38,424.90 604.17,428.05 604.95,431.20 C605.72,434.35 606.51,437.80 607.26,441.10 C608.01,444.40 608.71,448.45 609.44,451.00 C610.17,453.55 610.89,454.75 611.62,456.40 C612.35,458.05 613.03,459.70 613.80,460.90 C614.57,462.10 615.39,462.85 616.25,463.60 C617.11,464.35 618.13,465.10 618.97,465.40 C619.81,465.70 620.54,466.15 621.29,465.40 C622.04,464.65 622.74,462.25 623.47,460.90 C624.20,459.55 624.92,458.20 625.65,457.30 C626.37,456.40 627.08,455.95 627.83,455.50 C628.58,455.05 629.39,455.50 630.14,454.60 C630.89,453.70 631.57,451.75 632.32,450.10 C633.07,448.45 633.91,446.65 634.64,444.70 C635.36,442.75 635.95,440.65 636.68,438.40 C637.41,436.15 637.86,434.80 639.00,431.20 C640.13,427.60 641.74,421.45 643.49,416.80 C645.24,412.15 647.49,407.50 649.48,403.30 C651.48,399.10 653.75,394.60 655.48,391.60 C657.20,388.60 658.43,386.80 659.83,385.30 C661.24,383.80 662.56,383.35 663.92,382.60 C665.28,381.85 666.64,381.25 668.01,380.80 C669.37,380.35 670.50,380.35 672.09,379.90 C673.68,379.45 676.63,378.40 677.54,378.10" fill="none" stroke="#2a2a2a" stroke-width="1.15" stroke-linejoin="round" stroke-dasharray="3,1.8"/>
<line x1="588.10" y1="346.50" x2="598.00" y2="346.50" stroke="#2fb64a" stroke-width="1.2" />
<text x="603.20" y="349.10" font-size="7.3" fill="#3a3a3a" textLength="60.60" lengthAdjust="spacingAndGlyphs" >Tsa1–Tsa2 25.0 °C</text>
<line x1="588.10" y1="355.40" x2="598.00" y2="355.40" stroke="#5fd65c" stroke-width="1.2" stroke-dasharray="1,1.2"/>
<text x="603.20" y="358.00" font-size="7.3" fill="#3a3a3a" textLength="60.60" lengthAdjust="spacingAndGlyphs" >Tsa1–Tsa2 39.5 °C</text>
<line x1="588.10" y1="364.70" x2="598.00" y2="364.70" stroke="#2e8a2a" stroke-width="1.4" />
<text x="603.20" y="367.30" font-size="7.3" fill="#3a3a3a" textLength="60.60" lengthAdjust="spacingAndGlyphs" >Tsa1–Tsa2 70.7 °C</text>
<line x1="588.10" y1="373.70" x2="598.00" y2="373.70" stroke="#2a2a2a" stroke-width="1.2" stroke-dasharray="3,1.8"/>
<text x="603.20" y="376.30" font-size="7.3" fill="#3a3a3a" textLength="60.60" lengthAdjust="spacingAndGlyphs" >Tsa1–Tsa2 95.0 °C</text>
<text x="4.80" y="532.60" font-size="13" fill="#111" textLength="7.30" lengthAdjust="spacingAndGlyphs" font-weight="bold" >e</text>
<line x1="33.20" y1="573.05" x2="33.20" y2="685.30" stroke="#7d7d7d" stroke-width="0.7" />
<line x1="30.00" y1="685.30" x2="33.20" y2="685.30" stroke="#7d7d7d" stroke-width="0.7" />
<text x="26.00" y="687.80" font-size="6.7" fill="#3a3a3a" text-anchor="end" textLength="3.87" lengthAdjust="spacingAndGlyphs" >0</text>
<line x1="30.00" y1="657.24" x2="33.20" y2="657.24" stroke="#7d7d7d" stroke-width="0.7" />
<text x="26.00" y="659.74" font-size="6.7" fill="#3a3a3a" text-anchor="end" textLength="7.75" lengthAdjust="spacingAndGlyphs" >25</text>
<line x1="30.00" y1="629.17" x2="33.20" y2="629.17" stroke="#7d7d7d" stroke-width="0.7" />
<text x="26.00" y="631.67" font-size="6.7" fill="#3a3a3a" text-anchor="end" textLength="7.75" lengthAdjust="spacingAndGlyphs" >50</text>
<line x1="30.00" y1="601.11" x2="33.20" y2="601.11" stroke="#7d7d7d" stroke-width="0.7" />
<text x="26.00" y="603.61" font-size="6.7" fill="#3a3a3a" text-anchor="end" textLength="7.75" lengthAdjust="spacingAndGlyphs" >75</text>
<line x1="30.00" y1="573.05" x2="33.20" y2="573.05" stroke="#7d7d7d" stroke-width="0.7" />
<text x="26.00" y="575.55" font-size="6.7" fill="#3a3a3a" text-anchor="end" textLength="11.62" lengthAdjust="spacingAndGlyphs" >100</text>
<line x1="33.20" y1="685.30" x2="202.20" y2="685.30" stroke="#7d7d7d" stroke-width="0.7" />
<rect x="43.60" y="548.0" width="5.6" height="5.6" fill="#d5391a"/>
<rect x="43.60" y="560.9" width="5.6" height="5.6" fill="#f08b14"/>
<text x="53.80" y="553.60" font-size="7.0" fill="#3a3a3a" textLength="15.90" lengthAdjust="spacingAndGlyphs" >LMW</text>
<text x="53.80" y="566.50" font-size="7.0" fill="#3a3a3a" textLength="30.20" lengthAdjust="spacingAndGlyphs" >Decamer</text>
<text x="117.50" y="537.00" font-size="8.4" fill="#f0913a" text-anchor="middle" >Strep-Tsa1</text>
<rect x="43.40" y="647.47" width="8.2" height="37.83" fill="#d5391a" stroke="#2d2d2d" stroke-width="0.75"/>
<line x1="47.50" y1="647.47" x2="47.50" y2="631.08" stroke="#9a9a9a" stroke-width="0.7" />
<line x1="45.90" y1="631.08" x2="49.10" y2="631.08" stroke="#9a9a9a" stroke-width="0.7" />
<circle cx="43.90" cy="628.05" r="2.55" fill="#d5391a" stroke="#2d2d2d" stroke-width="0.6"/>
<circle cx="47.50" cy="646.01" r="2.55" fill="#d5391a" stroke="#2d2d2d" stroke-width="0.6"/>
<circle cx="51.10" cy="668.46" r="2.55" fill="#d5391a" stroke="#2d2d2d" stroke-width="0.6"/>
<rect x="57.50" y="611.21" width="8.2" height="74.09" fill="#f08b14" stroke="#2d2d2d" stroke-width="0.75"/>
<line x1="61.60" y1="611.21" x2="61.60" y2="594.04" stroke="#9a9a9a" stroke-width="0.7" />
<line x1="60.00" y1="594.04" x2="63.20" y2="594.04" stroke="#9a9a9a" stroke-width="0.7" />
<circle cx="58.00" cy="612.34" r="2.55" fill="#f08b14" stroke="#2d2d2d" stroke-width="0.6"/>
<circle cx="61.60" cy="631.42" r="2.55" fill="#f08b14" stroke="#2d2d2d" stroke-width="0.6"/>
<circle cx="65.20" cy="589.89" r="2.55" fill="#f08b14" stroke="#2d2d2d" stroke-width="0.6"/>
<text x="54.10" y="696.10" font-size="7.0" fill="#3a3a3a" text-anchor="middle" textLength="8.10" lengthAdjust="spacingAndGlyphs" >20</text>
<rect x="85.65" y="631.98" width="8.2" height="53.32" fill="#d5391a" stroke="#2d2d2d" stroke-width="0.75"/>
<line x1="89.75" y1="631.98" x2="89.75" y2="617.95" stroke="#9a9a9a" stroke-width="0.7" />
<line x1="88.15" y1="617.95" x2="91.35" y2="617.95" stroke="#9a9a9a" stroke-width="0.7" />
<circle cx="86.15" cy="623.56" r="2.55" fill="#d5391a" stroke="#2d2d2d" stroke-width="0.6"/>
<circle cx="89.75" cy="652.75" r="2.55" fill="#d5391a" stroke="#2d2d2d" stroke-width="0.6"/>
<circle cx="93.35" cy="621.32" r="2.55" fill="#d5391a" stroke="#2d2d2d" stroke-width="0.6"/>
<rect x="99.75" y="627.15" width="8.2" height="58.15" fill="#f08b14" stroke="#2d2d2d" stroke-width="0.75"/>
<line x1="103.85" y1="627.15" x2="103.85" y2="614.02" stroke="#9a9a9a" stroke-width="0.7" />
<line x1="102.25" y1="614.02" x2="105.45" y2="614.02" stroke="#9a9a9a" stroke-width="0.7" />
<circle cx="100.25" cy="634.79" r="2.55" fill="#f08b14" stroke="#2d2d2d" stroke-width="0.6"/>
<circle cx="103.85" cy="608.97" r="2.55" fill="#f08b14" stroke="#2d2d2d" stroke-width="0.6"/>
<circle cx="107.45" cy="638.15" r="2.55" fill="#f08b14" stroke="#2d2d2d" stroke-width="0.6"/>
<text x="96.35" y="696.10" font-size="7.0" fill="#3a3a3a" text-anchor="middle" textLength="8.10" lengthAdjust="spacingAndGlyphs" >30</text>
<rect x="127.90" y="601.56" width="8.2" height="83.74" fill="#d5391a" stroke="#2d2d2d" stroke-width="0.75"/>
<line x1="132.00" y1="601.56" x2="132.00" y2="585.96" stroke="#9a9a9a" stroke-width="0.7" />
<line x1="130.40" y1="585.96" x2="133.60" y2="585.96" stroke="#9a9a9a" stroke-width="0.7" />
<circle cx="128.40" cy="585.96" r="2.55" fill="#d5391a" stroke="#2d2d2d" stroke-width="0.6"/>
<circle cx="135.60" cy="616.83" r="2.55" fill="#d5391a" stroke="#2d2d2d" stroke-width="0.6"/>
<rect x="142.00" y="657.91" width="8.2" height="27.39" fill="#f08b14" stroke="#2d2d2d" stroke-width="0.75"/>
<line x1="146.10" y1="657.91" x2="146.10" y2="642.64" stroke="#9a9a9a" stroke-width="0.7" />
<line x1="144.50" y1="642.64" x2="147.70" y2="642.64" stroke="#9a9a9a" stroke-width="0.7" />
<circle cx="142.50" cy="673.18" r="2.55" fill="#f08b14" stroke="#2d2d2d" stroke-width="0.6"/>
<circle cx="149.70" cy="642.64" r="2.55" fill="#f08b14" stroke="#2d2d2d" stroke-width="0.6"/>
<text x="138.60" y="696.10" font-size="7.0" fill="#3a3a3a" text-anchor="middle" textLength="8.10" lengthAdjust="spacingAndGlyphs" >40</text>
<rect x="170.15" y="581.47" width="8.2" height="103.83" fill="#d5391a" stroke="#2d2d2d" stroke-width="0.75"/>
<circle cx="170.65" cy="581.69" r="2.55" fill="#d5391a" stroke="#2d2d2d" stroke-width="0.6"/>
<circle cx="174.25" cy="579.00" r="2.55" fill="#d5391a" stroke="#2d2d2d" stroke-width="0.6"/>
<circle cx="177.85" cy="581.69" r="2.55" fill="#d5391a" stroke="#2d2d2d" stroke-width="0.6"/>
<rect x="184.25" y="677.67" width="8.2" height="7.63" fill="#f08b14" stroke="#2d2d2d" stroke-width="0.75"/>
<circle cx="184.75" cy="676.10" r="2.55" fill="#f08b14" stroke="#2d2d2d" stroke-width="0.6"/>
<circle cx="188.35" cy="679.46" r="2.55" fill="#f08b14" stroke="#2d2d2d" stroke-width="0.6"/>
<circle cx="191.95" cy="676.10" r="2.55" fill="#f08b14" stroke="#2d2d2d" stroke-width="0.6"/>
<text x="180.85" y="696.10" font-size="7.0" fill="#3a3a3a" text-anchor="middle" textLength="8.10" lengthAdjust="spacingAndGlyphs" >45</text>
<text x="122.60" y="708.80" font-size="8.4" fill="#3a3a3a" text-anchor="middle" ><tspan font-style="italic">T</tspan> (°C)</text>
<line x1="269.70" y1="573.05" x2="269.70" y2="685.30" stroke="#7d7d7d" stroke-width="0.7" />
<line x1="266.50" y1="685.30" x2="269.70" y2="685.30" stroke="#7d7d7d" stroke-width="0.7" />
<text x="262.50" y="687.80" font-size="6.7" fill="#3a3a3a" text-anchor="end" textLength="3.87" lengthAdjust="spacingAndGlyphs" >0</text>
<line x1="266.50" y1="657.24" x2="269.70" y2="657.24" stroke="#7d7d7d" stroke-width="0.7" />
<text x="262.50" y="659.74" font-size="6.7" fill="#3a3a3a" text-anchor="end" textLength="7.75" lengthAdjust="spacingAndGlyphs" >25</text>
<line x1="266.50" y1="629.17" x2="269.70" y2="629.17" stroke="#7d7d7d" stroke-width="0.7" />
<text x="262.50" y="631.67" font-size="6.7" fill="#3a3a3a" text-anchor="end" textLength="7.75" lengthAdjust="spacingAndGlyphs" >50</text>
<line x1="266.50" y1="601.11" x2="269.70" y2="601.11" stroke="#7d7d7d" stroke-width="0.7" />
<text x="262.50" y="603.61" font-size="6.7" fill="#3a3a3a" text-anchor="end" textLength="7.75" lengthAdjust="spacingAndGlyphs" >75</text>
<line x1="266.50" y1="573.05" x2="269.70" y2="573.05" stroke="#7d7d7d" stroke-width="0.7" />
<text x="262.50" y="575.55" font-size="6.7" fill="#3a3a3a" text-anchor="end" textLength="11.62" lengthAdjust="spacingAndGlyphs" >100</text>
<line x1="269.70" y1="685.30" x2="438.70" y2="685.30" stroke="#7d7d7d" stroke-width="0.7" />
<rect x="280.10" y="548.0" width="5.6" height="5.6" fill="#4b249f"/>
<rect x="280.10" y="560.9" width="5.6" height="5.6" fill="#4257ae"/>
<text x="290.30" y="553.60" font-size="7.0" fill="#3a3a3a" textLength="15.90" lengthAdjust="spacingAndGlyphs" >LMW</text>
<text x="290.30" y="566.50" font-size="7.0" fill="#3a3a3a" textLength="30.20" lengthAdjust="spacingAndGlyphs" >Decamer</text>
<text x="355.00" y="537.00" font-size="8.4" fill="#5a4fc0" text-anchor="middle" >His<tspan font-size="5.6" dy="1.8">6</tspan><tspan dy="-1.8">-Tsa2-EPEA</tspan></text>
<rect x="280.70" y="684.07" width="8.2" height="1.23" fill="#4b249f" stroke="#2d2d2d" stroke-width="0.75"/>
<circle cx="281.20" cy="681.60" r="2.55" fill="#4b249f" stroke="#2d2d2d" stroke-width="0.6"/>
<circle cx="284.80" cy="685.30" r="2.55" fill="#4b249f" stroke="#2d2d2d" stroke-width="0.6"/>
<circle cx="288.40" cy="685.30" r="2.55" fill="#4b249f" stroke="#2d2d2d" stroke-width="0.6"/>
<rect x="294.80" y="574.62" width="8.2" height="110.68" fill="#4257ae" stroke="#2d2d2d" stroke-width="0.75"/>
<circle cx="295.30" cy="574.96" r="2.55" fill="#4257ae" stroke="#2d2d2d" stroke-width="0.6"/>
<circle cx="298.90" cy="576.31" r="2.55" fill="#4257ae" stroke="#2d2d2d" stroke-width="0.6"/>
<circle cx="302.50" cy="572.26" r="2.55" fill="#4257ae" stroke="#2d2d2d" stroke-width="0.6"/>
<text x="292.80" y="696.10" font-size="7.0" fill="#3a3a3a" text-anchor="middle" textLength="8.10" lengthAdjust="spacingAndGlyphs" >20</text>
<rect x="322.95" y="683.84" width="8.2" height="1.46" fill="#4b249f" stroke="#2d2d2d" stroke-width="0.75"/>
<circle cx="323.45" cy="680.92" r="2.55" fill="#4b249f" stroke="#2d2d2d" stroke-width="0.6"/>
<circle cx="327.05" cy="685.30" r="2.55" fill="#4b249f" stroke="#2d2d2d" stroke-width="0.6"/>
<circle cx="330.65" cy="685.30" r="2.55" fill="#4b249f" stroke="#2d2d2d" stroke-width="0.6"/>
<rect x="337.05" y="580.57" width="8.2" height="104.73" fill="#4257ae" stroke="#2d2d2d" stroke-width="0.75"/>
<circle cx="337.55" cy="581.81" r="2.55" fill="#4257ae" stroke="#2d2d2d" stroke-width="0.6"/>
<circle cx="341.15" cy="578.33" r="2.55" fill="#4257ae" stroke="#2d2d2d" stroke-width="0.6"/>
<circle cx="344.75" cy="580.46" r="2.55" fill="#4257ae" stroke="#2d2d2d" stroke-width="0.6"/>
<text x="335.05" y="696.10" font-size="7.0" fill="#3a3a3a" text-anchor="middle" textLength="8.10" lengthAdjust="spacingAndGlyphs" >30</text>
<circle cx="365.70" cy="685.30" r="2.55" fill="#4b249f" stroke="#2d2d2d" stroke-width="0.6"/>
<circle cx="369.30" cy="685.30" r="2.55" fill="#4b249f" stroke="#2d2d2d" stroke-width="0.6"/>
<circle cx="372.90" cy="685.30" r="2.55" fill="#4b249f" stroke="#2d2d2d" stroke-width="0.6"/>
<rect x="379.30" y="575.74" width="8.2" height="109.56" fill="#4257ae" stroke="#2d2d2d" stroke-width="0.75"/>
<circle cx="379.80" cy="574.96" r="2.55" fill="#4257ae" stroke="#2d2d2d" stroke-width="0.6"/>
<circle cx="383.40" cy="576.31" r="2.55" fill="#4257ae" stroke="#2d2d2d" stroke-width="0.6"/>
<circle cx="387.00" cy="576.31" r="2.55" fill="#4257ae" stroke="#2d2d2d" stroke-width="0.6"/>
<text x="377.30" y="696.10" font-size="7.0" fill="#3a3a3a" text-anchor="middle" textLength="8.10" lengthAdjust="spacingAndGlyphs" >40</text>
<rect x="407.45" y="683.84" width="8.2" height="1.46" fill="#4b249f" stroke="#2d2d2d" stroke-width="0.75"/>
<circle cx="407.95" cy="680.92" r="2.55" fill="#4b249f" stroke="#2d2d2d" stroke-width="0.6"/>
<circle cx="411.55" cy="685.30" r="2.55" fill="#4b249f" stroke="#2d2d2d" stroke-width="0.6"/>
<circle cx="415.15" cy="685.30" r="2.55" fill="#4b249f" stroke="#2d2d2d" stroke-width="0.6"/>
<rect x="421.55" y="578.33" width="8.2" height="106.97" fill="#4257ae" stroke="#2d2d2d" stroke-width="0.75"/>
<circle cx="422.05" cy="579.11" r="2.55" fill="#4257ae" stroke="#2d2d2d" stroke-width="0.6"/>
<circle cx="425.65" cy="574.96" r="2.55" fill="#4257ae" stroke="#2d2d2d" stroke-width="0.6"/>
<circle cx="429.25" cy="578.33" r="2.55" fill="#4257ae" stroke="#2d2d2d" stroke-width="0.6"/>
<text x="419.55" y="696.10" font-size="7.0" fill="#3a3a3a" text-anchor="middle" textLength="8.10" lengthAdjust="spacingAndGlyphs" >45</text>
<text x="355.30" y="708.80" font-size="8.4" fill="#3a3a3a" text-anchor="middle" ><tspan font-style="italic">T</tspan> (°C)</text>
<line x1="506.00" y1="573.05" x2="506.00" y2="685.30" stroke="#7d7d7d" stroke-width="0.7" />
<line x1="502.80" y1="685.30" x2="506.00" y2="685.30" stroke="#7d7d7d" stroke-width="0.7" />
<text x="498.80" y="687.80" font-size="6.7" fill="#3a3a3a" text-anchor="end" textLength="3.87" lengthAdjust="spacingAndGlyphs" >0</text>
<line x1="502.80" y1="657.24" x2="506.00" y2="657.24" stroke="#7d7d7d" stroke-width="0.7" />
<text x="498.80" y="659.74" font-size="6.7" fill="#3a3a3a" text-anchor="end" textLength="7.75" lengthAdjust="spacingAndGlyphs" >25</text>
<line x1="502.80" y1="629.17" x2="506.00" y2="629.17" stroke="#7d7d7d" stroke-width="0.7" />
<text x="498.80" y="631.67" font-size="6.7" fill="#3a3a3a" text-anchor="end" textLength="7.75" lengthAdjust="spacingAndGlyphs" >50</text>
<line x1="502.80" y1="601.11" x2="506.00" y2="601.11" stroke="#7d7d7d" stroke-width="0.7" />
<text x="498.80" y="603.61" font-size="6.7" fill="#3a3a3a" text-anchor="end" textLength="7.75" lengthAdjust="spacingAndGlyphs" >75</text>
<line x1="502.80" y1="573.05" x2="506.00" y2="573.05" stroke="#7d7d7d" stroke-width="0.7" />
<text x="498.80" y="575.55" font-size="6.7" fill="#3a3a3a" text-anchor="end" textLength="11.62" lengthAdjust="spacingAndGlyphs" >100</text>
<line x1="506.00" y1="685.30" x2="675.00" y2="685.30" stroke="#7d7d7d" stroke-width="0.7" />
<rect x="516.40" y="548.0" width="5.6" height="5.6" fill="#063b23"/>
<rect x="516.40" y="560.9" width="5.6" height="5.6" fill="#54bd1e"/>
<text x="526.60" y="553.60" font-size="7.0" fill="#3a3a3a" textLength="15.90" lengthAdjust="spacingAndGlyphs" >LMW</text>
<text x="526.60" y="566.50" font-size="7.0" fill="#3a3a3a" textLength="30.20" lengthAdjust="spacingAndGlyphs" >Decamer</text>
<text x="591.00" y="537.00" font-size="8.4" fill="#2fb36a" text-anchor="middle" >Strep-Tsa1–His<tspan font-size="5.6" dy="1.8">6</tspan><tspan dy="-1.8">-Tsa2-EPEA</tspan></text>
<rect x="516.35" y="666.44" width="8.2" height="18.86" fill="#063b23" stroke="#2d2d2d" stroke-width="0.75"/>
<line x1="520.45" y1="666.44" x2="520.45" y2="659.26" stroke="#9a9a9a" stroke-width="0.7" />
<line x1="518.85" y1="659.26" x2="522.05" y2="659.26" stroke="#9a9a9a" stroke-width="0.7" />
<circle cx="516.85" cy="657.24" r="2.55" fill="#063b23" stroke="#2d2d2d" stroke-width="0.6"/>
<circle cx="520.45" cy="673.51" r="2.55" fill="#063b23" stroke="#2d2d2d" stroke-width="0.6"/>
<circle cx="524.05" cy="668.24" r="2.55" fill="#063b23" stroke="#2d2d2d" stroke-width="0.6"/>
<rect x="530.45" y="599.32" width="8.2" height="85.98" fill="#54bd1e" stroke="#2d2d2d" stroke-width="0.75"/>
<line x1="534.55" y1="599.32" x2="534.55" y2="594.15" stroke="#9a9a9a" stroke-width="0.7" />
<line x1="532.95" y1="594.15" x2="536.15" y2="594.15" stroke="#9a9a9a" stroke-width="0.7" />
<circle cx="530.95" cy="594.15" r="2.55" fill="#54bd1e" stroke="#2d2d2d" stroke-width="0.6"/>
<circle cx="534.55" cy="606.72" r="2.55" fill="#54bd1e" stroke="#2d2d2d" stroke-width="0.6"/>
<circle cx="538.15" cy="596.29" r="2.55" fill="#54bd1e" stroke="#2d2d2d" stroke-width="0.6"/>
<text x="527.45" y="696.10" font-size="7.0" fill="#3a3a3a" text-anchor="middle" textLength="8.10" lengthAdjust="spacingAndGlyphs" >20</text>
<rect x="558.60" y="672.95" width="8.2" height="12.35" fill="#063b23" stroke="#2d2d2d" stroke-width="0.75"/>
<circle cx="559.10" cy="673.51" r="2.55" fill="#063b23" stroke="#2d2d2d" stroke-width="0.6"/>
<circle cx="562.70" cy="666.11" r="2.55" fill="#063b23" stroke="#2d2d2d" stroke-width="0.6"/>
<circle cx="566.30" cy="678.23" r="2.55" fill="#063b23" stroke="#2d2d2d" stroke-width="0.6"/>
<rect x="572.70" y="594.94" width="8.2" height="90.36" fill="#54bd1e" stroke="#2d2d2d" stroke-width="0.75"/>
<line x1="576.80" y1="594.94" x2="576.80" y2="586.52" stroke="#9a9a9a" stroke-width="0.7" />
<line x1="575.20" y1="586.52" x2="578.40" y2="586.52" stroke="#9a9a9a" stroke-width="0.7" />
<circle cx="573.20" cy="588.32" r="2.55" fill="#54bd1e" stroke="#2d2d2d" stroke-width="0.6"/>
<circle cx="576.80" cy="607.85" r="2.55" fill="#54bd1e" stroke="#2d2d2d" stroke-width="0.6"/>
<circle cx="580.40" cy="588.32" r="2.55" fill="#54bd1e" stroke="#2d2d2d" stroke-width="0.6"/>
<text x="569.70" y="696.10" font-size="7.0" fill="#3a3a3a" text-anchor="middle" textLength="8.10" lengthAdjust="spacingAndGlyphs" >30</text>
<rect x="600.85" y="664.31" width="8.2" height="20.99" fill="#063b23" stroke="#2d2d2d" stroke-width="0.75"/>
<circle cx="601.35" cy="673.74" r="2.55" fill="#063b23" stroke="#2d2d2d" stroke-width="0.6"/>
<circle cx="604.95" cy="659.03" r="2.55" fill="#063b23" stroke="#2d2d2d" stroke-width="0.6"/>
<circle cx="608.55" cy="660.38" r="2.55" fill="#063b23" stroke="#2d2d2d" stroke-width="0.6"/>
<rect x="614.95" y="595.95" width="8.2" height="89.35" fill="#54bd1e" stroke="#2d2d2d" stroke-width="0.75"/>
<line x1="619.05" y1="595.95" x2="619.05" y2="591.46" stroke="#9a9a9a" stroke-width="0.7" />
<line x1="617.45" y1="591.46" x2="620.65" y2="591.46" stroke="#9a9a9a" stroke-width="0.7" />
<circle cx="615.45" cy="589.66" r="2.55" fill="#54bd1e" stroke="#2d2d2d" stroke-width="0.6"/>
<circle cx="619.05" cy="599.99" r="2.55" fill="#54bd1e" stroke="#2d2d2d" stroke-width="0.6"/>
<circle cx="622.65" cy="598.53" r="2.55" fill="#54bd1e" stroke="#2d2d2d" stroke-width="0.6"/>
<text x="611.95" y="696.10" font-size="7.0" fill="#3a3a3a" text-anchor="middle" textLength="8.10" lengthAdjust="spacingAndGlyphs" >40</text>
<rect x="643.10" y="646.24" width="8.2" height="39.06" fill="#063b23" stroke="#2d2d2d" stroke-width="0.75"/>
<line x1="647.20" y1="646.24" x2="647.20" y2="632.32" stroke="#9a9a9a" stroke-width="0.7" />
<line x1="645.60" y1="632.32" x2="648.80" y2="632.32" stroke="#9a9a9a" stroke-width="0.7" />
<circle cx="643.60" cy="629.17" r="2.55" fill="#063b23" stroke="#2d2d2d" stroke-width="0.6"/>
<circle cx="647.20" cy="662.51" r="2.55" fill="#063b23" stroke="#2d2d2d" stroke-width="0.6"/>
<circle cx="650.80" cy="645.90" r="2.55" fill="#063b23" stroke="#2d2d2d" stroke-width="0.6"/>
<rect x="657.20" y="613.12" width="8.2" height="72.18" fill="#54bd1e" stroke="#2d2d2d" stroke-width="0.75"/>
<line x1="661.30" y1="613.12" x2="661.30" y2="595.50" stroke="#9a9a9a" stroke-width="0.7" />
<line x1="659.70" y1="595.50" x2="662.90" y2="595.50" stroke="#9a9a9a" stroke-width="0.7" />
<circle cx="657.70" cy="630.19" r="2.55" fill="#54bd1e" stroke="#2d2d2d" stroke-width="0.6"/>
<circle cx="661.30" cy="595.50" r="2.55" fill="#54bd1e" stroke="#2d2d2d" stroke-width="0.6"/>
<circle cx="664.90" cy="613.24" r="2.55" fill="#54bd1e" stroke="#2d2d2d" stroke-width="0.6"/>
<text x="654.20" y="696.10" font-size="7.0" fill="#3a3a3a" text-anchor="middle" textLength="8.10" lengthAdjust="spacingAndGlyphs" >45</text>
<text x="591.00" y="708.80" font-size="8.4" fill="#3a3a3a" text-anchor="middle" ><tspan font-style="italic">T</tspan> (°C)</text>
<text x="5.60" y="629.20" font-size="8.0" fill="#3a3a3a" text-anchor="middle" textLength="59.20" lengthAdjust="spacingAndGlyphs" transform="rotate(-90 5.6 629.2)">Percentage (%)</text>
</svg>
</body></html>
